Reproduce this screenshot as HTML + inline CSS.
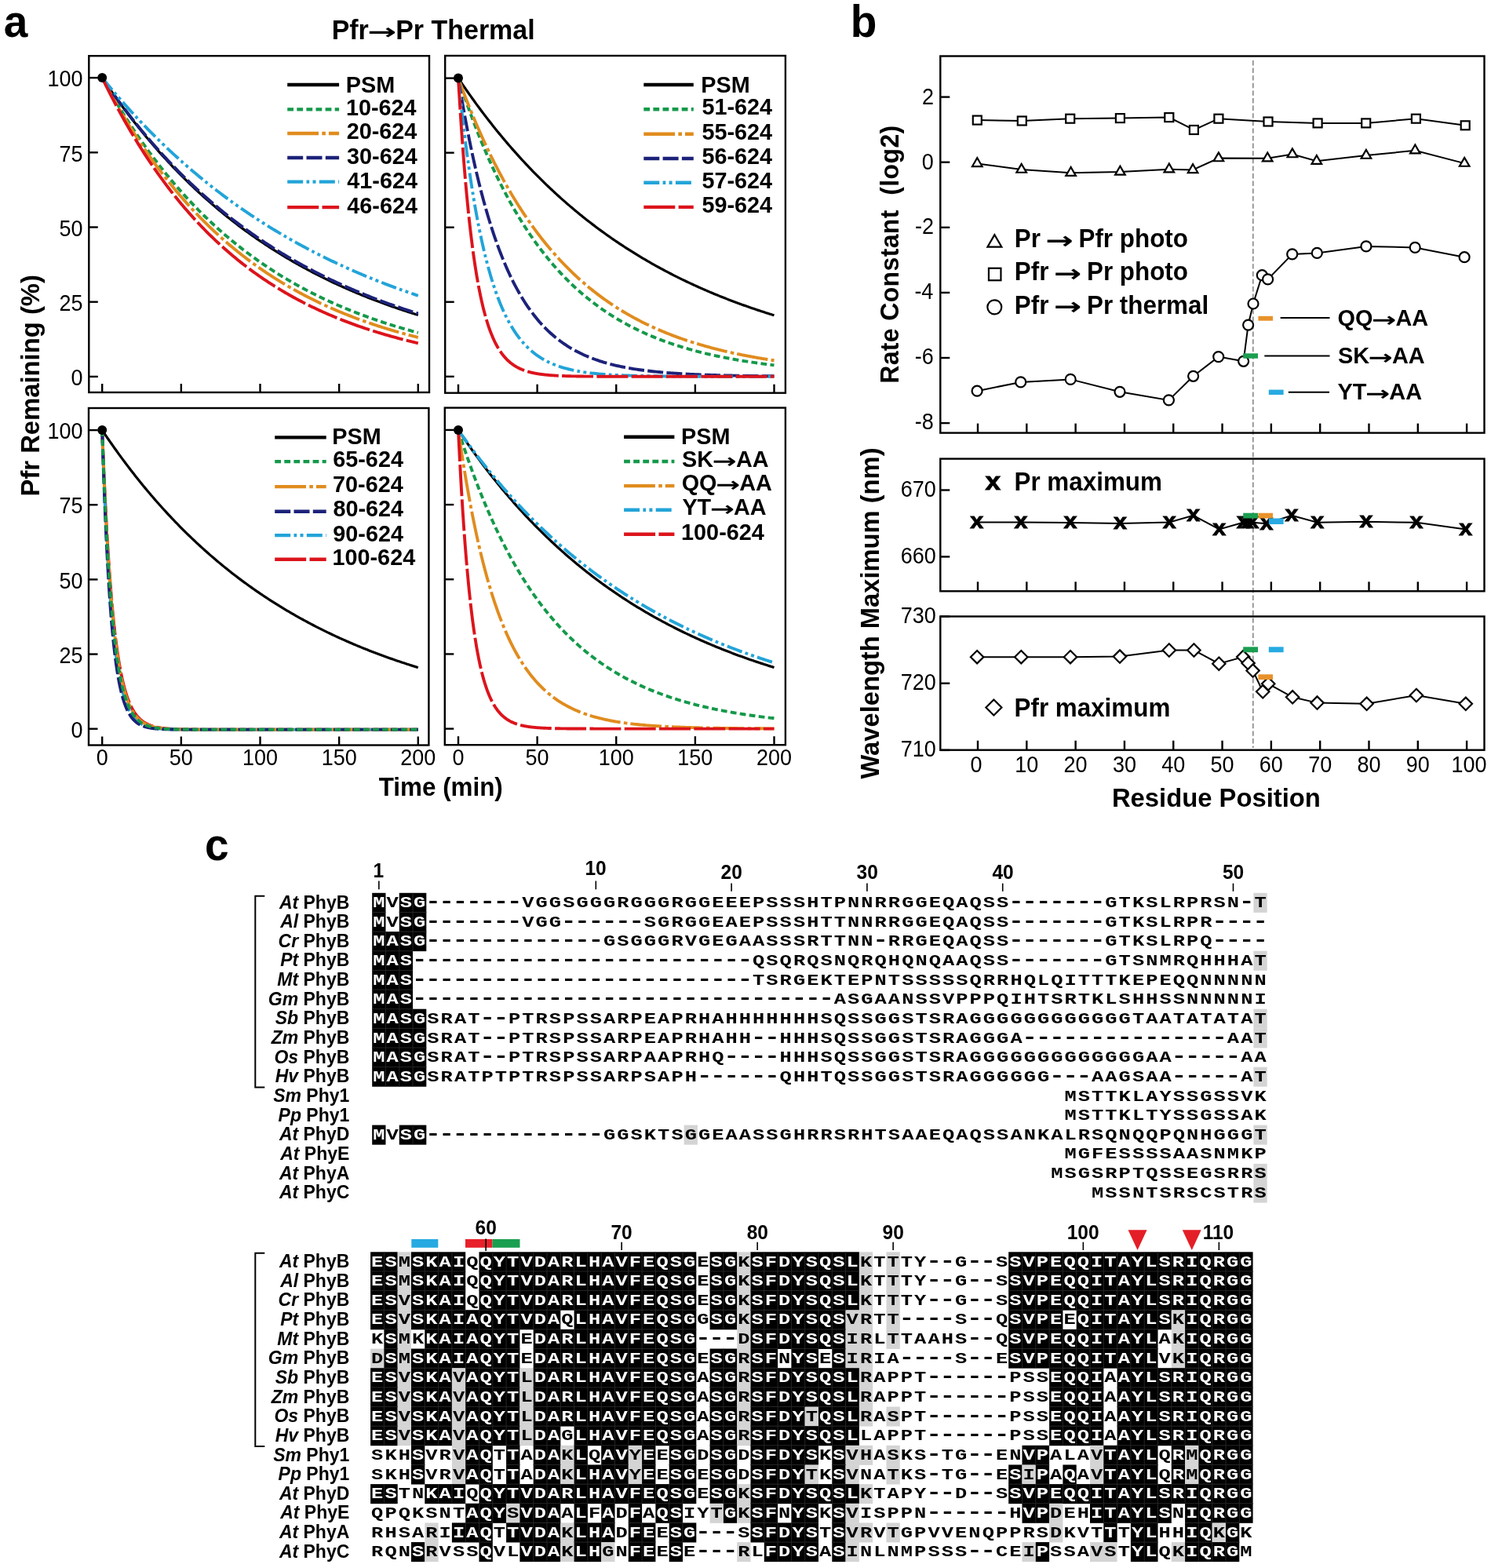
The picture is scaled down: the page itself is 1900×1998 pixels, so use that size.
<!DOCTYPE html>
<html><head><meta charset="utf-8"><title>Figure</title>
<style>html,body{margin:0;padding:0;background:#fff;}svg{display:block;}</style>
</head><body>
<svg xmlns="http://www.w3.org/2000/svg" width="1900" height="1998" viewBox="0 0 1900 1998" font-family="'Liberation Sans', Arial, sans-serif">
<rect width="100%" height="100%" fill="#fff"/>
<text transform="translate(4.79,47.4) scale(1,1.04)" font-size="55" style="font-weight:bold" fill="#000">a</text>
<text transform="translate(422.63,49.6) scale(1,1.04)" font-size="34" style="font-weight:bold" fill="#000">Pfr</text>
<text transform="translate(468.23,50.01) scale(1.2978,0.8168)" font-family="'DejaVu Sans', sans-serif" font-size="34" style="font-weight:bold">→</text>
<text transform="translate(504.13,49.6) scale(1,1.04)" font-size="34" style="font-weight:bold" fill="#000">Pr Thermal</text>
<polyline points="130.2,99.1 132.21,102.1 134.23,105.07 136.24,108.02 138.25,110.95 140.26,113.85 142.28,116.73 144.29,119.59 146.3,122.42 148.32,125.23 150.33,128.03 152.34,130.79 154.36,133.54 156.37,136.27 158.38,138.97 160.39,141.65 162.41,144.32 164.42,146.96 166.43,149.58 168.45,152.18 170.46,154.75 172.47,157.31 174.49,159.85 176.5,162.37 178.51,164.87 180.52,167.35 182.54,169.81 184.55,172.25 186.56,174.67 188.58,177.07 190.59,179.45 192.6,181.82 194.62,184.16 196.63,186.49 198.64,188.8 200.65,191.09 202.67,193.36 204.68,195.62 206.69,197.85 208.71,200.07 210.72,202.27 212.73,204.46 214.75,206.63 216.76,208.78 218.77,210.91 220.78,213.03 222.8,215.13 224.81,217.21 226.82,219.28 228.84,221.33 230.85,223.36 232.86,225.38 234.88,227.38 236.89,229.37 238.9,231.34 240.91,233.3 242.93,235.24 244.94,237.16 246.95,239.07 248.97,240.97 250.98,242.85 252.99,244.71 255.01,246.57 257.02,248.4 259.03,250.22 261.04,252.03 263.06,253.82 265.07,255.6 267.08,257.37 269.1,259.12 271.11,260.86 273.12,262.58 275.14,264.29 277.15,265.99 279.16,267.67 281.17,269.34 283.19,271 285.2,272.64 287.21,274.27 289.23,275.89 291.24,277.49 293.25,279.09 295.27,280.67 297.28,282.23 299.29,283.79 301.3,285.33 303.32,286.86 305.33,288.38 307.34,289.89 309.36,291.39 311.37,292.87 313.38,294.34 315.4,295.8 317.41,297.25 319.42,298.69 321.44,300.11 323.45,301.53 325.46,302.93 327.47,304.32 329.49,305.71 331.5,307.08 333.51,308.44 335.53,309.79 337.54,311.12 339.55,312.45 341.56,313.77 343.58,315.08 345.59,316.37 347.6,317.66 349.62,318.94 351.63,320.2 353.64,321.46 355.66,322.71 357.67,323.94 359.68,325.17 361.69,326.39 363.71,327.6 365.72,328.8 367.73,329.98 369.75,331.16 371.76,332.33 373.77,333.5 375.79,334.65 377.8,335.79 379.81,336.92 381.82,338.05 383.84,339.17 385.85,340.27 387.86,341.37 389.88,342.46 391.89,343.54 393.9,344.62 395.92,345.68 397.93,346.74 399.94,347.78 401.95,348.82 403.97,349.86 405.98,350.88 407.99,351.89 410.01,352.9 412.02,353.9 414.03,354.89 416.05,355.88 418.06,356.85 420.07,357.82 422.08,358.78 424.1,359.73 426.11,360.68 428.12,361.62 430.14,362.55 432.15,363.47 434.16,364.39 436.18,365.3 438.19,366.2 440.2,367.09 442.21,367.98 444.23,368.86 446.24,369.74 448.25,370.6 450.27,371.46 452.28,372.32 454.29,373.16 456.31,374 458.32,374.84 460.33,375.66 462.34,376.48 464.36,377.3 466.37,378.1 468.38,378.9 470.4,379.7 472.41,380.49 474.42,381.27 476.44,382.05 478.45,382.82 480.46,383.58 482.47,384.34 484.49,385.09 486.5,385.84 488.51,386.58 490.53,387.31 492.54,388.04 494.55,388.76 496.57,389.48 498.58,390.19 500.59,390.9 502.6,391.6 504.62,392.29 506.63,392.98 508.64,393.67 510.66,394.34 512.67,395.02 514.68,395.68 516.7,396.35 518.71,397.01 520.72,397.66 522.74,398.3 524.75,398.95 526.76,399.58 528.77,400.22 530.79,400.84 532.8,401.46" fill="none" stroke="#000" stroke-width="3.2" stroke-linejoin="round"/>
<polyline points="130.2,99.1 132.21,102.73 134.23,106.33 136.24,109.9 138.25,113.43 140.26,116.93 142.28,120.39 144.29,123.82 146.3,127.22 148.32,130.59 150.33,133.92 152.34,137.22 154.36,140.49 156.37,143.73 158.38,146.94 160.39,150.12 162.41,153.27 164.42,156.39 166.43,159.47 168.45,162.53 170.46,165.56 172.47,168.56 174.49,171.53 176.5,174.47 178.51,177.39 180.52,180.28 182.54,183.14 184.55,185.97 186.56,188.77 188.58,191.55 190.59,194.31 192.6,197.03 194.62,199.73 196.63,202.4 198.64,205.05 200.65,207.68 202.67,210.27 204.68,212.85 206.69,215.4 208.71,217.92 210.72,220.42 212.73,222.9 214.75,225.35 216.76,227.78 218.77,230.19 220.78,232.57 222.8,234.93 224.81,237.27 226.82,239.58 228.84,241.88 230.85,244.15 232.86,246.4 234.88,248.63 236.89,250.84 238.9,253.02 240.91,255.19 242.93,257.33 244.94,259.46 246.95,261.56 248.97,263.64 250.98,265.71 252.99,267.75 255.01,269.78 257.02,271.78 259.03,273.77 261.04,275.74 263.06,277.68 265.07,279.61 267.08,281.53 269.1,283.42 271.11,285.29 273.12,287.15 275.14,288.99 277.15,290.81 279.16,292.62 281.17,294.41 283.19,296.18 285.2,297.93 287.21,299.67 289.23,301.39 291.24,303.09 293.25,304.78 295.27,306.45 297.28,308.1 299.29,309.74 301.3,311.37 303.32,312.98 305.33,314.57 307.34,316.15 309.36,317.71 311.37,319.26 313.38,320.79 315.4,322.31 317.41,323.81 319.42,325.3 321.44,326.78 323.45,328.24 325.46,329.69 327.47,331.12 329.49,332.54 331.5,333.95 333.51,335.34 335.53,336.72 337.54,338.09 339.55,339.44 341.56,340.78 343.58,342.11 345.59,343.42 347.6,344.73 349.62,346.02 351.63,347.3 353.64,348.56 355.66,349.81 357.67,351.06 359.68,352.29 361.69,353.5 363.71,354.71 365.72,355.9 367.73,357.09 369.75,358.26 371.76,359.42 373.77,360.57 375.79,361.71 377.8,362.84 379.81,363.96 381.82,365.06 383.84,366.16 385.85,367.24 387.86,368.32 389.88,369.38 391.89,370.44 393.9,371.48 395.92,372.52 397.93,373.54 399.94,374.56 401.95,375.56 403.97,376.56 405.98,377.55 407.99,378.52 410.01,379.49 412.02,380.45 414.03,381.4 416.05,382.34 418.06,383.27 420.07,384.19 422.08,385.1 424.1,386.01 426.11,386.91 428.12,387.79 430.14,388.67 432.15,389.54 434.16,390.4 436.18,391.26 438.19,392.11 440.2,392.94 442.21,393.77 444.23,394.59 446.24,395.41 448.25,396.22 450.27,397.01 452.28,397.81 454.29,398.59 456.31,399.36 458.32,400.13 460.33,400.89 462.34,401.65 464.36,402.4 466.37,403.14 468.38,403.87 470.4,404.59 472.41,405.31 474.42,406.02 476.44,406.73 478.45,407.43 480.46,408.12 482.47,408.8 484.49,409.48 486.5,410.16 488.51,410.82 490.53,411.48 492.54,412.13 494.55,412.78 496.57,413.42 498.58,414.05 500.59,414.68 502.6,415.31 504.62,415.92 506.63,416.53 508.64,417.14 510.66,417.74 512.67,418.33 514.68,418.92 516.7,419.5 518.71,420.08 520.72,420.65 522.74,421.21 524.75,421.77 526.76,422.33 528.77,422.88 530.79,423.42 532.8,423.96" fill="none" stroke="#14994a" stroke-width="3.9" stroke-dasharray="7.8 4.3" stroke-linejoin="round"/>
<polyline points="130.2,99.1 132.21,102.95 134.23,106.76 136.24,110.53 138.25,114.27 140.26,117.96 142.28,121.62 144.29,125.24 146.3,128.83 148.32,132.38 150.33,135.89 152.34,139.37 154.36,142.81 156.37,146.22 158.38,149.59 160.39,152.93 162.41,156.23 164.42,159.51 166.43,162.74 168.45,165.95 170.46,169.12 172.47,172.26 174.49,175.37 176.5,178.45 178.51,181.5 180.52,184.52 182.54,187.5 184.55,190.46 186.56,193.38 188.58,196.28 190.59,199.15 192.6,201.99 194.62,204.79 196.63,207.58 198.64,210.33 200.65,213.05 202.67,215.75 204.68,218.42 206.69,221.06 208.71,223.68 210.72,226.27 212.73,228.83 214.75,231.37 216.76,233.88 218.77,236.37 220.78,238.83 222.8,241.27 224.81,243.68 226.82,246.07 228.84,248.43 230.85,250.77 232.86,253.09 234.88,255.38 236.89,257.65 238.9,259.9 240.91,262.12 242.93,264.32 244.94,266.5 246.95,268.66 248.97,270.8 250.98,272.91 252.99,275 255.01,277.07 257.02,279.12 259.03,281.15 261.04,283.16 263.06,285.15 265.07,287.12 267.08,289.07 269.1,291 271.11,292.91 273.12,294.8 275.14,296.67 277.15,298.52 279.16,300.35 281.17,302.17 283.19,303.97 285.2,305.74 287.21,307.5 289.23,309.25 291.24,310.97 293.25,312.68 295.27,314.37 297.28,316.04 299.29,317.7 301.3,319.34 303.32,320.96 305.33,322.57 307.34,324.16 309.36,325.73 311.37,327.29 313.38,328.83 315.4,330.36 317.41,331.87 319.42,333.37 321.44,334.85 323.45,336.32 325.46,337.77 327.47,339.21 329.49,340.63 331.5,342.04 333.51,343.43 335.53,344.81 337.54,346.17 339.55,347.53 341.56,348.86 343.58,350.19 345.59,351.5 347.6,352.8 349.62,354.08 351.63,355.35 353.64,356.61 355.66,357.86 357.67,359.09 359.68,360.31 361.69,361.52 363.71,362.72 365.72,363.9 367.73,365.08 369.75,366.24 371.76,367.39 373.77,368.52 375.79,369.65 377.8,370.76 379.81,371.87 381.82,372.96 383.84,374.04 385.85,375.11 387.86,376.17 389.88,377.22 391.89,378.26 393.9,379.28 395.92,380.3 397.93,381.31 399.94,382.3 401.95,383.29 403.97,384.27 405.98,385.23 407.99,386.19 410.01,387.14 412.02,388.08 414.03,389 416.05,389.92 418.06,390.83 420.07,391.73 422.08,392.62 424.1,393.51 426.11,394.38 428.12,395.24 430.14,396.1 432.15,396.95 434.16,397.79 436.18,398.62 438.19,399.44 440.2,400.25 442.21,401.06 444.23,401.85 446.24,402.64 448.25,403.42 450.27,404.2 452.28,404.96 454.29,405.72 456.31,406.47 458.32,407.21 460.33,407.95 462.34,408.67 464.36,409.39 466.37,410.11 468.38,410.81 470.4,411.51 472.41,412.2 474.42,412.89 476.44,413.56 478.45,414.23 480.46,414.9 482.47,415.55 484.49,416.2 486.5,416.85 488.51,417.49 490.53,418.12 492.54,418.74 494.55,419.36 496.57,419.97 498.58,420.58 500.59,421.18 502.6,421.77 504.62,422.36 506.63,422.94 508.64,423.52 510.66,424.09 512.67,424.65 514.68,425.21 516.7,425.76 518.71,426.31 520.72,426.85 522.74,427.39 524.75,427.92 526.76,428.44 528.77,428.96 530.79,429.48 532.8,429.99" fill="none" stroke="#e08c1e" stroke-width="3.9" stroke-dasharray="39.8 4.3 4.6 4.0" stroke-linejoin="round"/>
<polyline points="130.2,99.1 132.21,102.05 134.23,104.98 136.24,107.88 138.25,110.77 140.26,113.63 142.28,116.47 144.29,119.28 146.3,122.08 148.32,124.85 150.33,127.6 152.34,130.33 154.36,133.04 156.37,135.73 158.38,138.4 160.39,141.04 162.41,143.67 164.42,146.28 166.43,148.86 168.45,151.43 170.46,153.97 172.47,156.5 174.49,159 176.5,161.49 178.51,163.96 180.52,166.41 182.54,168.84 184.55,171.25 186.56,173.64 188.58,176.01 190.59,178.37 192.6,180.71 194.62,183.02 196.63,185.32 198.64,187.61 200.65,189.87 202.67,192.12 204.68,194.35 206.69,196.56 208.71,198.76 210.72,200.94 212.73,203.1 214.75,205.25 216.76,207.37 218.77,209.49 220.78,211.58 222.8,213.66 224.81,215.72 226.82,217.77 228.84,219.8 230.85,221.82 232.86,223.82 234.88,225.8 236.89,227.77 238.9,229.73 240.91,231.67 242.93,233.59 244.94,235.5 246.95,237.39 248.97,239.27 250.98,241.14 252.99,242.99 255.01,244.82 257.02,246.64 259.03,248.45 261.04,250.25 263.06,252.03 265.07,253.79 267.08,255.54 269.1,257.28 271.11,259.01 273.12,260.72 275.14,262.42 277.15,264.1 279.16,265.78 281.17,267.44 283.19,269.08 285.2,270.72 287.21,272.34 289.23,273.95 291.24,275.54 293.25,277.13 295.27,278.7 297.28,280.26 299.29,281.8 301.3,283.34 303.32,284.86 305.33,286.37 307.34,287.87 309.36,289.36 311.37,290.84 313.38,292.3 315.4,293.76 317.41,295.2 319.42,296.63 321.44,298.05 323.45,299.46 325.46,300.86 327.47,302.25 329.49,303.62 331.5,304.99 333.51,306.35 335.53,307.69 337.54,309.02 339.55,310.35 341.56,311.66 343.58,312.97 345.59,314.26 347.6,315.54 349.62,316.82 351.63,318.08 353.64,319.34 355.66,320.58 357.67,321.81 359.68,323.04 361.69,324.26 363.71,325.46 365.72,326.66 367.73,327.85 369.75,329.02 371.76,330.19 373.77,331.35 375.79,332.51 377.8,333.65 379.81,334.78 381.82,335.91 383.84,337.02 385.85,338.13 387.86,339.23 389.88,340.32 391.89,341.4 393.9,342.47 395.92,343.54 397.93,344.59 399.94,345.64 401.95,346.68 403.97,347.72 405.98,348.74 407.99,349.76 410.01,350.77 412.02,351.77 414.03,352.76 416.05,353.74 418.06,354.72 420.07,355.69 422.08,356.65 424.1,357.61 426.11,358.56 428.12,359.5 430.14,360.43 432.15,361.36 434.16,362.28 436.18,363.19 438.19,364.09 440.2,364.99 442.21,365.88 444.23,366.76 446.24,367.64 448.25,368.51 450.27,369.37 452.28,370.23 454.29,371.08 456.31,371.92 458.32,372.76 460.33,373.59 462.34,374.41 464.36,375.23 466.37,376.04 468.38,376.85 470.4,377.65 472.41,378.44 474.42,379.23 476.44,380.01 478.45,380.78 480.46,381.55 482.47,382.31 484.49,383.07 486.5,383.82 488.51,384.56 490.53,385.3 492.54,386.03 494.55,386.76 496.57,387.48 498.58,388.2 500.59,388.91 502.6,389.61 504.62,390.31 506.63,391.01 508.64,391.7 510.66,392.38 512.67,393.06 514.68,393.73 516.7,394.4 518.71,395.06 520.72,395.72 522.74,396.37 524.75,397.02 526.76,397.66 528.77,398.3 530.79,398.93 532.8,399.56" fill="none" stroke="#1c2279" stroke-width="3.9" stroke-dasharray="20 4.3" stroke-linejoin="round"/>
<polyline points="130.2,99.1 132.21,101.58 134.23,104.04 136.24,106.49 138.25,108.92 140.26,111.33 142.28,113.73 144.29,116.11 146.3,118.48 148.32,120.83 150.33,123.17 152.34,125.49 154.36,127.8 156.37,130.09 158.38,132.37 160.39,134.63 162.41,136.88 164.42,139.11 166.43,141.33 168.45,143.53 170.46,145.72 172.47,147.9 174.49,150.06 176.5,152.2 178.51,154.34 180.52,156.46 182.54,158.56 184.55,160.65 186.56,162.73 188.58,164.8 190.59,166.85 192.6,168.88 194.62,170.91 196.63,172.92 198.64,174.92 200.65,176.9 202.67,178.87 204.68,180.83 206.69,182.78 208.71,184.71 210.72,186.64 212.73,188.54 214.75,190.44 216.76,192.32 218.77,194.2 220.78,196.06 222.8,197.9 224.81,199.74 226.82,201.56 228.84,203.37 230.85,205.17 232.86,206.96 234.88,208.74 236.89,210.5 238.9,212.26 240.91,214 242.93,215.73 244.94,217.45 246.95,219.16 248.97,220.85 250.98,222.54 252.99,224.22 255.01,225.88 257.02,227.53 259.03,229.18 261.04,230.81 263.06,232.43 265.07,234.04 267.08,235.64 269.1,237.23 271.11,238.81 273.12,240.38 275.14,241.94 277.15,243.49 279.16,245.02 281.17,246.55 283.19,248.07 285.2,249.58 287.21,251.08 289.23,252.57 291.24,254.05 293.25,255.52 295.27,256.98 297.28,258.43 299.29,259.87 301.3,261.3 303.32,262.73 305.33,264.14 307.34,265.54 309.36,266.94 311.37,268.33 313.38,269.7 315.4,271.07 317.41,272.43 319.42,273.78 321.44,275.12 323.45,276.46 325.46,277.78 327.47,279.09 329.49,280.4 331.5,281.7 333.51,282.99 335.53,284.27 337.54,285.55 339.55,286.81 341.56,288.07 343.58,289.32 345.59,290.56 347.6,291.79 349.62,293.01 351.63,294.23 353.64,295.44 355.66,296.64 357.67,297.83 359.68,299.02 361.69,300.19 363.71,301.36 365.72,302.53 367.73,303.68 369.75,304.83 371.76,305.97 373.77,307.1 375.79,308.22 377.8,309.34 379.81,310.45 381.82,311.55 383.84,312.65 385.85,313.74 387.86,314.82 389.88,315.89 391.89,316.96 393.9,318.02 395.92,319.08 397.93,320.12 399.94,321.16 401.95,322.2 403.97,323.22 405.98,324.24 407.99,325.25 410.01,326.26 412.02,327.26 414.03,328.25 416.05,329.24 418.06,330.22 420.07,331.2 422.08,332.16 424.1,333.13 426.11,334.08 428.12,335.03 430.14,335.97 432.15,336.91 434.16,337.84 436.18,338.77 438.19,339.68 440.2,340.6 442.21,341.5 444.23,342.4 446.24,343.3 448.25,344.19 450.27,345.07 452.28,345.95 454.29,346.82 456.31,347.69 458.32,348.55 460.33,349.4 462.34,350.25 464.36,351.1 466.37,351.93 468.38,352.77 470.4,353.59 472.41,354.42 474.42,355.23 476.44,356.04 478.45,356.85 480.46,357.65 482.47,358.45 484.49,359.24 486.5,360.02 488.51,360.8 490.53,361.58 492.54,362.35 494.55,363.11 496.57,363.87 498.58,364.63 500.59,365.38 502.6,366.12 504.62,366.87 506.63,367.6 508.64,368.33 510.66,369.06 512.67,369.78 514.68,370.5 516.7,371.21 518.71,371.92 520.72,372.62 522.74,373.32 524.75,374.01 526.76,374.7 528.77,375.38 530.79,376.06 532.8,376.74" fill="none" stroke="#22a4d8" stroke-width="3.9" stroke-dasharray="20 4.3 3.7 4.3 4.0 4.3" stroke-linejoin="round"/>
<polyline points="130.2,99.1 132.21,103.25 134.23,107.35 136.24,111.41 138.25,115.42 140.26,119.39 142.28,123.31 144.29,127.2 146.3,131.04 148.32,134.84 150.33,138.6 152.34,142.31 154.36,145.99 156.37,149.63 158.38,153.22 160.39,156.78 162.41,160.3 164.42,163.78 166.43,167.22 168.45,170.63 170.46,174 172.47,177.33 174.49,180.62 176.5,183.88 178.51,187.1 180.52,190.29 182.54,193.45 184.55,196.57 186.56,199.65 188.58,202.7 190.59,205.72 192.6,208.71 194.62,211.66 196.63,214.58 198.64,217.47 200.65,220.33 202.67,223.16 204.68,225.95 206.69,228.72 208.71,231.45 210.72,234.16 212.73,236.84 214.75,239.48 216.76,242.1 218.77,244.69 220.78,247.25 222.8,249.79 224.81,252.29 226.82,254.77 228.84,257.22 230.85,259.65 232.86,262.05 234.88,264.42 236.89,266.77 238.9,269.09 240.91,271.38 242.93,273.65 244.94,275.9 246.95,278.12 248.97,280.32 250.98,282.49 252.99,284.64 255.01,286.77 257.02,288.87 259.03,290.95 261.04,293.01 263.06,295.04 265.07,297.06 267.08,299.05 269.1,301.02 271.11,302.97 273.12,304.89 275.14,306.8 277.15,308.68 279.16,310.55 281.17,312.39 283.19,314.22 285.2,316.02 287.21,317.81 289.23,319.57 291.24,321.32 293.25,323.04 295.27,324.75 297.28,326.44 299.29,328.11 301.3,329.77 303.32,331.4 305.33,333.02 307.34,334.62 309.36,336.2 311.37,337.77 313.38,339.31 315.4,340.84 317.41,342.36 319.42,343.86 321.44,345.34 323.45,346.8 325.46,348.25 327.47,349.69 329.49,351.1 331.5,352.51 333.51,353.89 335.53,355.27 337.54,356.62 339.55,357.97 341.56,359.29 343.58,360.61 345.59,361.91 347.6,363.19 349.62,364.46 351.63,365.72 353.64,366.96 355.66,368.19 357.67,369.41 359.68,370.61 361.69,371.8 363.71,372.98 365.72,374.15 367.73,375.3 369.75,376.44 371.76,377.56 373.77,378.68 375.79,379.78 377.8,380.87 379.81,381.95 381.82,383.02 383.84,384.07 385.85,385.11 387.86,386.15 389.88,387.17 391.89,388.18 393.9,389.18 395.92,390.16 397.93,391.14 399.94,392.11 401.95,393.06 403.97,394.01 405.98,394.94 407.99,395.87 410.01,396.79 412.02,397.69 414.03,398.59 416.05,399.47 418.06,400.35 420.07,401.21 422.08,402.07 424.1,402.92 426.11,403.76 428.12,404.59 430.14,405.41 432.15,406.22 434.16,407.02 436.18,407.81 438.19,408.6 440.2,409.37 442.21,410.14 444.23,410.9 446.24,411.65 448.25,412.4 450.27,413.13 452.28,413.86 454.29,414.58 456.31,415.29 458.32,415.99 460.33,416.69 462.34,417.38 464.36,418.06 466.37,418.73 468.38,419.4 470.4,420.06 472.41,420.71 474.42,421.35 476.44,421.99 478.45,422.62 480.46,423.25 482.47,423.86 484.49,424.47 486.5,425.08 488.51,425.67 490.53,426.26 492.54,426.85 494.55,427.43 496.57,428 498.58,428.56 500.59,429.12 502.6,429.67 504.62,430.22 506.63,430.76 508.64,431.3 510.66,431.83 512.67,432.35 514.68,432.87 516.7,433.38 518.71,433.89 520.72,434.39 522.74,434.88 524.75,435.37 526.76,435.86 528.77,436.34 530.79,436.81 532.8,437.28" fill="none" stroke="#dc141c" stroke-width="3.9" stroke-dasharray="40 4.3" stroke-linejoin="round"/>
<circle cx="130.2" cy="99.1" r="6" fill="#000"/>
<rect x="113.3" y="71.2" width="433.7" height="428.8" fill="none" stroke="#000" stroke-width="2.4"/>
<line x1="113.3" y1="479.9" x2="124.8" y2="479.9" stroke="#000" stroke-width="2.4"/>
<line x1="113.3" y1="384.7" x2="124.8" y2="384.7" stroke="#000" stroke-width="2.4"/>
<line x1="113.3" y1="289.5" x2="124.8" y2="289.5" stroke="#000" stroke-width="2.4"/>
<line x1="113.3" y1="194.3" x2="124.8" y2="194.3" stroke="#000" stroke-width="2.4"/>
<line x1="113.3" y1="99.1" x2="124.8" y2="99.1" stroke="#000" stroke-width="2.4"/>
<line x1="130.2" y1="500" x2="130.2" y2="489" stroke="#000" stroke-width="2.4"/>
<line x1="230.85" y1="500" x2="230.85" y2="489" stroke="#000" stroke-width="2.4"/>
<line x1="331.5" y1="500" x2="331.5" y2="489" stroke="#000" stroke-width="2.4"/>
<line x1="432.15" y1="500" x2="432.15" y2="489" stroke="#000" stroke-width="2.4"/>
<line x1="532.8" y1="500" x2="532.8" y2="489" stroke="#000" stroke-width="2.4"/>
<text transform="translate(90.44,491.1) scale(1,1.075)" font-size="27" style="" fill="#000">0</text>
<text transform="translate(75.5,395.9) scale(1,1.075)" font-size="27" style="" fill="#000">25</text>
<text transform="translate(75.42,300.7) scale(1,1.075)" font-size="27" style="" fill="#000">50</text>
<text transform="translate(75.5,205.5) scale(1,1.075)" font-size="27" style="" fill="#000">75</text>
<text transform="translate(60.41,110.3) scale(1,1.075)" font-size="27" style="" fill="#000">100</text>
<line x1="366.2" y1="108" x2="432.1" y2="108" stroke="#000" stroke-width="4.4"/>
<text transform="translate(440.77,118) scale(1,1.04)" font-size="28.8" style="font-weight:bold" fill="#000">PSM</text>
<line x1="366.2" y1="139.4" x2="432.1" y2="139.4" stroke="#14994a" stroke-width="4.4" stroke-dasharray="7.8 4.3"/>
<text transform="translate(440.89,146.8) scale(1,1.04)" font-size="28.8" style="font-weight:bold" fill="#000">10-624</text>
<line x1="366.2" y1="170" x2="432.1" y2="170" stroke="#e08c1e" stroke-width="4.4" stroke-dasharray="39.8 4.3 4.6 4.0"/>
<text transform="translate(441.7,177.2) scale(1,1.04)" font-size="28.8" style="font-weight:bold" fill="#000">20-624</text>
<line x1="366.2" y1="201" x2="432.1" y2="201" stroke="#1c2279" stroke-width="4.4" stroke-dasharray="20 4.3"/>
<text transform="translate(442.04,209.2) scale(1,1.04)" font-size="28.8" style="font-weight:bold" fill="#000">30-624</text>
<line x1="366.2" y1="231.6" x2="432.1" y2="231.6" stroke="#22a4d8" stroke-width="4.4" stroke-dasharray="20 4.3 3.7 4.3 4.0 4.3"/>
<text transform="translate(442.26,239.6) scale(1,1.04)" font-size="28.8" style="font-weight:bold" fill="#000">41-624</text>
<line x1="366.2" y1="264.1" x2="432.1" y2="264.1" stroke="#dc141c" stroke-width="4.4" stroke-dasharray="40 4.3"/>
<text transform="translate(442.26,272.1) scale(1,1.04)" font-size="28.8" style="font-weight:bold" fill="#000">46-624</text>
<polyline points="584,99.6 586.01,102.6 588.02,105.57 590.04,108.53 592.05,111.46 594.06,114.36 596.08,117.24 598.09,120.1 600.1,122.94 602.11,125.76 604.12,128.55 606.14,131.32 608.15,134.07 610.16,136.8 612.17,139.5 614.19,142.19 616.2,144.85 618.21,147.49 620.23,150.12 622.24,152.72 624.25,155.3 626.26,157.86 628.27,160.4 630.29,162.92 632.3,165.42 634.31,167.9 636.33,170.36 638.34,172.8 640.35,175.22 642.36,177.62 644.38,180.01 646.39,182.37 648.4,184.72 650.41,187.04 652.42,189.35 654.44,191.65 656.45,193.92 658.46,196.17 660.48,198.41 662.49,200.63 664.5,202.83 666.51,205.02 668.52,207.19 670.54,209.34 672.55,211.47 674.56,213.59 676.58,215.69 678.59,217.77 680.6,219.84 682.61,221.89 684.62,223.92 686.64,225.94 688.65,227.94 690.66,229.93 692.67,231.9 694.69,233.86 696.7,235.8 698.71,237.72 700.73,239.63 702.74,241.53 704.75,243.41 706.76,245.27 708.77,247.12 710.79,248.96 712.8,250.78 714.81,252.58 716.83,254.38 718.84,256.16 720.85,257.92 722.86,259.67 724.88,261.41 726.89,263.13 728.9,264.84 730.91,266.53 732.92,268.22 734.94,269.89 736.95,271.54 738.96,273.18 740.98,274.81 742.99,276.43 745,278.04 747.01,279.63 749.02,281.21 751.04,282.77 753.05,284.33 755.06,285.87 757.08,287.4 759.09,288.92 761.1,290.42 763.11,291.92 765.12,293.4 767.14,294.87 769.15,296.33 771.16,297.78 773.17,299.21 775.19,300.64 777.2,302.05 779.21,303.45 781.23,304.84 783.24,306.22 785.25,307.59 787.26,308.95 789.27,310.3 791.29,311.64 793.3,312.96 795.31,314.28 797.33,315.58 799.34,316.88 801.35,318.17 803.36,319.44 805.38,320.71 807.39,321.96 809.4,323.21 811.41,324.44 813.42,325.67 815.44,326.88 817.45,328.09 819.46,329.29 821.48,330.47 823.49,331.65 825.5,332.82 827.51,333.98 829.52,335.13 831.54,336.27 833.55,337.4 835.56,338.53 837.58,339.64 839.59,340.75 841.6,341.84 843.61,342.93 845.62,344.01 847.64,345.08 849.65,346.15 851.66,347.2 853.67,348.25 855.69,349.28 857.7,350.31 859.71,351.33 861.73,352.35 863.74,353.35 865.75,354.35 867.76,355.34 869.77,356.32 871.79,357.3 873.8,358.26 875.81,359.22 877.83,360.17 879.84,361.12 881.85,362.05 883.86,362.98 885.88,363.9 887.89,364.82 889.9,365.72 891.91,366.62 893.92,367.52 895.94,368.4 897.95,369.28 899.96,370.15 901.98,371.02 903.99,371.88 906,372.73 908.01,373.57 910.02,374.41 912.04,375.24 914.05,376.07 916.06,376.89 918.08,377.7 920.09,378.5 922.1,379.3 924.11,380.09 926.12,380.88 928.14,381.66 930.15,382.44 932.16,383.2 934.17,383.97 936.19,384.72 938.2,385.47 940.21,386.22 942.23,386.95 944.24,387.69 946.25,388.41 948.26,389.13 950.27,389.85 952.29,390.56 954.3,391.26 956.31,391.96 958.33,392.65 960.34,393.34 962.35,394.02 964.36,394.7 966.38,395.37 968.39,396.04 970.4,396.7 972.41,397.35 974.42,398 976.44,398.65 978.45,399.29 980.46,399.93 982.48,400.56 984.49,401.18 986.5,401.8" fill="none" stroke="#000" stroke-width="3.2" stroke-linejoin="round"/>
<polyline points="584,99.6 586.01,105.76 588.02,111.82 590.04,117.79 592.05,123.66 594.06,129.43 596.08,135.11 598.09,140.69 600.1,146.19 602.11,151.6 604.12,156.91 606.14,162.15 608.15,167.3 610.16,172.36 612.17,177.34 614.19,182.25 616.2,187.07 618.21,191.81 620.23,196.48 622.24,201.07 624.25,205.59 626.26,210.03 628.27,214.41 630.29,218.71 632.3,222.94 634.31,227.1 636.33,231.2 638.34,235.23 640.35,239.19 642.36,243.09 644.38,246.93 646.39,250.7 648.4,254.41 650.41,258.07 652.42,261.66 654.44,265.2 656.45,268.67 658.46,272.1 660.48,275.46 662.49,278.77 664.5,282.03 666.51,285.24 668.52,288.39 670.54,291.49 672.55,294.54 674.56,297.55 676.58,300.5 678.59,303.41 680.6,306.27 682.61,309.08 684.62,311.84 686.64,314.57 688.65,317.24 690.66,319.88 692.67,322.47 694.69,325.02 696.7,327.53 698.71,330 700.73,332.43 702.74,334.81 704.75,337.16 706.76,339.48 708.77,341.75 710.79,343.99 712.8,346.19 714.81,348.35 716.83,350.48 718.84,352.58 720.85,354.64 722.86,356.67 724.88,358.67 726.89,360.63 728.9,362.56 730.91,364.46 732.92,366.33 734.94,368.17 736.95,369.98 738.96,371.76 740.98,373.51 742.99,375.23 745,376.93 747.01,378.59 749.02,380.23 751.04,381.85 753.05,383.44 755.06,385 757.08,386.53 759.09,388.05 761.1,389.53 763.11,391 765.12,392.43 767.14,393.85 769.15,395.24 771.16,396.61 773.17,397.96 775.19,399.29 777.2,400.59 779.21,401.88 781.23,403.14 783.24,404.38 785.25,405.6 787.26,406.81 789.27,407.99 791.29,409.15 793.3,410.3 795.31,411.43 797.33,412.53 799.34,413.62 801.35,414.7 803.36,415.75 805.38,416.79 807.39,417.81 809.4,418.82 811.41,419.8 813.42,420.78 815.44,421.73 817.45,422.67 819.46,423.6 821.48,424.51 823.49,425.41 825.5,426.29 827.51,427.16 829.52,428.01 831.54,428.85 833.55,429.67 835.56,430.49 837.58,431.29 839.59,432.07 841.6,432.85 843.61,433.61 845.62,434.36 847.64,435.09 849.65,435.82 851.66,436.53 853.67,437.23 855.69,437.92 857.7,438.6 859.71,439.27 861.73,439.92 863.74,440.57 865.75,441.21 867.76,441.83 869.77,442.45 871.79,443.05 873.8,443.65 875.81,444.23 877.83,444.81 879.84,445.38 881.85,445.94 883.86,446.48 885.88,447.02 887.89,447.56 889.9,448.08 891.91,448.59 893.92,449.1 895.94,449.6 897.95,450.08 899.96,450.57 901.98,451.04 903.99,451.51 906,451.96 908.01,452.42 910.02,452.86 912.04,453.3 914.05,453.73 916.06,454.15 918.08,454.56 920.09,454.97 922.1,455.38 924.11,455.77 926.12,456.16 928.14,456.54 930.15,456.92 932.16,457.29 934.17,457.66 936.19,458.02 938.2,458.37 940.21,458.72 942.23,459.06 944.24,459.39 946.25,459.72 948.26,460.05 950.27,460.37 952.29,460.68 954.3,460.99 956.31,461.3 958.33,461.6 960.34,461.89 962.35,462.18 964.36,462.47 966.38,462.75 968.39,463.03 970.4,463.3 972.41,463.57 974.42,463.83 976.44,464.09 978.45,464.34 980.46,464.59 982.48,464.84 984.49,465.08 986.5,465.32" fill="none" stroke="#14994a" stroke-width="3.9" stroke-dasharray="7.8 4.3" stroke-linejoin="round"/>
<polyline points="584,99.6 586.01,105.11 588.02,110.54 590.04,115.89 592.05,121.17 594.06,126.37 596.08,131.49 598.09,136.54 600.1,141.51 602.11,146.42 604.12,151.25 606.14,156.01 608.15,160.7 610.16,165.33 612.17,169.89 614.19,174.38 616.2,178.8 618.21,183.17 620.23,187.47 622.24,191.7 624.25,195.88 626.26,199.99 628.27,204.05 630.29,208.05 632.3,211.98 634.31,215.87 636.33,219.69 638.34,223.46 640.35,227.18 642.36,230.84 644.38,234.45 646.39,238 648.4,241.51 650.41,244.96 652.42,248.37 654.44,251.72 656.45,255.03 658.46,258.28 660.48,261.49 662.49,264.66 664.5,267.78 666.51,270.85 668.52,273.88 670.54,276.86 672.55,279.8 674.56,282.7 676.58,285.56 678.59,288.37 680.6,291.15 682.61,293.88 684.62,296.58 686.64,299.23 688.65,301.85 690.66,304.43 692.67,306.97 694.69,309.48 696.7,311.95 698.71,314.38 700.73,316.78 702.74,319.14 704.75,321.47 706.76,323.76 708.77,326.02 710.79,328.25 712.8,330.45 714.81,332.61 716.83,334.75 718.84,336.85 720.85,338.92 722.86,340.96 724.88,342.98 726.89,344.96 728.9,346.91 730.91,348.84 732.92,350.74 734.94,352.61 736.95,354.45 738.96,356.27 740.98,358.06 742.99,359.82 745,361.56 747.01,363.28 749.02,364.96 751.04,366.63 753.05,368.27 755.06,369.89 757.08,371.48 759.09,373.05 761.1,374.6 763.11,376.12 765.12,377.62 767.14,379.1 769.15,380.56 771.16,382 773.17,383.42 775.19,384.82 777.2,386.19 779.21,387.55 781.23,388.89 783.24,390.21 785.25,391.5 787.26,392.78 789.27,394.04 791.29,395.29 793.3,396.51 795.31,397.72 797.33,398.91 799.34,400.08 801.35,401.24 803.36,402.38 805.38,403.5 807.39,404.6 809.4,405.69 811.41,406.77 813.42,407.83 815.44,408.87 817.45,409.9 819.46,410.91 821.48,411.91 823.49,412.89 825.5,413.86 827.51,414.82 829.52,415.76 831.54,416.69 833.55,417.6 835.56,418.51 837.58,419.39 839.59,420.27 841.6,421.13 843.61,421.98 845.62,422.82 847.64,423.65 849.65,424.46 851.66,425.26 853.67,426.05 855.69,426.83 857.7,427.6 859.71,428.36 861.73,429.1 863.74,429.84 865.75,430.56 867.76,431.27 869.77,431.98 871.79,432.67 873.8,433.35 875.81,434.03 877.83,434.69 879.84,435.34 881.85,435.99 883.86,436.62 885.88,437.25 887.89,437.87 889.9,438.47 891.91,439.07 893.92,439.66 895.94,440.24 897.95,440.82 899.96,441.38 901.98,441.94 903.99,442.49 906,443.03 908.01,443.56 910.02,444.09 912.04,444.61 914.05,445.12 916.06,445.62 918.08,446.11 920.09,446.6 922.1,447.08 924.11,447.56 926.12,448.02 928.14,448.48 930.15,448.94 932.16,449.39 934.17,449.83 936.19,450.26 938.2,450.69 940.21,451.11 942.23,451.53 944.24,451.94 946.25,452.34 948.26,452.74 950.27,453.13 952.29,453.52 954.3,453.9 956.31,454.27 958.33,454.64 960.34,455.01 962.35,455.37 964.36,455.72 966.38,456.07 968.39,456.41 970.4,456.75 972.41,457.09 974.42,457.42 976.44,457.74 978.45,458.06 980.46,458.38 982.48,458.69 984.49,458.99 986.5,459.29" fill="none" stroke="#e08c1e" stroke-width="3.9" stroke-dasharray="39.8 4.3 4.6 4.0" stroke-linejoin="round"/>
<polyline points="584,99.6 586.01,111.94 588.02,123.88 590.04,135.44 592.05,146.62 594.06,157.43 596.08,167.9 598.09,178.02 600.1,187.82 602.11,197.29 604.12,206.47 606.14,215.34 608.15,223.92 610.16,232.23 612.17,240.27 614.19,248.04 616.2,255.56 618.21,262.84 620.23,269.89 622.24,276.7 624.25,283.29 626.26,289.67 628.27,295.84 630.29,301.82 632.3,307.59 634.31,313.18 636.33,318.59 638.34,323.82 640.35,328.89 642.36,333.79 644.38,338.53 646.39,343.11 648.4,347.55 650.41,351.84 652.42,356 654.44,360.02 656.45,363.9 658.46,367.67 660.48,371.31 662.49,374.83 664.5,378.24 666.51,381.53 668.52,384.72 670.54,387.81 672.55,390.79 674.56,393.68 676.58,396.48 678.59,399.18 680.6,401.8 682.61,404.33 684.62,406.78 686.64,409.15 688.65,411.45 690.66,413.67 692.67,415.81 694.69,417.89 696.7,419.9 698.71,421.84 700.73,423.72 702.74,425.54 704.75,427.31 706.76,429.01 708.77,430.66 710.79,432.25 712.8,433.8 714.81,435.29 716.83,436.74 718.84,438.13 720.85,439.49 722.86,440.79 724.88,442.06 726.89,443.29 728.9,444.47 730.91,445.62 732.92,446.73 734.94,447.8 736.95,448.84 738.96,449.84 740.98,450.82 742.99,451.76 745,452.67 747.01,453.55 749.02,454.4 751.04,455.23 753.05,456.02 755.06,456.8 757.08,457.54 759.09,458.26 761.1,458.96 763.11,459.64 765.12,460.29 767.14,460.93 769.15,461.54 771.16,462.13 773.17,462.71 775.19,463.26 777.2,463.8 779.21,464.32 781.23,464.82 783.24,465.31 785.25,465.78 787.26,466.23 789.27,466.67 791.29,467.1 793.3,467.51 795.31,467.91 797.33,468.3 799.34,468.67 801.35,469.03 803.36,469.38 805.38,469.72 807.39,470.05 809.4,470.36 811.41,470.67 813.42,470.97 815.44,471.25 817.45,471.53 819.46,471.8 821.48,472.06 823.49,472.31 825.5,472.55 827.51,472.79 829.52,473.02 831.54,473.24 833.55,473.45 835.56,473.65 837.58,473.85 839.59,474.05 841.6,474.23 843.61,474.41 845.62,474.59 847.64,474.76 849.65,474.92 851.66,475.08 853.67,475.23 855.69,475.38 857.7,475.53 859.71,475.66 861.73,475.8 863.74,475.93 865.75,476.05 867.76,476.18 869.77,476.29 871.79,476.41 873.8,476.52 875.81,476.62 877.83,476.73 879.84,476.83 881.85,476.92 883.86,477.02 885.88,477.11 887.89,477.19 889.9,477.28 891.91,477.36 893.92,477.44 895.94,477.52 897.95,477.59 899.96,477.66 901.98,477.73 903.99,477.8 906,477.86 908.01,477.93 910.02,477.99 912.04,478.05 914.05,478.1 916.06,478.16 918.08,478.21 920.09,478.26 922.1,478.31 924.11,478.36 926.12,478.41 928.14,478.45 930.15,478.5 932.16,478.54 934.17,478.58 936.19,478.62 938.2,478.66 940.21,478.7 942.23,478.73 944.24,478.77 946.25,478.8 948.26,478.83 950.27,478.86 952.29,478.89 954.3,478.92 956.31,478.95 958.33,478.98 960.34,479.01 962.35,479.03 964.36,479.06 966.38,479.08 968.39,479.1 970.4,479.13 972.41,479.15 974.42,479.17 976.44,479.19 978.45,479.21 980.46,479.23 982.48,479.25 984.49,479.27 986.5,479.28" fill="none" stroke="#1c2279" stroke-width="3.9" stroke-dasharray="20 4.3" stroke-linejoin="round"/>
<polyline points="584,99.6 584.5,104.6 585.01,109.54 585.51,114.42 586.01,119.23 586.52,123.97 587.02,128.66 587.52,133.28 588.02,137.84 588.53,142.34 589.03,146.78 589.53,151.17 590.04,155.49 590.54,159.76 591.04,163.97 591.55,168.13 592.05,172.23 592.55,176.28 593.06,180.28 593.56,184.22 594.06,188.11 594.57,191.95 595.07,195.74 595.57,199.48 596.08,203.17 596.58,206.81 597.08,210.4 597.58,213.95 598.09,217.45 598.59,220.9 599.09,224.31 599.6,227.67 600.1,230.99 600.6,234.26 601.11,237.49 601.61,240.68 602.11,243.83 602.62,246.94 603.12,250 603.62,253.03 604.12,256.01 604.63,258.96 605.13,261.86 605.63,264.73 606.14,267.56 606.64,270.36 607.14,273.11 607.65,275.84 608.15,278.52 608.65,281.17 609.16,283.78 609.66,286.36 610.16,288.91 610.67,291.42 611.17,293.9 611.67,296.35 612.17,298.76 612.68,301.15 613.18,303.5 613.68,305.82 614.19,308.11 614.69,310.37 615.19,312.6 615.7,314.8 616.2,316.97 616.7,319.11 617.21,321.23 617.71,323.32 618.21,325.38 618.72,327.41 619.22,329.42 619.72,331.39 620.23,333.35 620.73,335.28 621.23,337.18 621.73,339.06 622.24,340.91 622.74,342.74 623.24,344.54 623.75,346.32 624.25,348.08 624.75,349.81 625.26,351.52 625.76,353.21 626.26,354.88 626.77,356.52 627.27,358.14 627.77,359.75 628.27,361.33 628.78,362.88 629.28,364.42 629.78,365.94 630.29,367.44 630.79,368.92 631.29,370.38 631.8,371.82 632.3,373.24 632.8,374.64 633.31,376.03 633.81,377.39 634.31,378.74 634.82,380.07 635.32,381.38 635.82,382.68 636.33,383.96 636.83,385.22 637.33,386.46 637.83,387.69 638.34,388.91 638.84,390.1 639.34,391.28 639.85,392.45 640.35,393.6 640.85,394.73 641.36,395.85 641.86,396.96 642.36,398.05 642.87,399.12 643.37,400.19 643.87,401.23 644.38,402.27 644.88,403.29 645.38,404.3 645.88,405.29 646.39,406.27 646.89,407.24 647.39,408.19 647.9,409.14 648.4,410.07 648.9,410.98 649.41,411.89 649.91,412.78 650.41,413.67 650.92,414.54 651.42,415.39 651.92,416.24 652.42,417.08 652.93,417.9 653.43,418.72 653.93,419.52 654.44,420.32 654.94,421.1 655.44,421.87 655.95,422.63 656.45,423.39 656.95,424.13 657.46,424.86 657.96,425.59 658.46,426.3 658.97,427 659.47,427.7 659.97,428.38 660.48,429.06 660.98,429.73 661.48,430.39 661.98,431.04 662.49,431.68 662.99,432.31 663.49,432.94 664,433.56 664.5,434.16 665,434.76 665.51,435.36 666.01,435.94 666.51,436.52 667.02,437.09 667.52,437.65 668.02,438.21 668.52,438.75 669.03,439.29 669.53,439.83 670.03,440.35 670.54,440.87 671.04,441.39 671.54,441.89 672.05,442.39 672.55,442.88 673.05,443.37 673.56,443.85 674.06,444.32 674.56,444.79 675.07,445.25 675.57,445.7 676.07,446.15 676.58,446.6 677.08,447.03 677.58,447.46 678.08,447.89 678.59,448.31 679.09,448.72 679.59,449.13 680.1,449.54 680.6,449.93 681.1,450.33 681.61,450.72 682.11,451.1 682.61,451.48 683.12,451.85 683.62,452.22 684.12,452.58 684.62,452.94 685.13,453.29 685.63,453.64 686.13,453.99 686.64,454.33 687.14,454.66 687.64,454.99 688.15,455.32 688.65,455.64 689.15,455.96 689.66,456.27 690.16,456.58 690.66,456.89 691.17,457.19 691.67,457.49 692.17,457.78 692.67,458.07 693.18,458.36 693.68,458.64 694.18,458.92 694.69,459.19 695.19,459.46 695.69,459.73 696.2,459.99 696.7,460.26 697.2,460.51 697.71,460.77 698.21,461.02 698.71,461.26 699.22,461.51 699.72,461.75 700.22,461.99 700.73,462.22 701.23,462.45 701.73,462.68 702.23,462.91 702.74,463.13 703.24,463.35 703.74,463.56 704.25,463.78 704.75,463.99 706.76,464.81 708.77,465.58 710.79,466.31 712.8,467.01 714.81,467.67 716.83,468.3 718.84,468.89 720.85,469.45 722.86,469.99 724.88,470.49 726.89,470.97 728.9,471.43 730.91,471.86 732.92,472.27 734.94,472.66 736.95,473.03 738.96,473.38 740.98,473.71 742.99,474.02 745,474.32 747.01,474.6 749.02,474.87 751.04,475.13 753.05,475.37 755.06,475.6 757.08,475.81 759.09,476.02 761.1,476.22 763.11,476.4 765.12,476.58 767.14,476.74 769.15,476.9 771.16,477.05 773.17,477.19 775.19,477.33 777.2,477.45 779.21,477.58 781.23,477.69 783.24,477.8 785.25,477.9 787.26,478 789.27,478.09 791.29,478.18 793.3,478.26 795.31,478.34 797.33,478.42 799.34,478.49 801.35,478.56 803.36,478.62 805.38,478.68 807.39,478.74 809.4,478.8 811.41,478.85 813.42,478.9 815.44,478.94 817.45,478.99 819.46,479.03 821.48,479.07 823.49,479.11 825.5,479.14 827.51,479.18 829.52,479.21 831.54,479.24 833.55,479.27 835.56,479.3 837.58,479.32 839.59,479.35 841.6,479.37 843.61,479.39 845.62,479.41 847.64,479.43 849.65,479.45 851.66,479.47 853.67,479.49 855.69,479.5 857.7,479.52 859.71,479.53 861.73,479.55 863.74,479.56 865.75,479.57 867.76,479.58 869.77,479.6 871.79,479.61 873.8,479.62 875.81,479.63 877.83,479.63 879.84,479.64 881.85,479.65 883.86,479.66 885.88,479.67 887.89,479.67 889.9,479.68 891.91,479.69 893.92,479.69 895.94,479.7 897.95,479.7 899.96,479.71 901.98,479.71 903.99,479.72 906,479.72 908.01,479.73 910.02,479.73 912.04,479.73 914.05,479.74 916.06,479.74 918.08,479.74 920.09,479.75 922.1,479.75 924.11,479.75 926.12,479.75 928.14,479.76 930.15,479.76 932.16,479.76 934.17,479.76 936.19,479.76 938.2,479.77 940.21,479.77 942.23,479.77 944.24,479.77 946.25,479.77 948.26,479.77 950.27,479.78 952.29,479.78 954.3,479.78 956.31,479.78 958.33,479.78 960.34,479.78 962.35,479.78 964.36,479.78 966.38,479.78 968.39,479.78 970.4,479.79 972.41,479.79 974.42,479.79 976.44,479.79 978.45,479.79 980.46,479.79 982.48,479.79 984.49,479.79 986.5,479.79" fill="none" stroke="#22a4d8" stroke-width="3.9" stroke-dasharray="20 4.3 3.7 4.3 4.0 4.3" stroke-linejoin="round"/>
<polyline points="584,99.6 584.5,108.34 585.01,116.87 585.51,125.22 586.01,133.36 586.52,141.33 587.02,149.1 587.52,156.7 588.02,164.13 588.53,171.38 589.03,178.47 589.53,185.4 590.04,192.16 590.54,198.77 591.04,205.23 591.55,211.54 592.05,217.71 592.55,223.73 593.06,229.62 593.56,235.37 594.06,240.98 594.57,246.47 595.07,251.83 595.57,257.07 596.08,262.19 596.58,267.19 597.08,272.08 597.58,276.85 598.09,281.52 598.59,286.07 599.09,290.53 599.6,294.88 600.1,299.13 600.6,303.28 601.11,307.33 601.61,311.3 602.11,315.17 602.62,318.95 603.12,322.65 603.62,326.26 604.12,329.79 604.63,333.24 605.13,336.61 605.63,339.9 606.14,343.11 606.64,346.25 607.14,349.32 607.65,352.32 608.15,355.25 608.65,358.11 609.16,360.91 609.66,363.64 610.16,366.31 610.67,368.92 611.17,371.47 611.67,373.96 612.17,376.39 612.68,378.77 613.18,381.09 613.68,383.36 614.19,385.57 614.69,387.74 615.19,389.86 615.7,391.92 616.2,393.94 616.7,395.91 617.21,397.84 617.71,399.73 618.21,401.57 618.72,403.36 619.22,405.12 619.72,406.84 620.23,408.51 620.73,410.15 621.23,411.75 621.73,413.32 622.24,414.84 622.74,416.34 623.24,417.8 623.75,419.22 624.25,420.61 624.75,421.97 625.26,423.3 625.76,424.6 626.26,425.87 626.77,427.11 627.27,428.32 627.77,429.5 628.27,430.66 628.78,431.79 629.28,432.89 629.78,433.97 630.29,435.02 630.79,436.05 631.29,437.06 631.8,438.04 632.3,439 632.8,439.94 633.31,440.85 633.81,441.75 634.31,442.62 634.82,443.48 635.32,444.31 635.82,445.13 636.33,445.92 636.83,446.7 637.33,447.46 637.83,448.21 638.34,448.93 638.84,449.64 639.34,450.34 639.85,451.01 640.35,451.67 640.85,452.32 641.36,452.95 641.86,453.57 642.36,454.17 642.87,454.76 643.37,455.34 643.87,455.9 644.38,456.45 644.88,456.98 645.38,457.51 645.88,458.02 646.39,458.52 646.89,459.01 647.39,459.49 647.9,459.96 648.4,460.41 648.9,460.86 649.41,461.29 649.91,461.72 650.41,462.13 650.92,462.54 651.42,462.94 651.92,463.32 652.42,463.7 652.93,464.07 653.43,464.43 653.93,464.79 654.44,465.13 654.94,465.47 655.44,465.8 655.95,466.12 656.45,466.43 656.95,466.74 657.46,467.04 657.96,467.33 658.46,467.62 658.97,467.9 659.47,468.17 659.97,468.44 660.48,468.7 660.98,468.96 661.48,469.21 661.98,469.45 662.49,469.69 662.99,469.92 663.49,470.15 664,470.37 664.5,470.59 665,470.8 665.51,471 666.01,471.21 666.51,471.4 667.02,471.6 667.52,471.79 668.02,471.97 668.52,472.15 669.03,472.33 669.53,472.5 670.03,472.67 670.54,472.83 671.04,472.99 671.54,473.15 672.05,473.3 672.55,473.45 673.05,473.59 673.56,473.74 674.06,473.88 674.56,474.01 675.07,474.15 675.57,474.28 676.07,474.4 676.58,474.53 677.08,474.65 677.58,474.77 678.08,474.88 678.59,474.99 679.09,475.11 679.59,475.21 680.1,475.32 680.6,475.42 681.1,475.52 681.61,475.62 682.11,475.72 682.61,475.81 683.12,475.9 683.62,475.99 684.12,476.08 684.62,476.16 685.13,476.25 685.63,476.33 686.13,476.41 686.64,476.49 687.14,476.56 687.64,476.64 688.15,476.71 688.65,476.78 689.15,476.85 689.66,476.92 690.16,476.99 690.66,477.05 691.17,477.11 691.67,477.17 692.17,477.24 692.67,477.29 693.18,477.35 693.68,477.41 694.18,477.46 694.69,477.52 695.19,477.57 695.69,477.62 696.2,477.67 696.7,477.72 697.2,477.77 697.71,477.81 698.21,477.86 698.71,477.9 699.22,477.95 699.72,477.99 700.22,478.03 700.73,478.07 701.23,478.11 701.73,478.15 702.23,478.19 702.74,478.23 703.24,478.26 703.74,478.3 704.25,478.33 704.75,478.37 706.76,478.49 708.77,478.61 710.79,478.71 712.8,478.81 714.81,478.9 716.83,478.98 718.84,479.05 720.85,479.12 722.86,479.18 724.88,479.23 726.89,479.28 728.9,479.33 730.91,479.37 732.92,479.41 734.94,479.44 736.95,479.48 738.96,479.5 740.98,479.53 742.99,479.55 745,479.58 747.01,479.6 749.02,479.61 751.04,479.63 753.05,479.65 755.06,479.66 757.08,479.67 759.09,479.68 761.1,479.69 763.11,479.7 765.12,479.71 767.14,479.72 769.15,479.73 771.16,479.73 773.17,479.74 775.19,479.74 777.2,479.75 779.21,479.75 781.23,479.76 783.24,479.76 785.25,479.77 787.26,479.77 789.27,479.77 791.29,479.77 793.3,479.78 795.31,479.78 797.33,479.78 799.34,479.78 801.35,479.78 803.36,479.78 805.38,479.79 807.39,479.79 809.4,479.79 811.41,479.79 813.42,479.79 815.44,479.79 817.45,479.79 819.46,479.79 821.48,479.79 823.49,479.79 825.5,479.79 827.51,479.8 829.52,479.8 831.54,479.8 833.55,479.8 835.56,479.8 837.58,479.8 839.59,479.8 841.6,479.8 843.61,479.8 845.62,479.8 847.64,479.8 849.65,479.8 851.66,479.8 853.67,479.8 855.69,479.8 857.7,479.8 859.71,479.8 861.73,479.8 863.74,479.8 865.75,479.8 867.76,479.8 869.77,479.8 871.79,479.8 873.8,479.8 875.81,479.8 877.83,479.8 879.84,479.8 881.85,479.8 883.86,479.8 885.88,479.8 887.89,479.8 889.9,479.8 891.91,479.8 893.92,479.8 895.94,479.8 897.95,479.8 899.96,479.8 901.98,479.8 903.99,479.8 906,479.8 908.01,479.8 910.02,479.8 912.04,479.8 914.05,479.8 916.06,479.8 918.08,479.8 920.09,479.8 922.1,479.8 924.11,479.8 926.12,479.8 928.14,479.8 930.15,479.8 932.16,479.8 934.17,479.8 936.19,479.8 938.2,479.8 940.21,479.8 942.23,479.8 944.24,479.8 946.25,479.8 948.26,479.8 950.27,479.8 952.29,479.8 954.3,479.8 956.31,479.8 958.33,479.8 960.34,479.8 962.35,479.8 964.36,479.8 966.38,479.8 968.39,479.8 970.4,479.8 972.41,479.8 974.42,479.8 976.44,479.8 978.45,479.8 980.46,479.8 982.48,479.8 984.49,479.8 986.5,479.8" fill="none" stroke="#dc141c" stroke-width="3.9" stroke-dasharray="40 4.3" stroke-linejoin="round"/>
<circle cx="584" cy="99.6" r="6" fill="#000"/>
<rect x="567.2" y="71" width="433.7" height="429.7" fill="none" stroke="#000" stroke-width="2.4"/>
<line x1="567.2" y1="479.8" x2="578.7" y2="479.8" stroke="#000" stroke-width="2.4"/>
<line x1="567.2" y1="384.75" x2="578.7" y2="384.75" stroke="#000" stroke-width="2.4"/>
<line x1="567.2" y1="289.7" x2="578.7" y2="289.7" stroke="#000" stroke-width="2.4"/>
<line x1="567.2" y1="194.65" x2="578.7" y2="194.65" stroke="#000" stroke-width="2.4"/>
<line x1="567.2" y1="99.6" x2="578.7" y2="99.6" stroke="#000" stroke-width="2.4"/>
<line x1="584" y1="500.7" x2="584" y2="489.7" stroke="#000" stroke-width="2.4"/>
<line x1="684.62" y1="500.7" x2="684.62" y2="489.7" stroke="#000" stroke-width="2.4"/>
<line x1="785.25" y1="500.7" x2="785.25" y2="489.7" stroke="#000" stroke-width="2.4"/>
<line x1="885.88" y1="500.7" x2="885.88" y2="489.7" stroke="#000" stroke-width="2.4"/>
<line x1="986.5" y1="500.7" x2="986.5" y2="489.7" stroke="#000" stroke-width="2.4"/>
<line x1="820.3" y1="108" x2="883.8" y2="108" stroke="#000" stroke-width="4.4"/>
<text transform="translate(893.37,117.6) scale(1,1.04)" font-size="28.8" style="font-weight:bold" fill="#000">PSM</text>
<line x1="820.3" y1="139.2" x2="883.8" y2="139.2" stroke="#14994a" stroke-width="4.4" stroke-dasharray="7.8 4.3"/>
<text transform="translate(894.41,146.4) scale(1,1.04)" font-size="28.8" style="font-weight:bold" fill="#000">51-624</text>
<line x1="820.3" y1="170.8" x2="883.8" y2="170.8" stroke="#e08c1e" stroke-width="4.4" stroke-dasharray="39.8 4.3 4.6 4.0"/>
<text transform="translate(894.41,177.5) scale(1,1.04)" font-size="28.8" style="font-weight:bold" fill="#000">55-624</text>
<line x1="820.3" y1="202" x2="883.8" y2="202" stroke="#1c2279" stroke-width="4.4" stroke-dasharray="20 4.3"/>
<text transform="translate(894.41,208.7) scale(1,1.04)" font-size="28.8" style="font-weight:bold" fill="#000">56-624</text>
<line x1="820.3" y1="232.7" x2="883.8" y2="232.7" stroke="#22a4d8" stroke-width="4.4" stroke-dasharray="20 4.3 3.7 4.3 4.0 4.3"/>
<text transform="translate(894.41,240.4) scale(1,1.04)" font-size="28.8" style="font-weight:bold" fill="#000">57-624</text>
<line x1="820.3" y1="263.9" x2="883.8" y2="263.9" stroke="#dc141c" stroke-width="4.4" stroke-dasharray="40 4.3"/>
<text transform="translate(894.41,271.1) scale(1,1.04)" font-size="28.8" style="font-weight:bold" fill="#000">59-624</text>
<polyline points="130.2,548.1 132.21,551.1 134.23,554.08 136.24,557.04 138.25,559.97 140.26,562.88 142.28,565.76 144.29,568.63 146.3,571.47 148.32,574.28 150.33,577.08 152.34,579.85 154.36,582.61 156.37,585.34 158.38,588.05 160.39,590.73 162.41,593.4 164.42,596.04 166.43,598.67 168.45,601.27 170.46,603.85 172.47,606.42 174.49,608.96 176.5,611.48 178.51,613.98 180.52,616.47 182.54,618.93 184.55,621.37 186.56,623.8 188.58,626.2 190.59,628.59 192.6,630.96 194.62,633.31 196.63,635.64 198.64,637.95 200.65,640.24 202.67,642.52 204.68,644.78 206.69,647.02 208.71,649.24 210.72,651.44 212.73,653.63 214.75,655.8 216.76,657.95 218.77,660.09 220.78,662.21 222.8,664.31 224.81,666.39 226.82,668.46 228.84,670.52 230.85,672.55 232.86,674.57 234.88,676.58 236.89,678.57 238.9,680.54 240.91,682.5 242.93,684.44 244.94,686.37 246.95,688.28 248.97,690.18 250.98,692.06 252.99,693.92 255.01,695.78 257.02,697.61 259.03,699.44 261.04,701.25 263.06,703.04 265.07,704.82 267.08,706.59 269.1,708.34 271.11,710.08 273.12,711.8 275.14,713.51 277.15,715.21 279.16,716.89 281.17,718.57 283.19,720.22 285.2,721.87 287.21,723.5 289.23,725.12 291.24,726.72 293.25,728.32 295.27,729.9 297.28,731.47 299.29,733.02 301.3,734.57 303.32,736.1 305.33,737.62 307.34,739.12 309.36,740.62 311.37,742.1 313.38,743.58 315.4,745.04 317.41,746.48 319.42,747.92 321.44,749.35 323.45,750.76 325.46,752.17 327.47,753.56 329.49,754.94 331.5,756.31 333.51,757.67 335.53,759.02 337.54,760.36 339.55,761.69 341.56,763 343.58,764.31 345.59,765.61 347.6,766.9 349.62,768.17 351.63,769.44 353.64,770.69 355.66,771.94 357.67,773.18 359.68,774.4 361.69,775.62 363.71,776.83 365.72,778.03 367.73,779.22 369.75,780.4 371.76,781.57 373.77,782.73 375.79,783.88 377.8,785.02 379.81,786.15 381.82,787.28 383.84,788.39 385.85,789.5 387.86,790.6 389.88,791.69 391.89,792.77 393.9,793.84 395.92,794.9 397.93,795.96 399.94,797.01 401.95,798.05 403.97,799.08 405.98,800.1 407.99,801.11 410.01,802.12 412.02,803.12 414.03,804.11 416.05,805.09 418.06,806.07 420.07,807.04 422.08,808 424.1,808.95 426.11,809.89 428.12,810.83 430.14,811.76 432.15,812.68 434.16,813.6 436.18,814.5 438.19,815.41 440.2,816.3 442.21,817.19 444.23,818.07 446.24,818.94 448.25,819.8 450.27,820.66 452.28,821.52 454.29,822.36 456.31,823.2 458.32,824.03 460.33,824.86 462.34,825.68 464.36,826.49 466.37,827.3 468.38,828.1 470.4,828.89 472.41,829.68 474.42,830.46 476.44,831.23 478.45,832 480.46,832.77 482.47,833.52 484.49,834.27 486.5,835.02 488.51,835.76 490.53,836.49 492.54,837.22 494.55,837.94 496.57,838.66 498.58,839.37 500.59,840.07 502.6,840.77 504.62,841.46 506.63,842.15 508.64,842.83 510.66,843.51 512.67,844.18 514.68,844.85 516.7,845.51 518.71,846.17 520.72,846.82 522.74,847.46 524.75,848.11 526.76,848.74 528.77,849.37 530.79,850 532.8,850.62" fill="none" stroke="#000" stroke-width="3.2" stroke-linejoin="round"/>
<polyline points="130.2,548.1 130.7,561.22 131.21,573.9 131.71,586.13 132.21,597.95 132.72,609.36 133.22,620.37 133.72,631.01 134.23,641.28 134.73,651.2 135.23,660.78 135.74,670.02 136.24,678.95 136.74,687.58 137.25,695.9 137.75,703.94 138.25,711.71 138.76,719.2 139.26,726.44 139.76,733.43 140.26,740.18 140.77,746.7 141.27,752.99 141.77,759.06 142.28,764.93 142.78,770.6 143.28,776.07 143.79,781.35 144.29,786.45 144.79,791.38 145.3,796.13 145.8,800.72 146.3,805.16 146.81,809.44 147.31,813.58 147.81,817.57 148.32,821.42 148.82,825.15 149.32,828.74 149.83,832.21 150.33,835.56 150.83,838.8 151.34,841.92 151.84,844.94 152.34,847.85 152.85,850.67 153.35,853.38 153.85,856.01 154.36,858.54 154.86,860.99 155.36,863.35 155.87,865.63 156.37,867.83 156.87,869.96 157.38,872.01 157.88,873.99 158.38,875.91 158.89,877.76 159.39,879.54 159.89,881.26 160.39,882.93 160.9,884.54 161.4,886.09 161.9,887.59 162.41,889.03 162.91,890.43 163.41,891.78 163.92,893.08 164.42,894.34 164.92,895.55 165.43,896.73 165.93,897.86 166.43,898.95 166.94,900.01 167.44,901.03 167.94,902.01 168.45,902.96 168.95,903.88 169.45,904.77 169.96,905.62 170.46,906.45 170.96,907.25 171.47,908.02 171.97,908.76 172.47,909.48 172.98,910.17 173.48,910.84 173.98,911.49 174.49,912.12 174.99,912.72 175.49,913.3 176,913.86 176.5,914.41 177,914.93 177.51,915.44 178.01,915.93 178.51,916.4 179.02,916.85 179.52,917.29 180.02,917.72 180.52,918.13 181.03,918.53 181.53,918.91 182.03,919.28 182.54,919.63 183.04,919.98 183.54,920.31 184.05,920.63 184.55,920.94 185.05,921.24 185.56,921.53 186.06,921.81 186.56,922.08 187.07,922.34 187.57,922.59 188.07,922.84 188.58,923.07 189.08,923.3 189.58,923.52 190.09,923.73 190.59,923.93 191.09,924.13 191.6,924.32 192.1,924.5 192.6,924.68 193.11,924.85 193.61,925.01 194.11,925.17 194.62,925.33 195.12,925.48 195.62,925.62 196.13,925.76 196.63,925.89 197.13,926.02 197.64,926.15 198.14,926.27 198.64,926.38 199.15,926.5 199.65,926.6 200.15,926.71 200.65,926.81 201.16,926.91 201.66,927 202.16,927.09 202.67,927.18 203.17,927.27 203.67,927.35 204.18,927.43 204.68,927.5 205.18,927.58 205.69,927.65 206.19,927.72 206.69,927.78 207.2,927.85 207.7,927.91 208.2,927.97 208.71,928.03 209.21,928.08 209.71,928.14 210.22,928.19 210.72,928.24 211.22,928.29 211.73,928.34 212.23,928.38 212.73,928.42 213.24,928.47 213.74,928.51 214.24,928.55 214.75,928.59 215.25,928.62 215.75,928.66 216.26,928.69 216.76,928.72 217.26,928.76 217.77,928.79 218.27,928.82 218.77,928.85 219.28,928.87 219.78,928.9 220.28,928.93 220.78,928.95 221.29,928.97 221.79,929 222.29,929.02 222.8,929.04 223.3,929.06 223.8,929.08 224.31,929.1 224.81,929.12 225.31,929.14 225.82,929.16 226.32,929.17 226.82,929.19 227.33,929.21 227.83,929.22 228.33,929.24 228.84,929.25 229.34,929.27 229.84,929.28 230.35,929.29 230.85,929.3 231.35,929.32 231.86,929.33 232.36,929.34 232.86,929.35 233.37,929.36 233.87,929.37 234.37,929.38 234.88,929.39 235.38,929.4 235.88,929.41 236.39,929.41 236.89,929.42 237.39,929.43 237.9,929.44 238.4,929.45 238.9,929.45 239.41,929.46 239.91,929.47 240.41,929.47 240.91,929.48 241.42,929.48 241.92,929.49 242.42,929.5 242.93,929.5 243.43,929.51 243.93,929.51 244.44,929.52 244.94,929.52 245.44,929.53 245.95,929.53 246.45,929.53 246.95,929.54 247.46,929.54 247.96,929.55 248.46,929.55 248.97,929.55 249.47,929.56 249.97,929.56 250.48,929.56 250.98,929.57 252.99,929.58 255.01,929.59 257.02,929.6 259.03,929.6 261.04,929.61 263.06,929.61 265.07,929.62 267.08,929.62 269.1,929.63 271.11,929.63 273.12,929.63 275.14,929.64 277.15,929.64 279.16,929.64 281.17,929.64 283.19,929.64 285.2,929.64 287.21,929.64 289.23,929.65 291.24,929.65 293.25,929.65 295.27,929.65 297.28,929.65 299.29,929.65 301.3,929.65 303.32,929.65 305.33,929.65 307.34,929.65 309.36,929.65 311.37,929.65 313.38,929.65 315.4,929.65 317.41,929.65 319.42,929.65 321.44,929.65 323.45,929.65 325.46,929.65 327.47,929.65 329.49,929.65 331.5,929.65 333.51,929.65 335.53,929.65 337.54,929.65 339.55,929.65 341.56,929.65 343.58,929.65 345.59,929.65 347.6,929.65 349.62,929.65 351.63,929.65 353.64,929.65 355.66,929.65 357.67,929.65 359.68,929.65 361.69,929.65 363.71,929.65 365.72,929.65 367.73,929.65 369.75,929.65 371.76,929.65 373.77,929.65 375.79,929.65 377.8,929.65 379.81,929.65 381.82,929.65 383.84,929.65 385.85,929.65 387.86,929.65 389.88,929.65 391.89,929.65 393.9,929.65 395.92,929.65 397.93,929.65 399.94,929.65 401.95,929.65 403.97,929.65 405.98,929.65 407.99,929.65 410.01,929.65 412.02,929.65 414.03,929.65 416.05,929.65 418.06,929.65 420.07,929.65 422.08,929.65 424.1,929.65 426.11,929.65 428.12,929.65 430.14,929.65 432.15,929.65 434.16,929.65 436.18,929.65 438.19,929.65 440.2,929.65 442.21,929.65 444.23,929.65 446.24,929.65 448.25,929.65 450.27,929.65 452.28,929.65 454.29,929.65 456.31,929.65 458.32,929.65 460.33,929.65 462.34,929.65 464.36,929.65 466.37,929.65 468.38,929.65 470.4,929.65 472.41,929.65 474.42,929.65 476.44,929.65 478.45,929.65 480.46,929.65 482.47,929.65 484.49,929.65 486.5,929.65 488.51,929.65 490.53,929.65 492.54,929.65 494.55,929.65 496.57,929.65 498.58,929.65 500.59,929.65 502.6,929.65 504.62,929.65 506.63,929.65 508.64,929.65 510.66,929.65 512.67,929.65 514.68,929.65 516.7,929.65 518.71,929.65 520.72,929.65 522.74,929.65 524.75,929.65 526.76,929.65 528.77,929.65 530.79,929.65 532.8,929.65" fill="none" stroke="#dc141c" stroke-width="3.9" stroke-dasharray="40 4.3" stroke-linejoin="round"/>
<polyline points="130.2,548.1 130.7,563.06 131.21,577.44 131.71,591.25 132.21,604.51 132.72,617.26 133.22,629.51 133.72,641.28 134.23,652.59 134.73,663.45 135.23,673.89 135.74,683.92 136.24,693.55 136.74,702.81 137.25,711.71 137.75,720.25 138.25,728.46 138.76,736.35 139.26,743.93 139.76,751.21 140.26,758.21 140.77,764.93 141.27,771.39 141.77,777.6 142.28,783.56 142.78,789.29 143.28,794.79 143.79,800.08 144.29,805.16 144.79,810.04 145.3,814.73 145.8,819.24 146.3,823.57 146.81,827.73 147.31,831.72 147.81,835.56 148.32,839.25 148.82,842.8 149.32,846.2 149.83,849.47 150.33,852.62 150.83,855.64 151.34,858.54 151.84,861.33 152.34,864.01 152.85,866.58 153.35,869.05 153.85,871.43 154.36,873.71 154.86,875.91 155.36,878.01 155.87,880.04 156.37,881.98 156.87,883.85 157.38,885.65 157.88,887.37 158.38,889.03 158.89,890.62 159.39,892.16 159.89,893.63 160.39,895.04 160.9,896.4 161.4,897.7 161.9,898.95 162.41,900.16 162.91,901.31 163.41,902.42 163.92,903.49 164.42,904.52 164.92,905.5 165.43,906.45 165.93,907.36 166.43,908.23 166.94,909.07 167.44,909.88 167.94,910.66 168.45,911.4 168.95,912.12 169.45,912.8 169.96,913.46 170.46,914.1 170.96,914.71 171.47,915.29 171.97,915.86 172.47,916.4 172.98,916.92 173.48,917.42 173.98,917.9 174.49,918.36 174.99,918.8 175.49,919.23 176,919.63 176.5,920.03 177,920.4 177.51,920.77 178.01,921.12 178.51,921.45 179.02,921.77 179.52,922.08 180.02,922.38 180.52,922.66 181.03,922.94 181.53,923.2 182.03,923.45 182.54,923.7 183.04,923.93 183.54,924.15 184.05,924.37 184.55,924.58 185.05,924.78 185.56,924.97 186.06,925.15 186.56,925.33 187.07,925.5 187.57,925.66 188.07,925.82 188.58,925.97 189.08,926.11 189.58,926.25 190.09,926.38 190.59,926.51 191.09,926.63 191.6,926.75 192.1,926.87 192.6,926.98 193.11,927.08 193.61,927.18 194.11,927.28 194.62,927.37 195.12,927.46 195.62,927.55 196.13,927.63 196.63,927.71 197.13,927.78 197.64,927.86 198.14,927.93 198.64,928 199.15,928.06 199.65,928.12 200.15,928.18 200.65,928.24 201.16,928.3 201.66,928.35 202.16,928.4 202.67,928.45 203.17,928.5 203.67,928.54 204.18,928.59 204.68,928.63 205.18,928.67 205.69,928.71 206.19,928.74 206.69,928.78 207.2,928.81 207.7,928.85 208.2,928.88 208.71,928.91 209.21,928.94 209.71,928.96 210.22,928.99 210.72,929.02 211.22,929.04 211.73,929.07 212.23,929.09 212.73,929.11 213.24,929.13 213.74,929.15 214.24,929.17 214.75,929.19 215.25,929.21 215.75,929.23 216.26,929.24 216.76,929.26 217.26,929.27 217.77,929.29 218.27,929.3 218.77,929.32 219.28,929.33 219.78,929.34 220.28,929.36 220.78,929.37 221.29,929.38 221.79,929.39 222.29,929.4 222.8,929.41 223.3,929.42 223.8,929.43 224.31,929.44 224.81,929.44 225.31,929.45 225.82,929.46 226.32,929.47 226.82,929.48 227.33,929.48 227.83,929.49 228.33,929.5 228.84,929.5 229.34,929.51 229.84,929.51 230.35,929.52 230.85,929.52 231.35,929.53 231.86,929.53 232.36,929.54 232.86,929.54 233.37,929.55 233.87,929.55 234.37,929.55 234.88,929.56 235.38,929.56 235.88,929.57 236.39,929.57 236.89,929.57 237.39,929.58 237.9,929.58 238.4,929.58 238.9,929.58 239.41,929.59 239.91,929.59 240.41,929.59 240.91,929.59 241.42,929.6 241.92,929.6 242.42,929.6 242.93,929.6 243.43,929.6 243.93,929.61 244.44,929.61 244.94,929.61 245.44,929.61 245.95,929.61 246.45,929.61 246.95,929.62 247.46,929.62 247.96,929.62 248.46,929.62 248.97,929.62 249.47,929.62 249.97,929.62 250.48,929.62 250.98,929.63 252.99,929.63 255.01,929.63 257.02,929.64 259.03,929.64 261.04,929.64 263.06,929.64 265.07,929.64 267.08,929.64 269.1,929.65 271.11,929.65 273.12,929.65 275.14,929.65 277.15,929.65 279.16,929.65 281.17,929.65 283.19,929.65 285.2,929.65 287.21,929.65 289.23,929.65 291.24,929.65 293.25,929.65 295.27,929.65 297.28,929.65 299.29,929.65 301.3,929.65 303.32,929.65 305.33,929.65 307.34,929.65 309.36,929.65 311.37,929.65 313.38,929.65 315.4,929.65 317.41,929.65 319.42,929.65 321.44,929.65 323.45,929.65 325.46,929.65 327.47,929.65 329.49,929.65 331.5,929.65 333.51,929.65 335.53,929.65 337.54,929.65 339.55,929.65 341.56,929.65 343.58,929.65 345.59,929.65 347.6,929.65 349.62,929.65 351.63,929.65 353.64,929.65 355.66,929.65 357.67,929.65 359.68,929.65 361.69,929.65 363.71,929.65 365.72,929.65 367.73,929.65 369.75,929.65 371.76,929.65 373.77,929.65 375.79,929.65 377.8,929.65 379.81,929.65 381.82,929.65 383.84,929.65 385.85,929.65 387.86,929.65 389.88,929.65 391.89,929.65 393.9,929.65 395.92,929.65 397.93,929.65 399.94,929.65 401.95,929.65 403.97,929.65 405.98,929.65 407.99,929.65 410.01,929.65 412.02,929.65 414.03,929.65 416.05,929.65 418.06,929.65 420.07,929.65 422.08,929.65 424.1,929.65 426.11,929.65 428.12,929.65 430.14,929.65 432.15,929.65 434.16,929.65 436.18,929.65 438.19,929.65 440.2,929.65 442.21,929.65 444.23,929.65 446.24,929.65 448.25,929.65 450.27,929.65 452.28,929.65 454.29,929.65 456.31,929.65 458.32,929.65 460.33,929.65 462.34,929.65 464.36,929.65 466.37,929.65 468.38,929.65 470.4,929.65 472.41,929.65 474.42,929.65 476.44,929.65 478.45,929.65 480.46,929.65 482.47,929.65 484.49,929.65 486.5,929.65 488.51,929.65 490.53,929.65 492.54,929.65 494.55,929.65 496.57,929.65 498.58,929.65 500.59,929.65 502.6,929.65 504.62,929.65 506.63,929.65 508.64,929.65 510.66,929.65 512.67,929.65 514.68,929.65 516.7,929.65 518.71,929.65 520.72,929.65 522.74,929.65 524.75,929.65 526.76,929.65 528.77,929.65 530.79,929.65 532.8,929.65" fill="none" stroke="#22a4d8" stroke-width="3.9" stroke-dasharray="20 4.3 3.7 4.3 4.0 4.3" stroke-linejoin="round"/>
<polyline points="130.2,548.1 130.7,561.68 131.21,574.78 131.71,587.42 132.21,599.6 132.72,611.35 133.22,622.68 133.72,633.61 134.23,644.15 134.73,654.31 135.23,664.12 135.74,673.57 136.24,682.69 136.74,691.48 137.25,699.96 137.75,708.14 138.25,716.02 138.76,723.63 139.26,730.96 139.76,738.04 140.26,744.86 140.77,751.44 141.27,757.78 141.77,763.9 142.28,769.8 142.78,775.49 143.28,780.98 143.79,786.27 144.29,791.38 144.79,796.3 145.3,801.05 145.8,805.62 146.3,810.04 146.81,814.3 147.31,818.41 147.81,822.37 148.32,826.19 148.82,829.87 149.32,833.42 149.83,836.85 150.33,840.15 150.83,843.34 151.34,846.41 151.84,849.37 152.34,852.23 152.85,854.99 153.35,857.65 153.85,860.21 154.36,862.68 154.86,865.07 155.36,867.36 155.87,869.58 156.37,871.72 156.87,873.78 157.38,875.77 157.88,877.69 158.38,879.54 158.89,881.32 159.39,883.04 159.89,884.7 160.39,886.3 160.9,887.85 161.4,889.34 161.9,890.77 162.41,892.16 162.91,893.49 163.41,894.78 163.92,896.02 164.42,897.22 164.92,898.37 165.43,899.48 165.93,900.56 166.43,901.59 166.94,902.59 167.44,903.56 167.94,904.49 168.45,905.38 168.95,906.25 169.45,907.08 169.96,907.88 170.46,908.66 170.96,909.4 171.47,910.13 171.97,910.82 172.47,911.49 172.98,912.14 173.48,912.76 173.98,913.36 174.49,913.94 174.99,914.5 175.49,915.04 176,915.56 176.5,916.06 177,916.55 177.51,917.01 178.01,917.46 178.51,917.9 179.02,918.32 179.52,918.72 180.02,919.11 180.52,919.48 181.03,919.85 181.53,920.19 182.03,920.53 182.54,920.86 183.04,921.17 183.54,921.47 184.05,921.76 184.55,922.04 185.05,922.31 185.56,922.58 186.06,922.83 186.56,923.07 187.07,923.3 187.57,923.53 188.07,923.75 188.58,923.96 189.08,924.16 189.58,924.36 190.09,924.55 190.59,924.73 191.09,924.9 191.6,925.07 192.1,925.23 192.6,925.39 193.11,925.54 193.61,925.69 194.11,925.83 194.62,925.97 195.12,926.1 195.62,926.22 196.13,926.35 196.63,926.46 197.13,926.58 197.64,926.69 198.14,926.79 198.64,926.89 199.15,926.99 199.65,927.09 200.15,927.18 200.65,927.27 201.16,927.35 201.66,927.43 202.16,927.51 202.67,927.59 203.17,927.66 203.67,927.73 204.18,927.8 204.68,927.87 205.18,927.93 205.69,927.99 206.19,928.05 206.69,928.11 207.2,928.16 207.7,928.22 208.2,928.27 208.71,928.32 209.21,928.36 209.71,928.41 210.22,928.45 210.72,928.5 211.22,928.54 211.73,928.58 212.23,928.62 212.73,928.65 213.24,928.69 213.74,928.72 214.24,928.76 214.75,928.79 215.25,928.82 215.75,928.85 216.26,928.88 216.76,928.9 217.26,928.93 217.77,928.96 218.27,928.98 218.77,929 219.28,929.03 219.78,929.05 220.28,929.07 220.78,929.09 221.29,929.11 221.79,929.13 222.29,929.15 222.8,929.17 223.3,929.18 223.8,929.2 224.31,929.22 224.81,929.23 225.31,929.25 225.82,929.26 226.32,929.28 226.82,929.29 227.33,929.3 227.83,929.31 228.33,929.33 228.84,929.34 229.34,929.35 229.84,929.36 230.35,929.37 230.85,929.38 231.35,929.39 231.86,929.4 232.36,929.41 232.86,929.42 233.37,929.43 233.87,929.43 234.37,929.44 234.88,929.45 235.38,929.46 235.88,929.46 236.39,929.47 236.89,929.48 237.39,929.48 237.9,929.49 238.4,929.49 238.9,929.5 239.41,929.51 239.91,929.51 240.41,929.52 240.91,929.52 241.42,929.52 241.92,929.53 242.42,929.53 242.93,929.54 243.43,929.54 243.93,929.55 244.44,929.55 244.94,929.55 245.44,929.56 245.95,929.56 246.45,929.56 246.95,929.57 247.46,929.57 247.96,929.57 248.46,929.58 248.97,929.58 249.47,929.58 249.97,929.58 250.48,929.59 250.98,929.59 252.99,929.6 255.01,929.6 257.02,929.61 259.03,929.62 261.04,929.62 263.06,929.62 265.07,929.63 267.08,929.63 269.1,929.63 271.11,929.64 273.12,929.64 275.14,929.64 277.15,929.64 279.16,929.64 281.17,929.64 283.19,929.65 285.2,929.65 287.21,929.65 289.23,929.65 291.24,929.65 293.25,929.65 295.27,929.65 297.28,929.65 299.29,929.65 301.3,929.65 303.32,929.65 305.33,929.65 307.34,929.65 309.36,929.65 311.37,929.65 313.38,929.65 315.4,929.65 317.41,929.65 319.42,929.65 321.44,929.65 323.45,929.65 325.46,929.65 327.47,929.65 329.49,929.65 331.5,929.65 333.51,929.65 335.53,929.65 337.54,929.65 339.55,929.65 341.56,929.65 343.58,929.65 345.59,929.65 347.6,929.65 349.62,929.65 351.63,929.65 353.64,929.65 355.66,929.65 357.67,929.65 359.68,929.65 361.69,929.65 363.71,929.65 365.72,929.65 367.73,929.65 369.75,929.65 371.76,929.65 373.77,929.65 375.79,929.65 377.8,929.65 379.81,929.65 381.82,929.65 383.84,929.65 385.85,929.65 387.86,929.65 389.88,929.65 391.89,929.65 393.9,929.65 395.92,929.65 397.93,929.65 399.94,929.65 401.95,929.65 403.97,929.65 405.98,929.65 407.99,929.65 410.01,929.65 412.02,929.65 414.03,929.65 416.05,929.65 418.06,929.65 420.07,929.65 422.08,929.65 424.1,929.65 426.11,929.65 428.12,929.65 430.14,929.65 432.15,929.65 434.16,929.65 436.18,929.65 438.19,929.65 440.2,929.65 442.21,929.65 444.23,929.65 446.24,929.65 448.25,929.65 450.27,929.65 452.28,929.65 454.29,929.65 456.31,929.65 458.32,929.65 460.33,929.65 462.34,929.65 464.36,929.65 466.37,929.65 468.38,929.65 470.4,929.65 472.41,929.65 474.42,929.65 476.44,929.65 478.45,929.65 480.46,929.65 482.47,929.65 484.49,929.65 486.5,929.65 488.51,929.65 490.53,929.65 492.54,929.65 494.55,929.65 496.57,929.65 498.58,929.65 500.59,929.65 502.6,929.65 504.62,929.65 506.63,929.65 508.64,929.65 510.66,929.65 512.67,929.65 514.68,929.65 516.7,929.65 518.71,929.65 520.72,929.65 522.74,929.65 524.75,929.65 526.76,929.65 528.77,929.65 530.79,929.65 532.8,929.65" fill="none" stroke="#e08c1e" stroke-width="3.9" stroke-dasharray="39.8 4.3 4.6 4.0" stroke-linejoin="round"/>
<polyline points="130.2,548.1 130.7,564.16 131.21,579.54 131.71,594.28 132.21,608.39 132.72,621.91 133.22,634.87 133.72,647.27 134.23,659.16 134.73,670.54 135.23,681.45 135.74,691.9 136.24,701.9 136.74,711.49 137.25,720.67 137.75,729.47 138.25,737.89 138.76,745.96 139.26,753.69 139.76,761.1 140.26,768.19 140.77,774.99 141.27,781.5 141.77,787.73 142.28,793.71 142.78,799.43 143.28,804.91 143.79,810.16 144.29,815.19 144.79,820.01 145.3,824.62 145.8,829.04 146.3,833.28 146.81,837.33 147.31,841.22 147.81,844.94 148.32,848.51 148.82,851.92 149.32,855.19 149.83,858.33 150.33,861.33 150.83,864.2 151.34,866.96 151.84,869.6 152.34,872.12 152.85,874.55 153.35,876.87 153.85,879.09 154.36,881.22 154.86,883.25 155.36,885.21 155.87,887.08 156.37,888.87 156.87,890.59 157.38,892.23 157.88,893.81 158.38,895.31 158.89,896.76 159.39,898.14 159.89,899.47 160.39,900.74 160.9,901.96 161.4,903.12 161.9,904.24 162.41,905.31 162.91,906.33 163.41,907.31 163.92,908.25 164.42,909.16 164.92,910.02 165.43,910.84 165.93,911.64 166.43,912.39 166.94,913.12 167.44,913.82 167.94,914.48 168.45,915.12 168.95,915.73 169.45,916.32 169.96,916.88 170.46,917.42 170.96,917.93 171.47,918.43 171.97,918.9 172.47,919.35 172.98,919.78 173.48,920.2 173.98,920.6 174.49,920.98 174.99,921.34 175.49,921.69 176,922.03 176.5,922.35 177,922.66 177.51,922.95 178.01,923.23 178.51,923.5 179.02,923.76 179.52,924.01 180.02,924.25 180.52,924.47 181.03,924.69 181.53,924.9 182.03,925.1 182.54,925.29 183.04,925.48 183.54,925.65 184.05,925.82 184.55,925.98 185.05,926.14 185.56,926.28 186.06,926.43 186.56,926.56 187.07,926.69 187.57,926.82 188.07,926.94 188.58,927.05 189.08,927.16 189.58,927.26 190.09,927.36 190.59,927.46 191.09,927.55 191.6,927.64 192.1,927.73 192.6,927.81 193.11,927.88 193.61,927.96 194.11,928.03 194.62,928.1 195.12,928.16 195.62,928.23 196.13,928.29 196.63,928.34 197.13,928.4 197.64,928.45 198.14,928.5 198.64,928.55 199.15,928.6 199.65,928.64 200.15,928.68 200.65,928.72 201.16,928.76 201.66,928.8 202.16,928.84 202.67,928.87 203.17,928.9 203.67,928.94 204.18,928.97 204.68,928.99 205.18,929.02 205.69,929.05 206.19,929.07 206.69,929.1 207.2,929.12 207.7,929.14 208.2,929.17 208.71,929.19 209.21,929.21 209.71,929.22 210.22,929.24 210.72,929.26 211.22,929.28 211.73,929.29 212.23,929.31 212.73,929.32 213.24,929.34 213.74,929.35 214.24,929.36 214.75,929.37 215.25,929.39 215.75,929.4 216.26,929.41 216.76,929.42 217.26,929.43 217.77,929.44 218.27,929.45 218.77,929.45 219.28,929.46 219.78,929.47 220.28,929.48 220.78,929.49 221.29,929.49 221.79,929.5 222.29,929.51 222.8,929.51 223.3,929.52 223.8,929.52 224.31,929.53 224.81,929.53 225.31,929.54 225.82,929.54 226.32,929.55 226.82,929.55 227.33,929.56 227.83,929.56 228.33,929.56 228.84,929.57 229.34,929.57 229.84,929.57 230.35,929.58 230.85,929.58 231.35,929.58 231.86,929.59 232.36,929.59 232.86,929.59 233.37,929.59 233.87,929.6 234.37,929.6 234.88,929.6 235.38,929.6 235.88,929.61 236.39,929.61 236.89,929.61 237.39,929.61 237.9,929.61 238.4,929.61 238.9,929.62 239.41,929.62 239.91,929.62 240.41,929.62 240.91,929.62 241.42,929.62 241.92,929.62 242.42,929.63 242.93,929.63 243.43,929.63 243.93,929.63 244.44,929.63 244.94,929.63 245.44,929.63 245.95,929.63 246.45,929.63 246.95,929.63 247.46,929.63 247.96,929.64 248.46,929.64 248.97,929.64 249.47,929.64 249.97,929.64 250.48,929.64 250.98,929.64 252.99,929.64 255.01,929.64 257.02,929.64 259.03,929.65 261.04,929.65 263.06,929.65 265.07,929.65 267.08,929.65 269.1,929.65 271.11,929.65 273.12,929.65 275.14,929.65 277.15,929.65 279.16,929.65 281.17,929.65 283.19,929.65 285.2,929.65 287.21,929.65 289.23,929.65 291.24,929.65 293.25,929.65 295.27,929.65 297.28,929.65 299.29,929.65 301.3,929.65 303.32,929.65 305.33,929.65 307.34,929.65 309.36,929.65 311.37,929.65 313.38,929.65 315.4,929.65 317.41,929.65 319.42,929.65 321.44,929.65 323.45,929.65 325.46,929.65 327.47,929.65 329.49,929.65 331.5,929.65 333.51,929.65 335.53,929.65 337.54,929.65 339.55,929.65 341.56,929.65 343.58,929.65 345.59,929.65 347.6,929.65 349.62,929.65 351.63,929.65 353.64,929.65 355.66,929.65 357.67,929.65 359.68,929.65 361.69,929.65 363.71,929.65 365.72,929.65 367.73,929.65 369.75,929.65 371.76,929.65 373.77,929.65 375.79,929.65 377.8,929.65 379.81,929.65 381.82,929.65 383.84,929.65 385.85,929.65 387.86,929.65 389.88,929.65 391.89,929.65 393.9,929.65 395.92,929.65 397.93,929.65 399.94,929.65 401.95,929.65 403.97,929.65 405.98,929.65 407.99,929.65 410.01,929.65 412.02,929.65 414.03,929.65 416.05,929.65 418.06,929.65 420.07,929.65 422.08,929.65 424.1,929.65 426.11,929.65 428.12,929.65 430.14,929.65 432.15,929.65 434.16,929.65 436.18,929.65 438.19,929.65 440.2,929.65 442.21,929.65 444.23,929.65 446.24,929.65 448.25,929.65 450.27,929.65 452.28,929.65 454.29,929.65 456.31,929.65 458.32,929.65 460.33,929.65 462.34,929.65 464.36,929.65 466.37,929.65 468.38,929.65 470.4,929.65 472.41,929.65 474.42,929.65 476.44,929.65 478.45,929.65 480.46,929.65 482.47,929.65 484.49,929.65 486.5,929.65 488.51,929.65 490.53,929.65 492.54,929.65 494.55,929.65 496.57,929.65 498.58,929.65 500.59,929.65 502.6,929.65 504.62,929.65 506.63,929.65 508.64,929.65 510.66,929.65 512.67,929.65 514.68,929.65 516.7,929.65 518.71,929.65 520.72,929.65 522.74,929.65 524.75,929.65 526.76,929.65 528.77,929.65 530.79,929.65 532.8,929.65" fill="none" stroke="#1c2279" stroke-width="3.9" stroke-dasharray="20 4.3" stroke-linejoin="round"/>
<polyline points="130.2,548.1 130.7,562.33 131.21,576.02 131.71,589.21 132.21,601.9 132.72,614.12 133.22,625.89 133.72,637.22 134.23,648.12 134.73,658.62 135.23,668.72 135.74,678.45 136.24,687.82 136.74,696.84 137.25,705.52 137.75,713.87 138.25,721.92 138.76,729.67 139.26,737.12 139.76,744.3 140.26,751.21 140.77,757.87 141.27,764.27 141.77,770.44 142.28,776.37 142.78,782.09 143.28,787.59 143.79,792.89 144.29,797.99 144.79,802.9 145.3,807.62 145.8,812.17 146.3,816.55 146.81,820.77 147.31,824.83 147.81,828.74 148.32,832.5 148.82,836.12 149.32,839.61 149.83,842.97 150.33,846.2 150.83,849.31 151.34,852.31 151.84,855.19 152.34,857.97 152.85,860.64 153.35,863.22 153.85,865.69 154.36,868.08 154.86,870.37 155.36,872.58 155.87,874.71 156.37,876.76 156.87,878.73 157.38,880.63 157.88,882.46 158.38,884.22 158.89,885.91 159.39,887.54 159.89,889.11 160.39,890.62 160.9,892.08 161.4,893.48 161.9,894.83 162.41,896.13 162.91,897.38 163.41,898.58 163.92,899.74 164.42,900.86 164.92,901.93 165.43,902.96 165.93,903.96 166.43,904.92 166.94,905.84 167.44,906.73 167.94,907.58 168.45,908.4 168.95,909.2 169.45,909.96 169.96,910.69 170.46,911.4 170.96,912.08 171.47,912.74 171.97,913.37 172.47,913.97 172.98,914.56 173.48,915.12 173.98,915.66 174.49,916.18 174.99,916.69 175.49,917.17 176,917.64 176.5,918.08 177,918.51 177.51,918.93 178.01,919.33 178.51,919.71 179.02,920.09 179.52,920.44 180.02,920.79 180.52,921.12 181.03,921.43 181.53,921.74 182.03,922.04 182.54,922.32 183.04,922.59 183.54,922.86 184.05,923.11 184.55,923.35 185.05,923.59 185.56,923.81 186.06,924.03 186.56,924.24 187.07,924.44 187.57,924.64 188.07,924.82 188.58,925 189.08,925.18 189.58,925.34 190.09,925.51 190.59,925.66 191.09,925.81 191.6,925.95 192.1,926.09 192.6,926.22 193.11,926.35 193.61,926.47 194.11,926.59 194.62,926.71 195.12,926.82 195.62,926.92 196.13,927.02 196.63,927.12 197.13,927.22 197.64,927.31 198.14,927.39 198.64,927.48 199.15,927.56 199.65,927.64 200.15,927.71 200.65,927.78 201.16,927.85 201.66,927.92 202.16,927.99 202.67,928.05 203.17,928.11 203.67,928.17 204.18,928.22 204.68,928.27 205.18,928.33 205.69,928.37 206.19,928.42 206.69,928.47 207.2,928.51 207.7,928.55 208.2,928.6 208.71,928.64 209.21,928.67 209.71,928.71 210.22,928.74 210.72,928.78 211.22,928.81 211.73,928.84 212.23,928.87 212.73,928.9 213.24,928.93 213.74,928.96 214.24,928.98 214.75,929.01 215.25,929.03 215.75,929.05 216.26,929.08 216.76,929.1 217.26,929.12 217.77,929.14 218.27,929.16 218.77,929.18 219.28,929.19 219.78,929.21 220.28,929.23 220.78,929.24 221.29,929.26 221.79,929.27 222.29,929.29 222.8,929.3 223.3,929.31 223.8,929.33 224.31,929.34 224.81,929.35 225.31,929.36 225.82,929.37 226.32,929.38 226.82,929.39 227.33,929.4 227.83,929.41 228.33,929.42 228.84,929.43 229.34,929.44 229.84,929.45 230.35,929.45 230.85,929.46 231.35,929.47 231.86,929.47 232.36,929.48 232.86,929.49 233.37,929.49 233.87,929.5 234.37,929.51 234.88,929.51 235.38,929.52 235.88,929.52 236.39,929.53 236.89,929.53 237.39,929.53 237.9,929.54 238.4,929.54 238.9,929.55 239.41,929.55 239.91,929.56 240.41,929.56 240.91,929.56 241.42,929.57 241.92,929.57 242.42,929.57 242.93,929.57 243.43,929.58 243.93,929.58 244.44,929.58 244.94,929.59 245.44,929.59 245.95,929.59 246.45,929.59 246.95,929.59 247.46,929.6 247.96,929.6 248.46,929.6 248.97,929.6 249.47,929.6 249.97,929.61 250.48,929.61 250.98,929.61 252.99,929.62 255.01,929.62 257.02,929.63 259.03,929.63 261.04,929.63 263.06,929.63 265.07,929.64 267.08,929.64 269.1,929.64 271.11,929.64 273.12,929.64 275.14,929.64 277.15,929.65 279.16,929.65 281.17,929.65 283.19,929.65 285.2,929.65 287.21,929.65 289.23,929.65 291.24,929.65 293.25,929.65 295.27,929.65 297.28,929.65 299.29,929.65 301.3,929.65 303.32,929.65 305.33,929.65 307.34,929.65 309.36,929.65 311.37,929.65 313.38,929.65 315.4,929.65 317.41,929.65 319.42,929.65 321.44,929.65 323.45,929.65 325.46,929.65 327.47,929.65 329.49,929.65 331.5,929.65 333.51,929.65 335.53,929.65 337.54,929.65 339.55,929.65 341.56,929.65 343.58,929.65 345.59,929.65 347.6,929.65 349.62,929.65 351.63,929.65 353.64,929.65 355.66,929.65 357.67,929.65 359.68,929.65 361.69,929.65 363.71,929.65 365.72,929.65 367.73,929.65 369.75,929.65 371.76,929.65 373.77,929.65 375.79,929.65 377.8,929.65 379.81,929.65 381.82,929.65 383.84,929.65 385.85,929.65 387.86,929.65 389.88,929.65 391.89,929.65 393.9,929.65 395.92,929.65 397.93,929.65 399.94,929.65 401.95,929.65 403.97,929.65 405.98,929.65 407.99,929.65 410.01,929.65 412.02,929.65 414.03,929.65 416.05,929.65 418.06,929.65 420.07,929.65 422.08,929.65 424.1,929.65 426.11,929.65 428.12,929.65 430.14,929.65 432.15,929.65 434.16,929.65 436.18,929.65 438.19,929.65 440.2,929.65 442.21,929.65 444.23,929.65 446.24,929.65 448.25,929.65 450.27,929.65 452.28,929.65 454.29,929.65 456.31,929.65 458.32,929.65 460.33,929.65 462.34,929.65 464.36,929.65 466.37,929.65 468.38,929.65 470.4,929.65 472.41,929.65 474.42,929.65 476.44,929.65 478.45,929.65 480.46,929.65 482.47,929.65 484.49,929.65 486.5,929.65 488.51,929.65 490.53,929.65 492.54,929.65 494.55,929.65 496.57,929.65 498.58,929.65 500.59,929.65 502.6,929.65 504.62,929.65 506.63,929.65 508.64,929.65 510.66,929.65 512.67,929.65 514.68,929.65 516.7,929.65 518.71,929.65 520.72,929.65 522.74,929.65 524.75,929.65 526.76,929.65 528.77,929.65 530.79,929.65 532.8,929.65" fill="none" stroke="#14994a" stroke-width="3.9" stroke-dasharray="7.8 4.3" stroke-linejoin="round"/>
<circle cx="130.2" cy="548.1" r="6" fill="#000"/>
<rect x="113" y="520" width="433.4" height="429.5" fill="none" stroke="#000" stroke-width="2.4"/>
<line x1="113" y1="928.7" x2="124.5" y2="928.7" stroke="#000" stroke-width="2.4"/>
<line x1="113" y1="833.55" x2="124.5" y2="833.55" stroke="#000" stroke-width="2.4"/>
<line x1="113" y1="738.4" x2="124.5" y2="738.4" stroke="#000" stroke-width="2.4"/>
<line x1="113" y1="643.25" x2="124.5" y2="643.25" stroke="#000" stroke-width="2.4"/>
<line x1="113" y1="548.1" x2="124.5" y2="548.1" stroke="#000" stroke-width="2.4"/>
<line x1="130.2" y1="949.5" x2="130.2" y2="938.5" stroke="#000" stroke-width="2.4"/>
<line x1="230.85" y1="949.5" x2="230.85" y2="938.5" stroke="#000" stroke-width="2.4"/>
<line x1="331.5" y1="949.5" x2="331.5" y2="938.5" stroke="#000" stroke-width="2.4"/>
<line x1="432.15" y1="949.5" x2="432.15" y2="938.5" stroke="#000" stroke-width="2.4"/>
<line x1="532.8" y1="949.5" x2="532.8" y2="938.5" stroke="#000" stroke-width="2.4"/>
<text transform="translate(90.44,939.9) scale(1,1.075)" font-size="27" style="" fill="#000">0</text>
<text transform="translate(75.5,844.75) scale(1,1.075)" font-size="27" style="" fill="#000">25</text>
<text transform="translate(75.42,749.6) scale(1,1.075)" font-size="27" style="" fill="#000">50</text>
<text transform="translate(75.5,654.45) scale(1,1.075)" font-size="27" style="" fill="#000">75</text>
<text transform="translate(60.41,559.3) scale(1,1.075)" font-size="27" style="" fill="#000">100</text>
<text transform="translate(122.69,975.4) scale(1,1.075)" font-size="27" style="" fill="#000">0</text>
<text transform="translate(215.83,975.4) scale(1,1.075)" font-size="27" style="" fill="#000">50</text>
<text transform="translate(308.98,975.4) scale(1,1.075)" font-size="27" style="" fill="#000">100</text>
<text transform="translate(409.63,975.4) scale(1,1.075)" font-size="27" style="" fill="#000">150</text>
<text transform="translate(510.28,975.4) scale(1,1.075)" font-size="27" style="" fill="#000">200</text>
<line x1="350.2" y1="557.4" x2="415.7" y2="557.4" stroke="#000" stroke-width="4.4"/>
<text transform="translate(423.37,566.3) scale(1,1.04)" font-size="28.8" style="font-weight:bold" fill="#000">PSM</text>
<line x1="350.2" y1="588.1" x2="415.7" y2="588.1" stroke="#14994a" stroke-width="4.4" stroke-dasharray="7.8 4.3"/>
<text transform="translate(424.25,595.1) scale(1,1.04)" font-size="28.8" style="font-weight:bold" fill="#000">65-624</text>
<line x1="350.2" y1="620.1" x2="415.7" y2="620.1" stroke="#e08c1e" stroke-width="4.4" stroke-dasharray="39.8 4.3 4.6 4.0"/>
<text transform="translate(424.06,626.5) scale(1,1.04)" font-size="28.8" style="font-weight:bold" fill="#000">70-624</text>
<line x1="350.2" y1="651.7" x2="415.7" y2="651.7" stroke="#1c2279" stroke-width="4.4" stroke-dasharray="20 4.3"/>
<text transform="translate(424.39,657.5) scale(1,1.04)" font-size="28.8" style="font-weight:bold" fill="#000">80-624</text>
<line x1="350.2" y1="682.1" x2="415.7" y2="682.1" stroke="#22a4d8" stroke-width="4.4" stroke-dasharray="20 4.3 3.7 4.3 4.0 4.3"/>
<text transform="translate(424.3,689.5) scale(1,1.04)" font-size="28.8" style="font-weight:bold" fill="#000">90-624</text>
<line x1="350.2" y1="712.8" x2="415.7" y2="712.8" stroke="#dc141c" stroke-width="4.4" stroke-dasharray="40 4.3"/>
<text transform="translate(423.49,719.9) scale(1,1.04)" font-size="28.8" style="font-weight:bold" fill="#000">100-624</text>
<polyline points="584,547.9 586.01,550.9 588.02,553.88 590.04,556.84 592.05,559.77 594.06,562.68 596.08,565.57 598.09,568.43 600.1,571.27 602.11,574.09 604.12,576.89 606.14,579.66 608.15,582.42 610.16,585.15 612.17,587.86 614.19,590.54 616.2,593.21 618.21,595.86 620.23,598.48 622.24,601.09 624.25,603.67 626.26,606.23 628.27,608.78 630.29,611.3 632.3,613.8 634.31,616.29 636.33,618.75 638.34,621.19 640.35,623.62 642.36,626.02 644.38,628.41 646.39,630.78 648.4,633.13 650.41,635.46 652.42,637.77 654.44,640.07 656.45,642.34 658.46,644.6 660.48,646.84 662.49,649.06 664.5,651.27 666.51,653.46 668.52,655.63 670.54,657.78 672.55,659.92 674.56,662.04 676.58,664.14 678.59,666.23 680.6,668.3 682.61,670.35 684.62,672.39 686.64,674.41 688.65,676.41 690.66,678.4 692.67,680.38 694.69,682.33 696.7,684.28 698.71,686.2 700.73,688.12 702.74,690.01 704.75,691.9 706.76,693.76 708.77,695.62 710.79,697.45 712.8,699.28 714.81,701.09 716.83,702.88 718.84,704.66 720.85,706.43 722.86,708.18 724.88,709.92 726.89,711.64 728.9,713.36 730.91,715.05 732.92,716.74 734.94,718.41 736.95,720.07 738.96,721.71 740.98,723.35 742.99,724.96 745,726.57 747.01,728.16 749.02,729.75 751.04,731.31 753.05,732.87 755.06,734.41 757.08,735.95 759.09,737.47 761.1,738.97 763.11,740.47 765.12,741.95 767.14,743.43 769.15,744.89 771.16,746.34 773.17,747.77 775.19,749.2 777.2,750.62 779.21,752.02 781.23,753.41 783.24,754.8 785.25,756.17 787.26,757.53 789.27,758.88 791.29,760.22 793.3,761.54 795.31,762.86 797.33,764.17 799.34,765.47 801.35,766.75 803.36,768.03 805.38,769.3 807.39,770.55 809.4,771.8 811.41,773.04 813.42,774.26 815.44,775.48 817.45,776.69 819.46,777.89 821.48,779.08 823.49,780.26 825.5,781.43 827.51,782.59 829.52,783.74 831.54,784.88 833.55,786.02 835.56,787.14 837.58,788.26 839.59,789.36 841.6,790.46 843.61,791.55 845.62,792.63 847.64,793.71 849.65,794.77 851.66,795.83 853.67,796.87 855.69,797.91 857.7,798.94 859.71,799.97 861.73,800.98 863.74,801.99 865.75,802.99 867.76,803.98 869.77,804.96 871.79,805.94 873.8,806.9 875.81,807.86 877.83,808.82 879.84,809.76 881.85,810.7 883.86,811.63 885.88,812.55 887.89,813.47 889.9,814.37 891.91,815.28 893.92,816.17 895.94,817.06 897.95,817.94 899.96,818.81 901.98,819.68 903.99,820.54 906,821.39 908.01,822.23 910.02,823.07 912.04,823.9 914.05,824.73 916.06,825.55 918.08,826.36 920.09,827.17 922.1,827.97 924.11,828.76 926.12,829.55 928.14,830.33 930.15,831.11 932.16,831.88 934.17,832.64 936.19,833.4 938.2,834.15 940.21,834.89 942.23,835.63 944.24,836.37 946.25,837.09 948.26,837.82 950.27,838.53 952.29,839.24 954.3,839.95 956.31,840.65 958.33,841.34 960.34,842.03 962.35,842.71 964.36,843.39 966.38,844.06 968.39,844.73 970.4,845.39 972.41,846.05 974.42,846.7 976.44,847.34 978.45,847.98 980.46,848.62 982.48,849.25 984.49,849.88 986.5,850.5" fill="none" stroke="#000" stroke-width="3.2" stroke-linejoin="round"/>
<polyline points="584,547.9 586.01,554.23 588.02,560.45 590.04,566.57 592.05,572.59 594.06,578.5 596.08,584.32 598.09,590.04 600.1,595.67 602.11,601.2 604.12,606.65 606.14,612 608.15,617.26 610.16,622.43 612.17,627.52 614.19,632.53 616.2,637.45 618.21,642.29 620.23,647.04 622.24,651.72 624.25,656.33 626.26,660.85 628.27,665.3 630.29,669.68 632.3,673.98 634.31,678.21 636.33,682.37 638.34,686.47 640.35,690.49 642.36,694.45 644.38,698.34 646.39,702.17 648.4,705.93 650.41,709.63 652.42,713.27 654.44,716.85 656.45,720.37 658.46,723.83 660.48,727.23 662.49,730.58 664.5,733.87 666.51,737.11 668.52,740.29 670.54,743.42 672.55,746.5 674.56,749.52 676.58,752.5 678.59,755.43 680.6,758.31 682.61,761.14 684.62,763.92 686.64,766.66 688.65,769.35 690.66,771.99 692.67,774.6 694.69,777.16 696.7,779.67 698.71,782.15 700.73,784.58 702.74,786.98 704.75,789.33 706.76,791.65 708.77,793.92 710.79,796.16 712.8,798.36 714.81,800.53 716.83,802.65 718.84,804.75 720.85,806.81 722.86,808.83 724.88,810.82 726.89,812.78 728.9,814.7 730.91,816.6 732.92,818.46 734.94,820.29 736.95,822.09 738.96,823.86 740.98,825.6 742.99,827.31 745,829 747.01,830.65 749.02,832.28 751.04,833.88 753.05,835.45 755.06,837 757.08,838.52 759.09,840.02 761.1,841.49 763.11,842.94 765.12,844.36 767.14,845.76 769.15,847.14 771.16,848.5 773.17,849.83 775.19,851.14 777.2,852.42 779.21,853.69 781.23,854.93 783.24,856.16 785.25,857.36 787.26,858.55 789.27,859.71 791.29,860.86 793.3,861.98 795.31,863.09 797.33,864.18 799.34,865.25 801.35,866.3 803.36,867.34 805.38,868.36 807.39,869.36 809.4,870.34 811.41,871.31 813.42,872.26 815.44,873.2 817.45,874.12 819.46,875.02 821.48,875.91 823.49,876.79 825.5,877.65 827.51,878.5 829.52,879.33 831.54,880.15 833.55,880.96 835.56,881.75 837.58,882.53 839.59,883.29 841.6,884.04 843.61,884.79 845.62,885.51 847.64,886.23 849.65,886.93 851.66,887.63 853.67,888.31 855.69,888.98 857.7,889.64 859.71,890.28 861.73,890.92 863.74,891.55 865.75,892.16 867.76,892.77 869.77,893.36 871.79,893.95 873.8,894.52 875.81,895.09 877.83,895.65 879.84,896.2 881.85,896.73 883.86,897.26 885.88,897.78 887.89,898.3 889.9,898.8 891.91,899.3 893.92,899.78 895.94,900.26 897.95,900.73 899.96,901.2 901.98,901.65 903.99,902.1 906,902.54 908.01,902.97 910.02,903.4 912.04,903.82 914.05,904.23 916.06,904.63 918.08,905.03 920.09,905.42 922.1,905.81 924.11,906.19 926.12,906.56 928.14,906.93 930.15,907.29 932.16,907.64 934.17,907.99 936.19,908.33 938.2,908.67 940.21,909 942.23,909.33 944.24,909.65 946.25,909.96 948.26,910.27 950.27,910.58 952.29,910.88 954.3,911.17 956.31,911.46 958.33,911.74 960.34,912.03 962.35,912.3 964.36,912.57 966.38,912.84 968.39,913.1 970.4,913.36 972.41,913.61 974.42,913.86 976.44,914.1 978.45,914.35 980.46,914.58 982.48,914.82 984.49,915.04 986.5,915.27" fill="none" stroke="#14994a" stroke-width="3.9" stroke-dasharray="7.8 4.3" stroke-linejoin="round"/>
<polyline points="584,547.9 586.01,561.88 588.02,575.34 590.04,588.31 592.05,600.8 594.06,612.83 596.08,624.42 598.09,635.59 600.1,646.34 602.11,656.71 604.12,666.69 606.14,676.3 608.15,685.56 610.16,694.49 612.17,703.08 614.19,711.36 616.2,719.33 618.21,727.01 620.23,734.41 622.24,741.54 624.25,748.41 626.26,755.02 628.27,761.4 630.29,767.53 632.3,773.45 634.31,779.14 636.33,784.63 638.34,789.91 640.35,795.01 642.36,799.91 644.38,804.63 646.39,809.18 648.4,813.57 650.41,817.79 652.42,821.86 654.44,825.78 656.45,829.55 658.46,833.19 660.48,836.69 662.49,840.06 664.5,843.31 666.51,846.44 668.52,849.46 670.54,852.37 672.55,855.16 674.56,857.86 676.58,860.46 678.59,862.96 680.6,865.37 682.61,867.69 684.62,869.93 686.64,872.08 688.65,874.15 690.66,876.15 692.67,878.08 694.69,879.93 696.7,881.72 698.71,883.44 700.73,885.1 702.74,886.69 704.75,888.23 706.76,889.71 708.77,891.14 710.79,892.52 712.8,893.84 714.81,895.12 716.83,896.35 718.84,897.53 720.85,898.67 722.86,899.77 724.88,900.83 726.89,901.85 728.9,902.83 730.91,903.78 732.92,904.69 734.94,905.57 736.95,906.41 738.96,907.23 740.98,908.01 742.99,908.77 745,909.49 747.01,910.2 749.02,910.87 751.04,911.52 753.05,912.15 755.06,912.75 757.08,913.33 759.09,913.89 761.1,914.43 763.11,914.95 765.12,915.46 767.14,915.94 769.15,916.4 771.16,916.85 773.17,917.28 775.19,917.7 777.2,918.1 779.21,918.48 781.23,918.85 783.24,919.21 785.25,919.56 787.26,919.89 789.27,920.21 791.29,920.52 793.3,920.81 795.31,921.1 797.33,921.37 799.34,921.64 801.35,921.9 803.36,922.14 805.38,922.38 807.39,922.61 809.4,922.83 811.41,923.04 813.42,923.24 815.44,923.44 817.45,923.63 819.46,923.81 821.48,923.99 823.49,924.16 825.5,924.32 827.51,924.48 829.52,924.63 831.54,924.77 833.55,924.91 835.56,925.05 837.58,925.18 839.59,925.31 841.6,925.43 843.61,925.54 845.62,925.66 847.64,925.76 849.65,925.87 851.66,925.97 853.67,926.06 855.69,926.16 857.7,926.25 859.71,926.33 861.73,926.42 863.74,926.5 865.75,926.57 867.76,926.65 869.77,926.72 871.79,926.79 873.8,926.86 875.81,926.92 877.83,926.98 879.84,927.04 881.85,927.1 883.86,927.15 885.88,927.21 887.89,927.26 889.9,927.31 891.91,927.35 893.92,927.4 895.94,927.44 897.95,927.49 899.96,927.53 901.98,927.57 903.99,927.6 906,927.64 908.01,927.68 910.02,927.71 912.04,927.74 914.05,927.77 916.06,927.8 918.08,927.83 920.09,927.86 922.1,927.89 924.11,927.92 926.12,927.94 928.14,927.96 930.15,927.99 932.16,928.01 934.17,928.03 936.19,928.05 938.2,928.07 940.21,928.09 942.23,928.11 944.24,928.13 946.25,928.15 948.26,928.16 950.27,928.18 952.29,928.19 954.3,928.21 956.31,928.22 958.33,928.24 960.34,928.25 962.35,928.26 964.36,928.28 966.38,928.29 968.39,928.3 970.4,928.31 972.41,928.32 974.42,928.33 976.44,928.34 978.45,928.35 980.46,928.36 982.48,928.37 984.49,928.38 986.5,928.39" fill="none" stroke="#e08c1e" stroke-width="3.9" stroke-dasharray="39.8 4.3 4.6 4.0" stroke-linejoin="round"/>
<polyline points="584,547.9 586.01,550.76 588.02,553.61 590.04,556.43 592.05,559.23 594.06,562 596.08,564.76 598.09,567.5 600.1,570.21 602.11,572.91 604.12,575.58 606.14,578.24 608.15,580.88 610.16,583.49 612.17,586.09 614.19,588.66 616.2,591.22 618.21,593.76 620.23,596.28 622.24,598.78 624.25,601.26 626.26,603.72 628.27,606.16 630.29,608.59 632.3,610.99 634.31,613.38 636.33,615.75 638.34,618.11 640.35,620.44 642.36,622.76 644.38,625.06 646.39,627.34 648.4,629.61 650.41,631.86 652.42,634.09 654.44,636.31 656.45,638.5 658.46,640.69 660.48,642.85 662.49,645 664.5,647.13 666.51,649.25 668.52,651.35 670.54,653.44 672.55,655.51 674.56,657.56 676.58,659.6 678.59,661.62 680.6,663.63 682.61,665.62 684.62,667.6 686.64,669.57 688.65,671.51 690.66,673.45 692.67,675.37 694.69,677.27 696.7,679.16 698.71,681.04 700.73,682.9 702.74,684.75 704.75,686.58 706.76,688.4 708.77,690.21 710.79,692 712.8,693.78 714.81,695.55 716.83,697.3 718.84,699.04 720.85,700.77 722.86,702.48 724.88,704.18 726.89,705.87 728.9,707.54 730.91,709.21 732.92,710.86 734.94,712.5 736.95,714.12 738.96,715.73 740.98,717.34 742.99,718.92 745,720.5 747.01,722.07 749.02,723.62 751.04,725.16 753.05,726.69 755.06,728.21 757.08,729.72 759.09,731.21 761.1,732.7 763.11,734.17 765.12,735.63 767.14,737.09 769.15,738.53 771.16,739.96 773.17,741.37 775.19,742.78 777.2,744.18 779.21,745.57 781.23,746.94 783.24,748.31 785.25,749.67 787.26,751.01 789.27,752.35 791.29,753.67 793.3,754.99 795.31,756.3 797.33,757.59 799.34,758.88 801.35,760.15 803.36,761.42 805.38,762.68 807.39,763.93 809.4,765.17 811.41,766.39 813.42,767.61 815.44,768.83 817.45,770.03 819.46,771.22 821.48,772.4 823.49,773.58 825.5,774.74 827.51,775.9 829.52,777.05 831.54,778.19 833.55,779.32 835.56,780.44 837.58,781.56 839.59,782.66 841.6,783.76 843.61,784.85 845.62,785.93 847.64,787.01 849.65,788.07 851.66,789.13 853.67,790.18 855.69,791.22 857.7,792.25 859.71,793.28 861.73,794.3 863.74,795.31 865.75,796.31 867.76,797.3 869.77,798.29 871.79,799.27 873.8,800.24 875.81,801.21 877.83,802.17 879.84,803.12 881.85,804.06 883.86,805 885.88,805.93 887.89,806.85 889.9,807.77 891.91,808.68 893.92,809.58 895.94,810.47 897.95,811.36 899.96,812.24 901.98,813.12 903.99,813.99 906,814.85 908.01,815.7 910.02,816.55 912.04,817.4 914.05,818.23 916.06,819.06 918.08,819.89 920.09,820.7 922.1,821.52 924.11,822.32 926.12,823.12 928.14,823.91 930.15,824.7 932.16,825.48 934.17,826.26 936.19,827.03 938.2,827.79 940.21,828.55 942.23,829.3 944.24,830.05 946.25,830.79 948.26,831.53 950.27,832.26 952.29,832.98 954.3,833.7 956.31,834.41 958.33,835.12 960.34,835.83 962.35,836.52 964.36,837.22 966.38,837.9 968.39,838.59 970.4,839.26 972.41,839.94 974.42,840.6 976.44,841.26 978.45,841.92 980.46,842.57 982.48,843.22 984.49,843.86 986.5,844.5" fill="none" stroke="#22a4d8" stroke-width="3.9" stroke-dasharray="20 4.3 3.7 4.3 4.0 4.3" stroke-linejoin="round"/>
<polyline points="584,547.9 584.5,558.41 585.01,568.63 585.51,578.57 586.01,588.24 586.52,597.64 587.02,606.77 587.52,615.66 588.02,624.3 588.53,632.7 589.03,640.87 589.53,648.82 590.04,656.54 590.54,664.05 591.04,671.36 591.55,678.46 592.05,685.37 592.55,692.08 593.06,698.62 593.56,704.97 594.06,711.14 594.57,717.15 595.07,722.98 595.57,728.66 596.08,734.18 596.58,739.55 597.08,744.77 597.58,749.85 598.09,754.78 598.59,759.58 599.09,764.25 599.6,768.79 600.1,773.2 600.6,777.49 601.11,781.66 601.61,785.72 602.11,789.66 602.62,793.5 603.12,797.23 603.62,800.86 604.12,804.39 604.63,807.82 605.13,811.15 605.63,814.39 606.14,817.55 606.64,820.61 607.14,823.59 607.65,826.49 608.15,829.31 608.65,832.05 609.16,834.72 609.66,837.31 610.16,839.83 610.67,842.28 611.17,844.67 611.67,846.99 612.17,849.24 612.68,851.43 613.18,853.56 613.68,855.63 614.19,857.65 614.69,859.61 615.19,861.51 615.7,863.36 616.2,865.17 616.7,866.92 617.21,868.62 617.71,870.28 618.21,871.89 618.72,873.45 619.22,874.98 619.72,876.46 620.23,877.9 620.73,879.3 621.23,880.66 621.73,881.98 622.24,883.27 622.74,884.52 623.24,885.74 623.75,886.92 624.25,888.07 624.75,889.19 625.26,890.28 625.76,891.34 626.26,892.37 626.77,893.37 627.27,894.34 627.77,895.28 628.27,896.2 628.78,897.1 629.28,897.97 629.78,898.81 630.29,899.64 630.79,900.44 631.29,901.21 631.8,901.97 632.3,902.71 632.8,903.42 633.31,904.12 633.81,904.79 634.31,905.45 634.82,906.09 635.32,906.71 635.82,907.31 636.33,907.9 636.83,908.47 637.33,909.03 637.83,909.57 638.34,910.1 638.84,910.61 639.34,911.1 639.85,911.59 640.35,912.06 640.85,912.51 641.36,912.96 641.86,913.39 642.36,913.81 642.87,914.22 643.37,914.61 643.87,915 644.38,915.38 644.88,915.74 645.38,916.1 645.88,916.44 646.39,916.78 646.89,917.1 647.39,917.42 647.9,917.73 648.4,918.03 648.9,918.32 649.41,918.61 649.91,918.88 650.41,919.15 650.92,919.41 651.42,919.66 651.92,919.91 652.42,920.15 652.93,920.38 653.43,920.61 653.93,920.83 654.44,921.05 654.94,921.26 655.44,921.46 655.95,921.66 656.45,921.85 656.95,922.03 657.46,922.21 657.96,922.39 658.46,922.56 658.97,922.73 659.47,922.89 659.97,923.05 660.48,923.2 660.98,923.35 661.48,923.5 661.98,923.64 662.49,923.77 662.99,923.91 663.49,924.04 664,924.16 664.5,924.29 665,924.4 665.51,924.52 666.01,924.63 666.51,924.74 667.02,924.85 667.52,924.95 668.02,925.05 668.52,925.15 669.03,925.25 669.53,925.34 670.03,925.43 670.54,925.52 671.04,925.6 671.54,925.68 672.05,925.77 672.55,925.84 673.05,925.92 673.56,925.99 674.06,926.07 674.56,926.14 675.07,926.2 675.57,926.27 676.07,926.33 676.58,926.4 677.08,926.46 677.58,926.52 678.08,926.57 678.59,926.63 679.09,926.68 679.59,926.74 680.1,926.79 680.6,926.84 681.1,926.89 681.61,926.93 682.11,926.98 682.61,927.03 683.12,927.07 683.62,927.11 684.12,927.15 684.62,927.19 685.13,927.23 685.63,927.27 686.13,927.31 686.64,927.34 687.14,927.38 687.64,927.41 688.15,927.44 688.65,927.47 689.15,927.51 689.66,927.54 690.16,927.57 690.66,927.59 691.17,927.62 691.67,927.65 692.17,927.68 692.67,927.7 693.18,927.73 693.68,927.75 694.18,927.77 694.69,927.8 695.19,927.82 695.69,927.84 696.2,927.86 696.7,927.88 697.2,927.9 697.71,927.92 698.21,927.94 698.71,927.96 699.22,927.97 699.72,927.99 700.22,928.01 700.73,928.03 701.23,928.04 701.73,928.06 702.23,928.07 702.74,928.09 703.24,928.1 703.74,928.11 704.25,928.13 704.75,928.14 706.76,928.19 708.77,928.23 710.79,928.27 712.8,928.31 714.81,928.34 716.83,928.37 718.84,928.39 720.85,928.41 722.86,928.43 724.88,928.45 726.89,928.47 728.9,928.48 730.91,928.49 732.92,928.5 734.94,928.51 736.95,928.52 738.96,928.53 740.98,928.54 742.99,928.55 745,928.55 747.01,928.56 749.02,928.56 751.04,928.57 753.05,928.57 755.06,928.57 757.08,928.58 759.09,928.58 761.1,928.58 763.11,928.58 765.12,928.58 767.14,928.59 769.15,928.59 771.16,928.59 773.17,928.59 775.19,928.59 777.2,928.59 779.21,928.59 781.23,928.59 783.24,928.59 785.25,928.59 787.26,928.6 789.27,928.6 791.29,928.6 793.3,928.6 795.31,928.6 797.33,928.6 799.34,928.6 801.35,928.6 803.36,928.6 805.38,928.6 807.39,928.6 809.4,928.6 811.41,928.6 813.42,928.6 815.44,928.6 817.45,928.6 819.46,928.6 821.48,928.6 823.49,928.6 825.5,928.6 827.51,928.6 829.52,928.6 831.54,928.6 833.55,928.6 835.56,928.6 837.58,928.6 839.59,928.6 841.6,928.6 843.61,928.6 845.62,928.6 847.64,928.6 849.65,928.6 851.66,928.6 853.67,928.6 855.69,928.6 857.7,928.6 859.71,928.6 861.73,928.6 863.74,928.6 865.75,928.6 867.76,928.6 869.77,928.6 871.79,928.6 873.8,928.6 875.81,928.6 877.83,928.6 879.84,928.6 881.85,928.6 883.86,928.6 885.88,928.6 887.89,928.6 889.9,928.6 891.91,928.6 893.92,928.6 895.94,928.6 897.95,928.6 899.96,928.6 901.98,928.6 903.99,928.6 906,928.6 908.01,928.6 910.02,928.6 912.04,928.6 914.05,928.6 916.06,928.6 918.08,928.6 920.09,928.6 922.1,928.6 924.11,928.6 926.12,928.6 928.14,928.6 930.15,928.6 932.16,928.6 934.17,928.6 936.19,928.6 938.2,928.6 940.21,928.6 942.23,928.6 944.24,928.6 946.25,928.6 948.26,928.6 950.27,928.6 952.29,928.6 954.3,928.6 956.31,928.6 958.33,928.6 960.34,928.6 962.35,928.6 964.36,928.6 966.38,928.6 968.39,928.6 970.4,928.6 972.41,928.6 974.42,928.6 976.44,928.6 978.45,928.6 980.46,928.6 982.48,928.6 984.49,928.6 986.5,928.6" fill="none" stroke="#dc141c" stroke-width="3.9" stroke-dasharray="40 4.3" stroke-linejoin="round"/>
<circle cx="584" cy="547.9" r="6" fill="#000"/>
<rect x="566.8" y="519.6" width="434.1" height="429.6" fill="none" stroke="#000" stroke-width="2.4"/>
<line x1="566.8" y1="928.6" x2="578.3" y2="928.6" stroke="#000" stroke-width="2.4"/>
<line x1="566.8" y1="833.42" x2="578.3" y2="833.42" stroke="#000" stroke-width="2.4"/>
<line x1="566.8" y1="738.25" x2="578.3" y2="738.25" stroke="#000" stroke-width="2.4"/>
<line x1="566.8" y1="643.08" x2="578.3" y2="643.08" stroke="#000" stroke-width="2.4"/>
<line x1="566.8" y1="547.9" x2="578.3" y2="547.9" stroke="#000" stroke-width="2.4"/>
<line x1="584" y1="949.2" x2="584" y2="938.2" stroke="#000" stroke-width="2.4"/>
<line x1="684.62" y1="949.2" x2="684.62" y2="938.2" stroke="#000" stroke-width="2.4"/>
<line x1="785.25" y1="949.2" x2="785.25" y2="938.2" stroke="#000" stroke-width="2.4"/>
<line x1="885.88" y1="949.2" x2="885.88" y2="938.2" stroke="#000" stroke-width="2.4"/>
<line x1="986.5" y1="949.2" x2="986.5" y2="938.2" stroke="#000" stroke-width="2.4"/>
<text transform="translate(576.49,975.4) scale(1,1.075)" font-size="27" style="" fill="#000">0</text>
<text transform="translate(669.61,975.4) scale(1,1.075)" font-size="27" style="" fill="#000">50</text>
<text transform="translate(762.73,975.4) scale(1,1.075)" font-size="27" style="" fill="#000">100</text>
<text transform="translate(863.35,975.4) scale(1,1.075)" font-size="27" style="" fill="#000">150</text>
<text transform="translate(963.98,975.4) scale(1,1.075)" font-size="27" style="" fill="#000">200</text>
<line x1="795.1" y1="556.8" x2="859.4" y2="556.8" stroke="#000" stroke-width="4.4"/>
<text transform="translate(867.97,566.4) scale(1,1.04)" font-size="28.8" style="font-weight:bold" fill="#000">PSM</text>
<line x1="795.1" y1="588" x2="859.4" y2="588" stroke="#14994a" stroke-width="4.4" stroke-dasharray="7.8 4.3"/>
<text transform="translate(869.07,595.2) scale(1,1.04)" font-size="28.8" style="font-weight:bold" fill="#000">SK</text>
<text transform="translate(907.52,596.2) scale(1.2978,0.8830)" font-family="'DejaVu Sans', sans-serif" font-size="28.8" style="font-weight:bold">→</text>
<text transform="translate(937.88,595.2) scale(1,1.04)" font-size="28.8" style="font-weight:bold" fill="#000">AA</text>
<line x1="795.1" y1="619.1" x2="859.4" y2="619.1" stroke="#e08c1e" stroke-width="4.4" stroke-dasharray="39.8 4.3 4.6 4.0"/>
<text transform="translate(868.72,625.1) scale(1,1.04)" font-size="28.8" style="font-weight:bold" fill="#000">QQ</text>
<text transform="translate(911.97,626.1) scale(1.2978,0.8830)" font-family="'DejaVu Sans', sans-serif" font-size="28.8" style="font-weight:bold">→</text>
<text transform="translate(942.32,625.1) scale(1,1.04)" font-size="28.8" style="font-weight:bold" fill="#000">AA</text>
<line x1="795.1" y1="649.8" x2="859.4" y2="649.8" stroke="#22a4d8" stroke-width="4.4" stroke-dasharray="20 4.3 3.7 4.3 4.0 4.3"/>
<text transform="translate(869.41,656.3) scale(1,1.04)" font-size="28.8" style="font-weight:bold" fill="#000">YT</text>
<text transform="translate(904.65,657.3) scale(1.2978,0.8830)" font-family="'DejaVu Sans', sans-serif" font-size="28.8" style="font-weight:bold">→</text>
<text transform="translate(935.01,656.3) scale(1,1.04)" font-size="28.8" style="font-weight:bold" fill="#000">AA</text>
<line x1="795.1" y1="680.8" x2="859.4" y2="680.8" stroke="#dc141c" stroke-width="4.4" stroke-dasharray="40 4.3"/>
<text transform="translate(868.09,687.5) scale(1,1.04)" font-size="28.8" style="font-weight:bold" fill="#000">100-624</text>
<text transform="translate(50,491.3) rotate(-90) scale(1,1.04)" text-anchor="middle" font-size="32.8" style="font-weight:bold">Pfr Remaining (%)</text>
<text transform="translate(482.73,1014.4) scale(1,1.04)" font-size="31.4" style="font-weight:bold" fill="#000">Time (min)</text>
<text transform="translate(1083.87,47.4) scale(1,1.04)" font-size="55" style="font-weight:bold" fill="#000">b</text>
<line x1="1596.8" y1="77" x2="1596.8" y2="953" stroke="#9a9a9a" stroke-width="2" stroke-dasharray="6.4 3.2"/>
<rect x="1198.3" y="71.5" width="693.2" height="480.1" fill="none" stroke="#000" stroke-width="2.4"/>
<line x1="1246" y1="551.6" x2="1246" y2="539.6" stroke="#000" stroke-width="2.4"/>
<line x1="1308.31" y1="551.6" x2="1308.31" y2="539.6" stroke="#000" stroke-width="2.4"/>
<line x1="1370.62" y1="551.6" x2="1370.62" y2="539.6" stroke="#000" stroke-width="2.4"/>
<line x1="1432.93" y1="551.6" x2="1432.93" y2="539.6" stroke="#000" stroke-width="2.4"/>
<line x1="1495.24" y1="551.6" x2="1495.24" y2="539.6" stroke="#000" stroke-width="2.4"/>
<line x1="1557.55" y1="551.6" x2="1557.55" y2="539.6" stroke="#000" stroke-width="2.4"/>
<line x1="1619.86" y1="551.6" x2="1619.86" y2="539.6" stroke="#000" stroke-width="2.4"/>
<line x1="1682.17" y1="551.6" x2="1682.17" y2="539.6" stroke="#000" stroke-width="2.4"/>
<line x1="1744.48" y1="551.6" x2="1744.48" y2="539.6" stroke="#000" stroke-width="2.4"/>
<line x1="1806.79" y1="551.6" x2="1806.79" y2="539.6" stroke="#000" stroke-width="2.4"/>
<line x1="1869.1" y1="551.6" x2="1869.1" y2="539.6" stroke="#000" stroke-width="2.4"/>
<rect x="1198.3" y="584.6" width="693.2" height="168.7" fill="none" stroke="#000" stroke-width="2.4"/>
<line x1="1246" y1="753.3" x2="1246" y2="741.3" stroke="#000" stroke-width="2.4"/>
<line x1="1308.31" y1="753.3" x2="1308.31" y2="741.3" stroke="#000" stroke-width="2.4"/>
<line x1="1370.62" y1="753.3" x2="1370.62" y2="741.3" stroke="#000" stroke-width="2.4"/>
<line x1="1432.93" y1="753.3" x2="1432.93" y2="741.3" stroke="#000" stroke-width="2.4"/>
<line x1="1495.24" y1="753.3" x2="1495.24" y2="741.3" stroke="#000" stroke-width="2.4"/>
<line x1="1557.55" y1="753.3" x2="1557.55" y2="741.3" stroke="#000" stroke-width="2.4"/>
<line x1="1619.86" y1="753.3" x2="1619.86" y2="741.3" stroke="#000" stroke-width="2.4"/>
<line x1="1682.17" y1="753.3" x2="1682.17" y2="741.3" stroke="#000" stroke-width="2.4"/>
<line x1="1744.48" y1="753.3" x2="1744.48" y2="741.3" stroke="#000" stroke-width="2.4"/>
<line x1="1806.79" y1="753.3" x2="1806.79" y2="741.3" stroke="#000" stroke-width="2.4"/>
<line x1="1869.1" y1="753.3" x2="1869.1" y2="741.3" stroke="#000" stroke-width="2.4"/>
<rect x="1198.3" y="785.5" width="693.2" height="170.2" fill="none" stroke="#000" stroke-width="2.4"/>
<line x1="1246" y1="955.7" x2="1246" y2="943.7" stroke="#000" stroke-width="2.4"/>
<line x1="1308.31" y1="955.7" x2="1308.31" y2="943.7" stroke="#000" stroke-width="2.4"/>
<line x1="1370.62" y1="955.7" x2="1370.62" y2="943.7" stroke="#000" stroke-width="2.4"/>
<line x1="1432.93" y1="955.7" x2="1432.93" y2="943.7" stroke="#000" stroke-width="2.4"/>
<line x1="1495.24" y1="955.7" x2="1495.24" y2="943.7" stroke="#000" stroke-width="2.4"/>
<line x1="1557.55" y1="955.7" x2="1557.55" y2="943.7" stroke="#000" stroke-width="2.4"/>
<line x1="1619.86" y1="955.7" x2="1619.86" y2="943.7" stroke="#000" stroke-width="2.4"/>
<line x1="1682.17" y1="955.7" x2="1682.17" y2="943.7" stroke="#000" stroke-width="2.4"/>
<line x1="1744.48" y1="955.7" x2="1744.48" y2="943.7" stroke="#000" stroke-width="2.4"/>
<line x1="1806.79" y1="955.7" x2="1806.79" y2="943.7" stroke="#000" stroke-width="2.4"/>
<line x1="1869.1" y1="955.7" x2="1869.1" y2="943.7" stroke="#000" stroke-width="2.4"/>
<line x1="1198.3" y1="123.6" x2="1210.3" y2="123.6" stroke="#000" stroke-width="2.4"/>
<text transform="translate(1174.94,132.9) scale(1,1.075)" font-size="27" style="" fill="#000">2</text>
<line x1="1198.3" y1="206.7" x2="1210.3" y2="206.7" stroke="#000" stroke-width="2.4"/>
<text transform="translate(1174.64,215.68) scale(1,1.075)" font-size="27" style="" fill="#000">0</text>
<line x1="1198.3" y1="289.8" x2="1210.3" y2="289.8" stroke="#000" stroke-width="2.4"/>
<text transform="translate(1165.95,298.46) scale(1,1.075)" font-size="27" style="" fill="#000">-2</text>
<line x1="1198.3" y1="372.9" x2="1210.3" y2="372.9" stroke="#000" stroke-width="2.4"/>
<text transform="translate(1165.38,381.24) scale(1,1.075)" font-size="27" style="" fill="#000">-4</text>
<line x1="1198.3" y1="456" x2="1210.3" y2="456" stroke="#000" stroke-width="2.4"/>
<text transform="translate(1165.78,464.02) scale(1,1.075)" font-size="27" style="" fill="#000">-6</text>
<line x1="1198.3" y1="539.1" x2="1210.3" y2="539.1" stroke="#000" stroke-width="2.4"/>
<text transform="translate(1165.77,546.8) scale(1,1.075)" font-size="27" style="" fill="#000">-8</text>
<line x1="1198.3" y1="624.5" x2="1210.3" y2="624.5" stroke="#000" stroke-width="2.4"/>
<text transform="translate(1147.81,632.8) scale(1,1.075)" font-size="27" style="" fill="#000">670</text>
<line x1="1198.3" y1="709.4" x2="1210.3" y2="709.4" stroke="#000" stroke-width="2.4"/>
<text transform="translate(1147.81,717.7) scale(1,1.075)" font-size="27" style="" fill="#000">660</text>
<line x1="1198.3" y1="785.5" x2="1210.3" y2="785.5" stroke="#000" stroke-width="2.4"/>
<text transform="translate(1147.81,793.5) scale(1,1.075)" font-size="27" style="" fill="#000">730</text>
<line x1="1198.3" y1="870.7" x2="1210.3" y2="870.7" stroke="#000" stroke-width="2.4"/>
<text transform="translate(1147.81,878.7) scale(1,1.075)" font-size="27" style="" fill="#000">720</text>
<line x1="1198.3" y1="955.9" x2="1210.3" y2="955.9" stroke="#000" stroke-width="2.4"/>
<text transform="translate(1147.81,963.9) scale(1,1.075)" font-size="27" style="" fill="#000">710</text>
<text transform="translate(1236.49,984) scale(1,1.075)" font-size="27" style="" fill="#000">0</text>
<text transform="translate(1293.29,984) scale(1,1.075)" font-size="27" style="" fill="#000">10</text>
<text transform="translate(1355.6,984) scale(1,1.075)" font-size="27" style="" fill="#000">20</text>
<text transform="translate(1417.91,984) scale(1,1.075)" font-size="27" style="" fill="#000">30</text>
<text transform="translate(1480.22,984) scale(1,1.075)" font-size="27" style="" fill="#000">40</text>
<text transform="translate(1542.53,984) scale(1,1.075)" font-size="27" style="" fill="#000">50</text>
<text transform="translate(1604.84,984) scale(1,1.075)" font-size="27" style="" fill="#000">60</text>
<text transform="translate(1667.15,984) scale(1,1.075)" font-size="27" style="" fill="#000">70</text>
<text transform="translate(1729.46,984) scale(1,1.075)" font-size="27" style="" fill="#000">80</text>
<text transform="translate(1791.77,984) scale(1,1.075)" font-size="27" style="" fill="#000">90</text>
<text transform="translate(1849.58,984) scale(1,1.075)" font-size="27" style="" fill="#000">100</text>
<text transform="translate(1416.88,1028.4) scale(1,1.04)" font-size="32.8" style="font-weight:bold" fill="#000">Residue Position</text>
<text transform="translate(1144.7,324.3) rotate(-90) scale(1,1.04)" text-anchor="middle" font-size="32" textLength="329" lengthAdjust="spacing" style="font-weight:bold;white-space:pre" xml:space="preserve">Rate Constant  (log2)</text>
<text transform="translate(1120.4,781.5) rotate(-90) scale(1,1.04)" text-anchor="middle" font-size="32.7" style="font-weight:bold">Wavelength Maximum (nm)</text>
<polyline points="1245.3,153.1 1302.3,154 1363.7,151.2 1427.4,150.6 1489.8,149.6 1521.4,165.5 1552.9,151.2 1616,155 1679.1,156.9 1740.7,156.9 1804.4,151.2 1867.2,159.8" fill="none" stroke="#000" stroke-width="2"/>
<polyline points="1245.3,208.4 1301.7,216.1 1364.6,220.2 1427.4,219 1489.8,215.7 1520.1,216.4 1552.9,201.6 1615.2,201.8 1646.9,196.6 1677.8,205.3 1740.9,198.1 1803.3,191.8 1866.2,208.1" fill="none" stroke="#000" stroke-width="2"/>
<polyline points="1245.1,498.2 1300.7,486.9 1364.2,483.4 1427,499.3 1489.4,509.9 1520.6,479.3 1552.7,454.6 1584.6,460.3 1590.6,414.1 1597,387 1608.3,350.7 1615.6,355.9 1646.7,323.9 1678.3,322.4 1740.9,313.9 1803.2,315.4 1866.1,327.7" fill="none" stroke="#000" stroke-width="2"/>
<polyline points="1244.7,665.4 1300.9,665.4 1364,666 1427.4,666.9 1490.3,665.4 1520.6,656.7 1553.7,674.4 1584.2,665.8 1589.6,665.8 1596,665.8 1614,667.3 1646,656.7 1678.7,665.8 1741,664.8 1805,665.8 1867.8,674.4" fill="none" stroke="#000" stroke-width="2"/>
<polyline points="1245.1,837.2 1301.3,837.2 1364,837.2 1427,836.6 1489.8,828.5 1521.4,828.5 1553.3,845.7 1584.2,837.1 1590.6,845 1596.6,854.6 1609.2,881.3 1616.2,871.3 1647.1,888.3 1678.5,895.6 1741.6,896.8 1804.9,886 1867.8,896.8" fill="none" stroke="#000" stroke-width="2"/>
<rect x="1239.8" y="147.6" width="11" height="11" fill="#fff" stroke="#000" stroke-width="2.2"/>
<rect x="1296.8" y="148.5" width="11" height="11" fill="#fff" stroke="#000" stroke-width="2.2"/>
<rect x="1358.2" y="145.7" width="11" height="11" fill="#fff" stroke="#000" stroke-width="2.2"/>
<rect x="1421.9" y="145.1" width="11" height="11" fill="#fff" stroke="#000" stroke-width="2.2"/>
<rect x="1484.3" y="144.1" width="11" height="11" fill="#fff" stroke="#000" stroke-width="2.2"/>
<rect x="1515.9" y="160" width="11" height="11" fill="#fff" stroke="#000" stroke-width="2.2"/>
<rect x="1547.4" y="145.7" width="11" height="11" fill="#fff" stroke="#000" stroke-width="2.2"/>
<rect x="1610.5" y="149.5" width="11" height="11" fill="#fff" stroke="#000" stroke-width="2.2"/>
<rect x="1673.6" y="151.4" width="11" height="11" fill="#fff" stroke="#000" stroke-width="2.2"/>
<rect x="1735.2" y="151.4" width="11" height="11" fill="#fff" stroke="#000" stroke-width="2.2"/>
<rect x="1798.9" y="145.7" width="11" height="11" fill="#fff" stroke="#000" stroke-width="2.2"/>
<rect x="1861.7" y="154.3" width="11" height="11" fill="#fff" stroke="#000" stroke-width="2.2"/>
<polygon points="1245.3,201.13 1239,212.04 1251.6,212.04" fill="#fff" stroke="#000" stroke-width="2.2" stroke-linejoin="miter"/>
<polygon points="1301.7,208.83 1295.4,219.74 1308,219.74" fill="#fff" stroke="#000" stroke-width="2.2" stroke-linejoin="miter"/>
<polygon points="1364.6,212.93 1358.3,223.84 1370.9,223.84" fill="#fff" stroke="#000" stroke-width="2.2" stroke-linejoin="miter"/>
<polygon points="1427.4,211.73 1421.1,222.64 1433.7,222.64" fill="#fff" stroke="#000" stroke-width="2.2" stroke-linejoin="miter"/>
<polygon points="1489.8,208.43 1483.5,219.34 1496.1,219.34" fill="#fff" stroke="#000" stroke-width="2.2" stroke-linejoin="miter"/>
<polygon points="1520.1,209.13 1513.8,220.04 1526.4,220.04" fill="#fff" stroke="#000" stroke-width="2.2" stroke-linejoin="miter"/>
<polygon points="1552.9,194.33 1546.6,205.24 1559.2,205.24" fill="#fff" stroke="#000" stroke-width="2.2" stroke-linejoin="miter"/>
<polygon points="1615.2,194.53 1608.9,205.44 1621.5,205.44" fill="#fff" stroke="#000" stroke-width="2.2" stroke-linejoin="miter"/>
<polygon points="1646.9,189.33 1640.6,200.24 1653.2,200.24" fill="#fff" stroke="#000" stroke-width="2.2" stroke-linejoin="miter"/>
<polygon points="1677.8,198.03 1671.5,208.94 1684.1,208.94" fill="#fff" stroke="#000" stroke-width="2.2" stroke-linejoin="miter"/>
<polygon points="1740.9,190.83 1734.6,201.74 1747.2,201.74" fill="#fff" stroke="#000" stroke-width="2.2" stroke-linejoin="miter"/>
<polygon points="1803.3,184.53 1797,195.44 1809.6,195.44" fill="#fff" stroke="#000" stroke-width="2.2" stroke-linejoin="miter"/>
<polygon points="1866.2,200.83 1859.9,211.74 1872.5,211.74" fill="#fff" stroke="#000" stroke-width="2.2" stroke-linejoin="miter"/>
<circle cx="1245.1" cy="498.2" r="6.5" fill="#fff" stroke="#000" stroke-width="2.2"/>
<circle cx="1300.7" cy="486.9" r="6.5" fill="#fff" stroke="#000" stroke-width="2.2"/>
<circle cx="1364.2" cy="483.4" r="6.5" fill="#fff" stroke="#000" stroke-width="2.2"/>
<circle cx="1427" cy="499.3" r="6.5" fill="#fff" stroke="#000" stroke-width="2.2"/>
<circle cx="1489.4" cy="509.9" r="6.5" fill="#fff" stroke="#000" stroke-width="2.2"/>
<circle cx="1520.6" cy="479.3" r="6.5" fill="#fff" stroke="#000" stroke-width="2.2"/>
<circle cx="1552.7" cy="454.6" r="6.5" fill="#fff" stroke="#000" stroke-width="2.2"/>
<circle cx="1584.6" cy="460.3" r="6.5" fill="#fff" stroke="#000" stroke-width="2.2"/>
<circle cx="1590.6" cy="414.1" r="6.5" fill="#fff" stroke="#000" stroke-width="2.2"/>
<circle cx="1597" cy="387" r="6.5" fill="#fff" stroke="#000" stroke-width="2.2"/>
<circle cx="1608.3" cy="350.7" r="6.5" fill="#fff" stroke="#000" stroke-width="2.2"/>
<circle cx="1615.6" cy="355.9" r="6.5" fill="#fff" stroke="#000" stroke-width="2.2"/>
<circle cx="1646.7" cy="323.9" r="6.5" fill="#fff" stroke="#000" stroke-width="2.2"/>
<circle cx="1678.3" cy="322.4" r="6.5" fill="#fff" stroke="#000" stroke-width="2.2"/>
<circle cx="1740.9" cy="313.9" r="6.5" fill="#fff" stroke="#000" stroke-width="2.2"/>
<circle cx="1803.2" cy="315.4" r="6.5" fill="#fff" stroke="#000" stroke-width="2.2"/>
<circle cx="1866.1" cy="327.7" r="6.5" fill="#fff" stroke="#000" stroke-width="2.2"/>
<text transform="translate(1244.7,672.6) scale(1.13,1)" x="0" y="0" font-size="27" text-anchor="middle" stroke="#000" stroke-width="0.9" style="font-weight:bold">x</text>
<text transform="translate(1300.9,672.6) scale(1.13,1)" x="0" y="0" font-size="27" text-anchor="middle" stroke="#000" stroke-width="0.9" style="font-weight:bold">x</text>
<text transform="translate(1364,673.2) scale(1.13,1)" x="0" y="0" font-size="27" text-anchor="middle" stroke="#000" stroke-width="0.9" style="font-weight:bold">x</text>
<text transform="translate(1427.4,674.1) scale(1.13,1)" x="0" y="0" font-size="27" text-anchor="middle" stroke="#000" stroke-width="0.9" style="font-weight:bold">x</text>
<text transform="translate(1490.3,672.6) scale(1.13,1)" x="0" y="0" font-size="27" text-anchor="middle" stroke="#000" stroke-width="0.9" style="font-weight:bold">x</text>
<text transform="translate(1520.6,663.9) scale(1.13,1)" x="0" y="0" font-size="27" text-anchor="middle" stroke="#000" stroke-width="0.9" style="font-weight:bold">x</text>
<text transform="translate(1553.7,681.6) scale(1.13,1)" x="0" y="0" font-size="27" text-anchor="middle" stroke="#000" stroke-width="0.9" style="font-weight:bold">x</text>
<text transform="translate(1584.2,673) scale(1.13,1)" x="0" y="0" font-size="27" text-anchor="middle" stroke="#000" stroke-width="0.9" style="font-weight:bold">x</text>
<text transform="translate(1589.6,673) scale(1.13,1)" x="0" y="0" font-size="27" text-anchor="middle" stroke="#000" stroke-width="0.9" style="font-weight:bold">x</text>
<text transform="translate(1596,673) scale(1.13,1)" x="0" y="0" font-size="27" text-anchor="middle" stroke="#000" stroke-width="0.9" style="font-weight:bold">x</text>
<text transform="translate(1614,674.5) scale(1.13,1)" x="0" y="0" font-size="27" text-anchor="middle" stroke="#000" stroke-width="0.9" style="font-weight:bold">x</text>
<text transform="translate(1646,663.9) scale(1.13,1)" x="0" y="0" font-size="27" text-anchor="middle" stroke="#000" stroke-width="0.9" style="font-weight:bold">x</text>
<text transform="translate(1678.7,673) scale(1.13,1)" x="0" y="0" font-size="27" text-anchor="middle" stroke="#000" stroke-width="0.9" style="font-weight:bold">x</text>
<text transform="translate(1741,672) scale(1.13,1)" x="0" y="0" font-size="27" text-anchor="middle" stroke="#000" stroke-width="0.9" style="font-weight:bold">x</text>
<text transform="translate(1805,673) scale(1.13,1)" x="0" y="0" font-size="27" text-anchor="middle" stroke="#000" stroke-width="0.9" style="font-weight:bold">x</text>
<text transform="translate(1867.8,681.6) scale(1.13,1)" x="0" y="0" font-size="27" text-anchor="middle" stroke="#000" stroke-width="0.9" style="font-weight:bold">x</text>
<polygon points="1245.1,829 1253.3,837.2 1245.1,845.4 1236.9,837.2" fill="#fff" stroke="#000" stroke-width="2.2"/>
<polygon points="1301.3,829 1309.5,837.2 1301.3,845.4 1293.1,837.2" fill="#fff" stroke="#000" stroke-width="2.2"/>
<polygon points="1364,829 1372.2,837.2 1364,845.4 1355.8,837.2" fill="#fff" stroke="#000" stroke-width="2.2"/>
<polygon points="1427,828.4 1435.2,836.6 1427,844.8 1418.8,836.6" fill="#fff" stroke="#000" stroke-width="2.2"/>
<polygon points="1489.8,820.3 1498,828.5 1489.8,836.7 1481.6,828.5" fill="#fff" stroke="#000" stroke-width="2.2"/>
<polygon points="1521.4,820.3 1529.6,828.5 1521.4,836.7 1513.2,828.5" fill="#fff" stroke="#000" stroke-width="2.2"/>
<polygon points="1553.3,837.5 1561.5,845.7 1553.3,853.9 1545.1,845.7" fill="#fff" stroke="#000" stroke-width="2.2"/>
<polygon points="1584.2,828.9 1592.4,837.1 1584.2,845.3 1576,837.1" fill="#fff" stroke="#000" stroke-width="2.2"/>
<polygon points="1590.6,836.8 1598.8,845 1590.6,853.2 1582.4,845" fill="#fff" stroke="#000" stroke-width="2.2"/>
<polygon points="1596.6,846.4 1604.8,854.6 1596.6,862.8 1588.4,854.6" fill="#fff" stroke="#000" stroke-width="2.2"/>
<polygon points="1609.2,873.1 1617.4,881.3 1609.2,889.5 1601,881.3" fill="#fff" stroke="#000" stroke-width="2.2"/>
<polygon points="1616.2,863.1 1624.4,871.3 1616.2,879.5 1608,871.3" fill="#fff" stroke="#000" stroke-width="2.2"/>
<polygon points="1647.1,880.1 1655.3,888.3 1647.1,896.5 1638.9,888.3" fill="#fff" stroke="#000" stroke-width="2.2"/>
<polygon points="1678.5,887.4 1686.7,895.6 1678.5,903.8 1670.3,895.6" fill="#fff" stroke="#000" stroke-width="2.2"/>
<polygon points="1741.6,888.6 1749.8,896.8 1741.6,905 1733.4,896.8" fill="#fff" stroke="#000" stroke-width="2.2"/>
<polygon points="1804.9,877.8 1813.1,886 1804.9,894.2 1796.7,886" fill="#fff" stroke="#000" stroke-width="2.2"/>
<polygon points="1867.8,888.6 1876,896.8 1867.8,905 1859.6,896.8" fill="#fff" stroke="#000" stroke-width="2.2"/>
<rect x="1603.4" y="402.8" width="18.6" height="5.9" fill="#e8922a"/>
<rect x="1584.2" y="450.3" width="18.8" height="6.4" fill="#1a9e50"/>
<rect x="1616.8" y="496.6" width="18.8" height="6.4" fill="#27aae1"/>
<line x1="1631.6" y1="404.9" x2="1694.5" y2="404.9" stroke="#000" stroke-width="2"/>
<line x1="1611.3" y1="453.5" x2="1694.5" y2="453.5" stroke="#000" stroke-width="2"/>
<line x1="1641.8" y1="499.8" x2="1694" y2="499.8" stroke="#000" stroke-width="2"/>
<text transform="translate(1704.61,414.6) scale(1,1.04)" font-size="28.9" style="font-weight:bold" fill="#000">QQ</text>
<text transform="translate(1748.01,415.61) scale(1.2978,0.8830)" font-family="'DejaVu Sans', sans-serif" font-size="28.9" style="font-weight:bold">→</text>
<text transform="translate(1778.47,414.6) scale(1,1.04)" font-size="28.9" style="font-weight:bold" fill="#000">AA</text>
<text transform="translate(1704.97,463) scale(1,1.04)" font-size="28.9" style="font-weight:bold" fill="#000">SK</text>
<text transform="translate(1743.55,464.01) scale(1.2978,0.8830)" font-family="'DejaVu Sans', sans-serif" font-size="28.9" style="font-weight:bold">→</text>
<text transform="translate(1774.01,463) scale(1,1.04)" font-size="28.9" style="font-weight:bold" fill="#000">AA</text>
<text transform="translate(1704.51,509.4) scale(1,1.04)" font-size="28.9" style="font-weight:bold" fill="#000">YT</text>
<text transform="translate(1739.88,510.41) scale(1.2978,0.8830)" font-family="'DejaVu Sans', sans-serif" font-size="28.9" style="font-weight:bold">→</text>
<text transform="translate(1770.34,509.4) scale(1,1.04)" font-size="28.9" style="font-weight:bold" fill="#000">AA</text>
<rect x="1584.2" y="653.7" width="18.8" height="6.8" fill="#1a9e50"/>
<rect x="1603.4" y="653.7" width="18.6" height="6.8" fill="#e8922a"/>
<rect x="1616.8" y="660.5" width="18.8" height="7.5" fill="#27aae1"/>
<rect x="1584.2" y="824.3" width="18.8" height="6.9" fill="#1a9e50"/>
<rect x="1616.8" y="824.3" width="18.8" height="6.9" fill="#27aae1"/>
<rect x="1603.4" y="859.3" width="18.6" height="6.7" fill="#e8922a"/>
<polygon points="1267.4,299.11 1258.4,314.7 1276.4,314.7" fill="#fff" stroke="#000" stroke-width="2.2" stroke-linejoin="miter"/>
<text transform="translate(1292.8,315.2) scale(1,1.04)" font-size="31.4" style="font-weight:bold;white-space:pre" fill="#000">Pr </text>
<text transform="translate(1332.27,317.07) scale(1.3525,0.9713)" font-family="'DejaVu Sans', sans-serif" font-size="31.4" style="font-weight:bold">→</text>
<text transform="translate(1365.77,315.2) scale(1,1.04)" font-size="31.4" style="font-weight:bold;white-space:pre" fill="#000"> Pfr photo</text>
<rect x="1259.95" y="341.75" width="15.5" height="15.5" fill="#fff" stroke="#000" stroke-width="2.2"/>
<text transform="translate(1292.8,357) scale(1,1.04)" font-size="31.4" style="font-weight:bold;white-space:pre" fill="#000">Pfr </text>
<text transform="translate(1342.72,358.87) scale(1.3525,0.9713)" font-family="'DejaVu Sans', sans-serif" font-size="31.4" style="font-weight:bold">→</text>
<text transform="translate(1376.23,357) scale(1,1.04)" font-size="31.4" style="font-weight:bold;white-space:pre" fill="#000"> Pr photo</text>
<circle cx="1267.3" cy="391.3" r="9" fill="#fff" stroke="#000" stroke-width="2.2"/>
<text transform="translate(1292.8,399.5) scale(1,1.04)" font-size="31.4" style="font-weight:bold;white-space:pre" fill="#000">Pfr </text>
<text transform="translate(1342.72,401.37) scale(1.3525,0.9713)" font-family="'DejaVu Sans', sans-serif" font-size="31.4" style="font-weight:bold">→</text>
<text transform="translate(1376.23,399.5) scale(1,1.04)" font-size="31.4" style="font-weight:bold;white-space:pre" fill="#000"> Pr thermal</text>
<text transform="translate(1265.3,624.1) scale(1.1,1)" font-size="32" text-anchor="middle" stroke="#000" stroke-width="0.9" style="font-weight:bold">x</text>
<text transform="translate(1292.5,624.7) scale(1,1.04)" font-size="31.4" style="font-weight:bold" fill="#000">Pr maximum</text>
<polygon points="1266.4,891.5 1276.4,901.5 1266.4,911.5 1256.4,901.5" fill="#fff" stroke="#000" stroke-width="2.2"/>
<text transform="translate(1292.5,913) scale(1,1.04)" font-size="31.4" style="font-weight:bold" fill="#000">Pfr maximum</text>
<text transform="translate(260.95,1095.5) scale(1,1.04)" font-size="55" style="font-weight:bold" fill="#000">c</text>
<rect x="474.2" y="1137.8" width="17.28" height="25.05" fill="#000"/>
<rect x="508.76" y="1137.8" width="34.56" height="25.05" fill="#000"/>
<rect x="1597.4" y="1137.8" width="17.28" height="25.05" fill="#d4d4d4"/>
<rect x="474.2" y="1162.45" width="17.28" height="25.05" fill="#000"/>
<rect x="508.76" y="1162.45" width="34.56" height="25.05" fill="#000"/>
<rect x="474.2" y="1187.1" width="69.12" height="25.05" fill="#000"/>
<rect x="474.2" y="1211.75" width="51.84" height="25.05" fill="#000"/>
<rect x="1597.4" y="1211.75" width="17.28" height="25.05" fill="#d4d4d4"/>
<rect x="474.2" y="1236.4" width="51.84" height="25.05" fill="#000"/>
<rect x="474.2" y="1261.05" width="51.84" height="25.05" fill="#000"/>
<rect x="474.2" y="1285.7" width="69.12" height="25.05" fill="#000"/>
<rect x="1597.4" y="1285.7" width="17.28" height="25.05" fill="#d4d4d4"/>
<rect x="474.2" y="1310.35" width="69.12" height="25.05" fill="#000"/>
<rect x="1597.4" y="1310.35" width="17.28" height="25.05" fill="#d4d4d4"/>
<rect x="474.2" y="1335" width="69.12" height="25.05" fill="#000"/>
<rect x="474.2" y="1359.65" width="69.12" height="25.05" fill="#000"/>
<rect x="1597.4" y="1359.65" width="17.28" height="25.05" fill="#d4d4d4"/>
<rect x="474.2" y="1433.6" width="17.28" height="25.05" fill="#000"/>
<rect x="508.76" y="1433.6" width="34.56" height="25.05" fill="#000"/>
<rect x="871.64" y="1433.6" width="17.28" height="25.05" fill="#d4d4d4"/>
<rect x="1597.4" y="1433.6" width="17.28" height="25.05" fill="#d4d4d4"/>
<rect x="1597.4" y="1482.9" width="17.28" height="25.05" fill="#d4d4d4"/>
<rect x="1597.4" y="1507.55" width="17.28" height="25.05" fill="#d4d4d4"/>
<path d="M491.48 1187.1V1384.3M508.76 1187.1V1384.3M526.04 1137.8V1211.75M526.04 1285.7V1384.3M526.04 1433.6V1458.25M474.2 1162.45H491.48M508.76 1162.45H543.32M474.2 1187.1H491.48M508.76 1187.1H543.32M474.2 1211.75H526.04M474.2 1236.4H526.04M474.2 1261.05H526.04M474.2 1285.7H526.04M474.2 1310.35H543.32M474.2 1335H543.32M474.2 1359.65H543.32" fill="none" stroke="#262626" stroke-width="1"/>
<text transform="translate(0,1156) scale(1.2700,1)" font-family="'Liberation Mono', 'Courier New', monospace" font-size="20" style="font-weight:bold"><tspan x="374.19" fill="#fff">M</tspan><tspan x="387.80">V</tspan><tspan x="401.40 415.01" fill="#fff">SG</tspan><tspan x="426.81 440.42 454.03 467.63 481.24 494.85 508.45" font-size="26">-------</tspan><tspan x="523.86 537.46 551.07 564.68 578.28 591.89 605.50 619.10 632.71 646.31 659.92 673.53 687.13 700.74 714.35 727.95 741.56 755.17 768.77 782.38 795.98 809.59 823.20 836.80 850.41 864.02 877.62 891.23 904.83 918.44 932.05 945.65 959.26 972.87 986.47 1000.08">VGGSGGGRGGGRGGEEEPSSSHTPNNRRGGEQAQSS</tspan><tspan x="1011.89 1025.49 1039.10 1052.70 1066.31 1079.92 1093.52" font-size="26">-------</tspan><tspan x="1108.93 1122.54 1136.14 1149.75 1163.35 1176.96 1190.57 1204.17 1217.78 1231.39">GTKSLRPRSN</tspan><tspan x="1243.19" font-size="26">-</tspan><tspan x="1258.60">T</tspan></text>
<text transform="translate(0,1180.65) scale(1.2700,1)" font-family="'Liberation Mono', 'Courier New', monospace" font-size="20" style="font-weight:bold"><tspan x="374.19" fill="#fff">M</tspan><tspan x="387.80">V</tspan><tspan x="401.40 415.01" fill="#fff">SG</tspan><tspan x="426.81 440.42 454.03 467.63 481.24 494.85 508.45" font-size="26">-------</tspan><tspan x="523.86 537.46 551.07">VGG</tspan><tspan x="562.88 576.48 590.09 603.70 617.30 630.91" font-size="26">------</tspan><tspan x="646.31 659.92 673.53 687.13 700.74 714.35 727.95 741.56 755.17 768.77 782.38 795.98 809.59 823.20 836.80 850.41 864.02 877.62 891.23 904.83 918.44 932.05 945.65 959.26 972.87 986.47 1000.08">SGRGGEAEPSSSHTTNNRRGGEQAQSS</tspan><tspan x="1011.89 1025.49 1039.10 1052.70 1066.31 1079.92 1093.52" font-size="26">-------</tspan><tspan x="1108.93 1122.54 1136.14 1149.75 1163.35 1176.96 1190.57 1204.17">GTKSLRPR</tspan><tspan x="1215.98 1229.59 1243.19 1256.80" font-size="26">----</tspan></text>
<text transform="translate(0,1205.3) scale(1.2700,1)" font-family="'Liberation Mono', 'Courier New', monospace" font-size="20" style="font-weight:bold"><tspan x="374.19 387.80 401.40 415.01" fill="#fff">MASG</tspan><tspan x="426.81 440.42 454.03 467.63 481.24 494.85 508.45 522.06 535.66 549.27 562.88 576.48 590.09" font-size="26">-------------</tspan><tspan x="605.50 619.10 632.71 646.31 659.92 673.53 687.13 700.74 714.35 727.95 741.56 755.17 768.77 782.38 795.98 809.59 823.20 836.80 850.41 864.02">GSGGGRVGEGAASSSRTTNN</tspan><tspan x="875.82" font-size="26">-</tspan><tspan x="891.23 904.83 918.44 932.05 945.65 959.26 972.87 986.47 1000.08">RRGEQAQSS</tspan><tspan x="1011.89 1025.49 1039.10 1052.70 1066.31 1079.92 1093.52" font-size="26">-------</tspan><tspan x="1108.93 1122.54 1136.14 1149.75 1163.35 1176.96 1190.57 1204.17">GTKSLRPQ</tspan><tspan x="1215.98 1229.59 1243.19 1256.80" font-size="26">----</tspan></text>
<text transform="translate(0,1229.95) scale(1.2700,1)" font-family="'Liberation Mono', 'Courier New', monospace" font-size="20" style="font-weight:bold"><tspan x="374.19 387.80 401.40" fill="#fff">MAS</tspan><tspan x="413.21 426.81 440.42 454.03 467.63 481.24 494.85 508.45 522.06 535.66 549.27 562.88 576.48 590.09 603.70 617.30 630.91 644.51 658.12 671.73 685.33 698.94 712.55 726.15 739.76" font-size="26">-------------------------</tspan><tspan x="755.17 768.77 782.38 795.98 809.59 823.20 836.80 850.41 864.02 877.62 891.23 904.83 918.44 932.05 945.65 959.26 972.87 986.47 1000.08">QSQRQSNQRQHQNQAAQSS</tspan><tspan x="1011.89 1025.49 1039.10 1052.70 1066.31 1079.92 1093.52" font-size="26">-------</tspan><tspan x="1108.93 1122.54 1136.14 1149.75 1163.35 1176.96 1190.57 1204.17 1217.78 1231.39 1244.99 1258.60">GTSNMRQHHHAT</tspan></text>
<text transform="translate(0,1254.6) scale(1.2700,1)" font-family="'Liberation Mono', 'Courier New', monospace" font-size="20" style="font-weight:bold"><tspan x="374.19 387.80 401.40" fill="#fff">MAS</tspan><tspan x="413.21 426.81 440.42 454.03 467.63 481.24 494.85 508.45 522.06 535.66 549.27 562.88 576.48 590.09 603.70 617.30 630.91 644.51 658.12 671.73 685.33 698.94 712.55 726.15 739.76" font-size="26">-------------------------</tspan><tspan x="755.17 768.77 782.38 795.98 809.59 823.20 836.80 850.41 864.02 877.62 891.23 904.83 918.44 932.05 945.65 959.26 972.87 986.47 1000.08 1013.69 1027.29 1040.90 1054.50 1068.11 1081.72 1095.32 1108.93 1122.54 1136.14 1149.75 1163.35 1176.96 1190.57 1204.17 1217.78 1231.39 1244.99 1258.60">TSRGEKTEPNTSSSSSQRRHQLQITTTKEPEQQNNNNN</tspan></text>
<text transform="translate(0,1279.25) scale(1.2700,1)" font-family="'Liberation Mono', 'Courier New', monospace" font-size="20" style="font-weight:bold"><tspan x="374.19 387.80 401.40" fill="#fff">MAS</tspan><tspan x="413.21 426.81 440.42 454.03 467.63 481.24 494.85 508.45 522.06 535.66 549.27 562.88 576.48 590.09 603.70 617.30 630.91 644.51 658.12 671.73 685.33 698.94 712.55 726.15 739.76 753.37 766.97 780.58 794.18 807.79 821.40" font-size="26">-------------------------------</tspan><tspan x="836.80 850.41 864.02 877.62 891.23 904.83 918.44 932.05 945.65 959.26 972.87 986.47 1000.08 1013.69 1027.29 1040.90 1054.50 1068.11 1081.72 1095.32 1108.93 1122.54 1136.14 1149.75 1163.35 1176.96 1190.57 1204.17 1217.78 1231.39 1244.99 1258.60">ASGAANSSVPPPQIHTSRTKLSHHSSNNNNNI</tspan></text>
<text transform="translate(0,1303.9) scale(1.2700,1)" font-family="'Liberation Mono', 'Courier New', monospace" font-size="20" style="font-weight:bold"><tspan x="374.19 387.80 401.40 415.01" fill="#fff">MASG</tspan><tspan x="428.61 442.22 455.83 469.43">SRAT</tspan><tspan x="481.24 494.85" font-size="26">--</tspan><tspan x="510.25 523.86 537.46 551.07 564.68 578.28 591.89 605.50 619.10 632.71 646.31 659.92 673.53 687.13 700.74 714.35 727.95 741.56 755.17 768.77 782.38 795.98 809.59 823.20 836.80 850.41 864.02 877.62 891.23 904.83 918.44 932.05 945.65 959.26 972.87 986.47 1000.08 1013.69 1027.29 1040.90 1054.50 1068.11 1081.72 1095.32 1108.93 1122.54 1136.14 1149.75 1163.35 1176.96 1190.57 1204.17 1217.78 1231.39 1244.99 1258.60">PTRSPSSARPEAPRHAHHHHHHHSQSSGGSTSRAGGGGGGGGGGGGTAATATATAT</tspan></text>
<text transform="translate(0,1328.55) scale(1.2700,1)" font-family="'Liberation Mono', 'Courier New', monospace" font-size="20" style="font-weight:bold"><tspan x="374.19 387.80 401.40 415.01" fill="#fff">MASG</tspan><tspan x="428.61 442.22 455.83 469.43">SRAT</tspan><tspan x="481.24 494.85" font-size="26">--</tspan><tspan x="510.25 523.86 537.46 551.07 564.68 578.28 591.89 605.50 619.10 632.71 646.31 659.92 673.53 687.13 700.74 714.35 727.95 741.56">PTRSPSSARPEAPRHAHH</tspan><tspan x="753.37 766.97" font-size="26">--</tspan><tspan x="782.38 795.98 809.59 823.20 836.80 850.41 864.02 877.62 891.23 904.83 918.44 932.05 945.65 959.26 972.87 986.47 1000.08 1013.69">HHHSQSSGGSTSRAGGGA</tspan><tspan x="1025.49 1039.10 1052.70 1066.31 1079.92 1093.52 1107.13 1120.74 1134.34 1147.95 1161.55 1175.16 1188.77 1202.37 1215.98" font-size="26">---------------</tspan><tspan x="1231.39 1244.99 1258.60">AAT</tspan></text>
<text transform="translate(0,1353.2) scale(1.2700,1)" font-family="'Liberation Mono', 'Courier New', monospace" font-size="20" style="font-weight:bold"><tspan x="374.19 387.80 401.40 415.01" fill="#fff">MASG</tspan><tspan x="428.61 442.22 455.83 469.43">SRAT</tspan><tspan x="481.24 494.85" font-size="26">--</tspan><tspan x="510.25 523.86 537.46 551.07 564.68 578.28 591.89 605.50 619.10 632.71 646.31 659.92 673.53 687.13 700.74 714.35">PTRSPSSARPAAPRHQ</tspan><tspan x="726.15 739.76 753.37 766.97" font-size="26">----</tspan><tspan x="782.38 795.98 809.59 823.20 836.80 850.41 864.02 877.62 891.23 904.83 918.44 932.05 945.65 959.26 972.87 986.47 1000.08 1013.69 1027.29 1040.90 1054.50 1068.11 1081.72 1095.32 1108.93 1122.54 1136.14 1149.75 1163.35">HHHSQSSGGSTSRAGGGGGGGGGGGGGAA</tspan><tspan x="1175.16 1188.77 1202.37 1215.98 1229.59" font-size="26">-----</tspan><tspan x="1244.99 1258.60">AA</tspan></text>
<text transform="translate(0,1377.85) scale(1.2700,1)" font-family="'Liberation Mono', 'Courier New', monospace" font-size="20" style="font-weight:bold"><tspan x="374.19 387.80 401.40 415.01" fill="#fff">MASG</tspan><tspan x="428.61 442.22 455.83 469.43 483.04 496.65 510.25 523.86 537.46 551.07 564.68 578.28 591.89 605.50 619.10 632.71 646.31 659.92 673.53 687.13">SRATPTPTRSPSSARPSAPH</tspan><tspan x="698.94 712.55 726.15 739.76 753.37 766.97" font-size="26">------</tspan><tspan x="782.38 795.98 809.59 823.20 836.80 850.41 864.02 877.62 891.23 904.83 918.44 932.05 945.65 959.26 972.87 986.47 1000.08 1013.69 1027.29 1040.90">QHHTQSSGGSTSRAGGGGGG</tspan><tspan x="1052.70 1066.31 1079.92" font-size="26">---</tspan><tspan x="1095.32 1108.93 1122.54 1136.14 1149.75 1163.35">AAGSAA</tspan><tspan x="1175.16 1188.77 1202.37 1215.98 1229.59" font-size="26">-----</tspan><tspan x="1244.99 1258.60">AT</tspan></text>
<text transform="translate(0,1402.5) scale(1.2700,1)" font-family="'Liberation Mono', 'Courier New', monospace" font-size="20" style="font-weight:bold"><tspan x="1068.11 1081.72 1095.32 1108.93 1122.54 1136.14 1149.75 1163.35 1176.96 1190.57 1204.17 1217.78 1231.39 1244.99 1258.60">MSTTKLAYSSGSSVK</tspan></text>
<text transform="translate(0,1427.15) scale(1.2700,1)" font-family="'Liberation Mono', 'Courier New', monospace" font-size="20" style="font-weight:bold"><tspan x="1068.11 1081.72 1095.32 1108.93 1122.54 1136.14 1149.75 1163.35 1176.96 1190.57 1204.17 1217.78 1231.39 1244.99 1258.60">MSTTKLTYSSGSSAK</tspan></text>
<text transform="translate(0,1451.8) scale(1.2700,1)" font-family="'Liberation Mono', 'Courier New', monospace" font-size="20" style="font-weight:bold"><tspan x="374.19" fill="#fff">M</tspan><tspan x="387.80">V</tspan><tspan x="401.40 415.01" fill="#fff">SG</tspan><tspan x="426.81 440.42 454.03 467.63 481.24 494.85 508.45 522.06 535.66 549.27 562.88 576.48 590.09" font-size="26">-------------</tspan><tspan x="605.50 619.10 632.71 646.31 659.92 673.53 687.13 700.74 714.35 727.95 741.56 755.17 768.77 782.38 795.98 809.59 823.20 836.80 850.41 864.02 877.62 891.23 904.83 918.44 932.05 945.65 959.26 972.87 986.47 1000.08 1013.69 1027.29 1040.90 1054.50 1068.11 1081.72 1095.32 1108.93 1122.54 1136.14 1149.75 1163.35 1176.96 1190.57 1204.17 1217.78 1231.39 1244.99 1258.60">GGSKTSGGEAASSGHRRSRHTSAAEQAQSSANKALRSQNQQPQNHGGGT</tspan></text>
<text transform="translate(0,1476.45) scale(1.2700,1)" font-family="'Liberation Mono', 'Courier New', monospace" font-size="20" style="font-weight:bold"><tspan x="1068.11 1081.72 1095.32 1108.93 1122.54 1136.14 1149.75 1163.35 1176.96 1190.57 1204.17 1217.78 1231.39 1244.99 1258.60">MGFESSSSAASNMKP</tspan></text>
<text transform="translate(0,1501.1) scale(1.2700,1)" font-family="'Liberation Mono', 'Courier New', monospace" font-size="20" style="font-weight:bold"><tspan x="1054.50 1068.11 1081.72 1095.32 1108.93 1122.54 1136.14 1149.75 1163.35 1176.96 1190.57 1204.17 1217.78 1231.39 1244.99 1258.60">MSGSRPTQSSEGSRRS</tspan></text>
<text transform="translate(0,1525.75) scale(1.2700,1)" font-family="'Liberation Mono', 'Courier New', monospace" font-size="20" style="font-weight:bold"><tspan x="1095.32 1108.93 1122.54 1136.14 1149.75 1163.35 1176.96 1190.57 1204.17 1217.78 1231.39 1244.99 1258.60">MSSNTSRSCSTRS</tspan></text>
<text transform="translate(445.3,1157.5) scale(1,1.04)" font-size="23" text-anchor="end" style="font-weight:bold"><tspan style="font-style:italic">At</tspan> PhyB</text>
<text transform="translate(445.3,1182.15) scale(1,1.04)" font-size="23" text-anchor="end" style="font-weight:bold"><tspan style="font-style:italic">Al</tspan> PhyB</text>
<text transform="translate(445.3,1206.8) scale(1,1.04)" font-size="23" text-anchor="end" style="font-weight:bold"><tspan style="font-style:italic">Cr</tspan> PhyB</text>
<text transform="translate(445.3,1231.45) scale(1,1.04)" font-size="23" text-anchor="end" style="font-weight:bold"><tspan style="font-style:italic">Pt</tspan> PhyB</text>
<text transform="translate(445.3,1256.1) scale(1,1.04)" font-size="23" text-anchor="end" style="font-weight:bold"><tspan style="font-style:italic">Mt</tspan> PhyB</text>
<text transform="translate(445.3,1280.75) scale(1,1.04)" font-size="23" text-anchor="end" style="font-weight:bold"><tspan style="font-style:italic">Gm</tspan> PhyB</text>
<text transform="translate(445.3,1305.4) scale(1,1.04)" font-size="23" text-anchor="end" style="font-weight:bold"><tspan style="font-style:italic">Sb</tspan> PhyB</text>
<text transform="translate(445.3,1330.05) scale(1,1.04)" font-size="23" text-anchor="end" style="font-weight:bold"><tspan style="font-style:italic">Zm</tspan> PhyB</text>
<text transform="translate(445.3,1354.7) scale(1,1.04)" font-size="23" text-anchor="end" style="font-weight:bold"><tspan style="font-style:italic">Os</tspan> PhyB</text>
<text transform="translate(445.3,1379.35) scale(1,1.04)" font-size="23" text-anchor="end" style="font-weight:bold"><tspan style="font-style:italic">Hv</tspan> PhyB</text>
<text transform="translate(445.3,1404) scale(1,1.04)" font-size="23" text-anchor="end" style="font-weight:bold"><tspan style="font-style:italic">Sm</tspan> Phy1</text>
<text transform="translate(445.3,1428.65) scale(1,1.04)" font-size="23" text-anchor="end" style="font-weight:bold"><tspan style="font-style:italic">Pp</tspan> Phy1</text>
<text transform="translate(445.3,1453.3) scale(1,1.04)" font-size="23" text-anchor="end" style="font-weight:bold"><tspan style="font-style:italic">At</tspan> PhyD</text>
<text transform="translate(445.3,1477.95) scale(1,1.04)" font-size="23" text-anchor="end" style="font-weight:bold"><tspan style="font-style:italic">At</tspan> PhyE</text>
<text transform="translate(445.3,1502.6) scale(1,1.04)" font-size="23" text-anchor="end" style="font-weight:bold"><tspan style="font-style:italic">At</tspan> PhyA</text>
<text transform="translate(445.3,1527.25) scale(1,1.04)" font-size="23" text-anchor="end" style="font-weight:bold"><tspan style="font-style:italic">At</tspan> PhyC</text>
<polyline points="337.3,1141.8 325.3,1141.8 325.3,1385.6 337.3,1385.6" fill="none" stroke="#000" stroke-width="2"/>
<text transform="translate(475.6,1117.8) scale(1,1.04)" font-size="24.5" style="font-weight:bold" fill="#000">1</text>
<line x1="482.84" y1="1122.5" x2="482.84" y2="1133.3" stroke="#000" stroke-width="1.6"/>
<text transform="translate(745.43,1115.4) scale(1,1.04)" font-size="24.5" style="font-weight:bold" fill="#000">10</text>
<line x1="759.32" y1="1122.5" x2="759.32" y2="1133.3" stroke="#000" stroke-width="1.6"/>
<text transform="translate(918.57,1120) scale(1,1.04)" font-size="24.5" style="font-weight:bold" fill="#000">20</text>
<line x1="932.12" y1="1125.6" x2="932.12" y2="1135.8" stroke="#000" stroke-width="1.6"/>
<text transform="translate(1091.52,1120) scale(1,1.04)" font-size="24.5" style="font-weight:bold" fill="#000">30</text>
<line x1="1104.92" y1="1125.6" x2="1104.92" y2="1135.8" stroke="#000" stroke-width="1.6"/>
<text transform="translate(1264.41,1120) scale(1,1.04)" font-size="24.5" style="font-weight:bold" fill="#000">40</text>
<line x1="1277.72" y1="1125.6" x2="1277.72" y2="1135.8" stroke="#000" stroke-width="1.6"/>
<text transform="translate(1557.98,1120) scale(1,1.04)" font-size="24.5" style="font-weight:bold" fill="#000">50</text>
<line x1="1571.48" y1="1125.6" x2="1571.48" y2="1135.8" stroke="#000" stroke-width="1.6"/>
<rect x="472.1" y="1595.3" width="34.6" height="25.05" fill="#000"/>
<rect x="506.7" y="1595.3" width="17.3" height="25.05" fill="#d4d4d4"/>
<rect x="524" y="1595.3" width="69.2" height="25.05" fill="#000"/>
<rect x="610.5" y="1595.3" width="276.8" height="25.05" fill="#000"/>
<rect x="904.6" y="1595.3" width="34.6" height="25.05" fill="#000"/>
<rect x="939.2" y="1595.3" width="17.3" height="25.05" fill="#d4d4d4"/>
<rect x="956.5" y="1595.3" width="138.4" height="25.05" fill="#000"/>
<rect x="1094.9" y="1595.3" width="17.3" height="25.05" fill="#d4d4d4"/>
<rect x="1129.5" y="1595.3" width="17.3" height="25.05" fill="#d4d4d4"/>
<rect x="1285.2" y="1595.3" width="311.4" height="25.05" fill="#000"/>
<rect x="472.1" y="1619.95" width="34.6" height="25.05" fill="#000"/>
<rect x="506.7" y="1619.95" width="17.3" height="25.05" fill="#d4d4d4"/>
<rect x="524" y="1619.95" width="69.2" height="25.05" fill="#000"/>
<rect x="610.5" y="1619.95" width="276.8" height="25.05" fill="#000"/>
<rect x="904.6" y="1619.95" width="34.6" height="25.05" fill="#000"/>
<rect x="939.2" y="1619.95" width="17.3" height="25.05" fill="#d4d4d4"/>
<rect x="956.5" y="1619.95" width="138.4" height="25.05" fill="#000"/>
<rect x="1094.9" y="1619.95" width="17.3" height="25.05" fill="#d4d4d4"/>
<rect x="1129.5" y="1619.95" width="17.3" height="25.05" fill="#d4d4d4"/>
<rect x="1285.2" y="1619.95" width="311.4" height="25.05" fill="#000"/>
<rect x="472.1" y="1644.6" width="34.6" height="25.05" fill="#000"/>
<rect x="506.7" y="1644.6" width="17.3" height="25.05" fill="#d4d4d4"/>
<rect x="524" y="1644.6" width="69.2" height="25.05" fill="#000"/>
<rect x="610.5" y="1644.6" width="276.8" height="25.05" fill="#000"/>
<rect x="904.6" y="1644.6" width="34.6" height="25.05" fill="#000"/>
<rect x="939.2" y="1644.6" width="17.3" height="25.05" fill="#d4d4d4"/>
<rect x="956.5" y="1644.6" width="138.4" height="25.05" fill="#000"/>
<rect x="1094.9" y="1644.6" width="17.3" height="25.05" fill="#d4d4d4"/>
<rect x="1129.5" y="1644.6" width="17.3" height="25.05" fill="#d4d4d4"/>
<rect x="1285.2" y="1644.6" width="311.4" height="25.05" fill="#000"/>
<rect x="472.1" y="1669.25" width="34.6" height="25.05" fill="#000"/>
<rect x="506.7" y="1669.25" width="17.3" height="25.05" fill="#d4d4d4"/>
<rect x="524" y="1669.25" width="190.3" height="25.05" fill="#000"/>
<rect x="731.6" y="1669.25" width="155.7" height="25.05" fill="#000"/>
<rect x="904.6" y="1669.25" width="34.6" height="25.05" fill="#000"/>
<rect x="939.2" y="1669.25" width="17.3" height="25.05" fill="#d4d4d4"/>
<rect x="956.5" y="1669.25" width="121.1" height="25.05" fill="#000"/>
<rect x="1077.6" y="1669.25" width="34.6" height="25.05" fill="#d4d4d4"/>
<rect x="1129.5" y="1669.25" width="17.3" height="25.05" fill="#d4d4d4"/>
<rect x="1285.2" y="1669.25" width="69.2" height="25.05" fill="#000"/>
<rect x="1371.7" y="1669.25" width="121.1" height="25.05" fill="#000"/>
<rect x="1492.8" y="1669.25" width="17.3" height="25.05" fill="#d4d4d4"/>
<rect x="1510.1" y="1669.25" width="86.5" height="25.05" fill="#000"/>
<rect x="489.4" y="1693.9" width="17.3" height="25.05" fill="#000"/>
<rect x="506.7" y="1693.9" width="17.3" height="25.05" fill="#d4d4d4"/>
<rect x="541.3" y="1693.9" width="121.1" height="25.05" fill="#000"/>
<rect x="679.7" y="1693.9" width="207.6" height="25.05" fill="#000"/>
<rect x="939.2" y="1693.9" width="17.3" height="25.05" fill="#d4d4d4"/>
<rect x="956.5" y="1693.9" width="121.1" height="25.05" fill="#000"/>
<rect x="1077.6" y="1693.9" width="34.6" height="25.05" fill="#d4d4d4"/>
<rect x="1129.5" y="1693.9" width="17.3" height="25.05" fill="#d4d4d4"/>
<rect x="1285.2" y="1693.9" width="190.3" height="25.05" fill="#000"/>
<rect x="1492.8" y="1693.9" width="17.3" height="25.05" fill="#d4d4d4"/>
<rect x="1510.1" y="1693.9" width="86.5" height="25.05" fill="#000"/>
<rect x="472.1" y="1718.55" width="17.3" height="25.05" fill="#d4d4d4"/>
<rect x="489.4" y="1718.55" width="17.3" height="25.05" fill="#000"/>
<rect x="506.7" y="1718.55" width="17.3" height="25.05" fill="#d4d4d4"/>
<rect x="524" y="1718.55" width="138.4" height="25.05" fill="#000"/>
<rect x="679.7" y="1718.55" width="207.6" height="25.05" fill="#000"/>
<rect x="904.6" y="1718.55" width="34.6" height="25.05" fill="#000"/>
<rect x="939.2" y="1718.55" width="17.3" height="25.05" fill="#d4d4d4"/>
<rect x="956.5" y="1718.55" width="34.6" height="25.05" fill="#000"/>
<rect x="1008.4" y="1718.55" width="34.6" height="25.05" fill="#000"/>
<rect x="1060.3" y="1718.55" width="17.3" height="25.05" fill="#000"/>
<rect x="1077.6" y="1718.55" width="34.6" height="25.05" fill="#d4d4d4"/>
<rect x="1285.2" y="1718.55" width="190.3" height="25.05" fill="#000"/>
<rect x="1492.8" y="1718.55" width="17.3" height="25.05" fill="#d4d4d4"/>
<rect x="1510.1" y="1718.55" width="86.5" height="25.05" fill="#000"/>
<rect x="472.1" y="1743.2" width="34.6" height="25.05" fill="#000"/>
<rect x="506.7" y="1743.2" width="17.3" height="25.05" fill="#d4d4d4"/>
<rect x="524" y="1743.2" width="51.9" height="25.05" fill="#000"/>
<rect x="575.9" y="1743.2" width="17.3" height="25.05" fill="#d4d4d4"/>
<rect x="593.2" y="1743.2" width="69.2" height="25.05" fill="#000"/>
<rect x="662.4" y="1743.2" width="17.3" height="25.05" fill="#d4d4d4"/>
<rect x="679.7" y="1743.2" width="207.6" height="25.05" fill="#000"/>
<rect x="904.6" y="1743.2" width="34.6" height="25.05" fill="#000"/>
<rect x="939.2" y="1743.2" width="17.3" height="25.05" fill="#d4d4d4"/>
<rect x="956.5" y="1743.2" width="138.4" height="25.05" fill="#000"/>
<rect x="1094.9" y="1743.2" width="17.3" height="25.05" fill="#d4d4d4"/>
<rect x="1337.1" y="1743.2" width="69.2" height="25.05" fill="#000"/>
<rect x="1423.6" y="1743.2" width="173" height="25.05" fill="#000"/>
<rect x="472.1" y="1767.85" width="34.6" height="25.05" fill="#000"/>
<rect x="506.7" y="1767.85" width="17.3" height="25.05" fill="#d4d4d4"/>
<rect x="524" y="1767.85" width="51.9" height="25.05" fill="#000"/>
<rect x="575.9" y="1767.85" width="17.3" height="25.05" fill="#d4d4d4"/>
<rect x="593.2" y="1767.85" width="69.2" height="25.05" fill="#000"/>
<rect x="662.4" y="1767.85" width="17.3" height="25.05" fill="#d4d4d4"/>
<rect x="679.7" y="1767.85" width="207.6" height="25.05" fill="#000"/>
<rect x="904.6" y="1767.85" width="34.6" height="25.05" fill="#000"/>
<rect x="939.2" y="1767.85" width="17.3" height="25.05" fill="#d4d4d4"/>
<rect x="956.5" y="1767.85" width="138.4" height="25.05" fill="#000"/>
<rect x="1094.9" y="1767.85" width="17.3" height="25.05" fill="#d4d4d4"/>
<rect x="1337.1" y="1767.85" width="69.2" height="25.05" fill="#000"/>
<rect x="1423.6" y="1767.85" width="173" height="25.05" fill="#000"/>
<rect x="472.1" y="1792.5" width="34.6" height="25.05" fill="#000"/>
<rect x="506.7" y="1792.5" width="17.3" height="25.05" fill="#d4d4d4"/>
<rect x="524" y="1792.5" width="51.9" height="25.05" fill="#000"/>
<rect x="575.9" y="1792.5" width="17.3" height="25.05" fill="#d4d4d4"/>
<rect x="593.2" y="1792.5" width="69.2" height="25.05" fill="#000"/>
<rect x="662.4" y="1792.5" width="17.3" height="25.05" fill="#d4d4d4"/>
<rect x="679.7" y="1792.5" width="207.6" height="25.05" fill="#000"/>
<rect x="904.6" y="1792.5" width="34.6" height="25.05" fill="#000"/>
<rect x="939.2" y="1792.5" width="17.3" height="25.05" fill="#d4d4d4"/>
<rect x="956.5" y="1792.5" width="69.2" height="25.05" fill="#000"/>
<rect x="1025.7" y="1792.5" width="17.3" height="25.05" fill="#d4d4d4"/>
<rect x="1043" y="1792.5" width="51.9" height="25.05" fill="#000"/>
<rect x="1094.9" y="1792.5" width="17.3" height="25.05" fill="#d4d4d4"/>
<rect x="1129.5" y="1792.5" width="17.3" height="25.05" fill="#d4d4d4"/>
<rect x="1337.1" y="1792.5" width="69.2" height="25.05" fill="#000"/>
<rect x="1423.6" y="1792.5" width="173" height="25.05" fill="#000"/>
<rect x="472.1" y="1817.15" width="34.6" height="25.05" fill="#000"/>
<rect x="506.7" y="1817.15" width="17.3" height="25.05" fill="#d4d4d4"/>
<rect x="524" y="1817.15" width="51.9" height="25.05" fill="#000"/>
<rect x="575.9" y="1817.15" width="17.3" height="25.05" fill="#d4d4d4"/>
<rect x="593.2" y="1817.15" width="69.2" height="25.05" fill="#000"/>
<rect x="662.4" y="1817.15" width="17.3" height="25.05" fill="#d4d4d4"/>
<rect x="679.7" y="1817.15" width="34.6" height="25.05" fill="#000"/>
<rect x="731.6" y="1817.15" width="155.7" height="25.05" fill="#000"/>
<rect x="904.6" y="1817.15" width="34.6" height="25.05" fill="#000"/>
<rect x="939.2" y="1817.15" width="17.3" height="25.05" fill="#d4d4d4"/>
<rect x="956.5" y="1817.15" width="138.4" height="25.05" fill="#000"/>
<rect x="1337.1" y="1817.15" width="69.2" height="25.05" fill="#000"/>
<rect x="1423.6" y="1817.15" width="173" height="25.05" fill="#000"/>
<rect x="524" y="1841.8" width="17.3" height="25.05" fill="#000"/>
<rect x="575.9" y="1841.8" width="17.3" height="25.05" fill="#d4d4d4"/>
<rect x="593.2" y="1841.8" width="34.6" height="25.05" fill="#000"/>
<rect x="645.1" y="1841.8" width="17.3" height="25.05" fill="#000"/>
<rect x="679.7" y="1841.8" width="34.6" height="25.05" fill="#000"/>
<rect x="714.3" y="1841.8" width="17.3" height="25.05" fill="#d4d4d4"/>
<rect x="731.6" y="1841.8" width="17.3" height="25.05" fill="#000"/>
<rect x="766.2" y="1841.8" width="34.6" height="25.05" fill="#000"/>
<rect x="800.8" y="1841.8" width="17.3" height="25.05" fill="#d4d4d4"/>
<rect x="818.1" y="1841.8" width="17.3" height="25.05" fill="#000"/>
<rect x="852.7" y="1841.8" width="34.6" height="25.05" fill="#000"/>
<rect x="904.6" y="1841.8" width="34.6" height="25.05" fill="#000"/>
<rect x="956.5" y="1841.8" width="86.5" height="25.05" fill="#000"/>
<rect x="1060.3" y="1841.8" width="17.3" height="25.05" fill="#000"/>
<rect x="1077.6" y="1841.8" width="34.6" height="25.05" fill="#d4d4d4"/>
<rect x="1129.5" y="1841.8" width="17.3" height="25.05" fill="#d4d4d4"/>
<rect x="1302.5" y="1841.8" width="34.6" height="25.05" fill="#000"/>
<rect x="1389" y="1841.8" width="17.3" height="25.05" fill="#d4d4d4"/>
<rect x="1406.3" y="1841.8" width="69.2" height="25.05" fill="#000"/>
<rect x="1492.8" y="1841.8" width="17.3" height="25.05" fill="#000"/>
<rect x="1510.1" y="1841.8" width="17.3" height="25.05" fill="#d4d4d4"/>
<rect x="1527.4" y="1841.8" width="69.2" height="25.05" fill="#000"/>
<rect x="524" y="1866.45" width="17.3" height="25.05" fill="#000"/>
<rect x="575.9" y="1866.45" width="17.3" height="25.05" fill="#d4d4d4"/>
<rect x="593.2" y="1866.45" width="34.6" height="25.05" fill="#000"/>
<rect x="645.1" y="1866.45" width="17.3" height="25.05" fill="#000"/>
<rect x="679.7" y="1866.45" width="34.6" height="25.05" fill="#000"/>
<rect x="714.3" y="1866.45" width="17.3" height="25.05" fill="#d4d4d4"/>
<rect x="731.6" y="1866.45" width="69.2" height="25.05" fill="#000"/>
<rect x="800.8" y="1866.45" width="17.3" height="25.05" fill="#d4d4d4"/>
<rect x="818.1" y="1866.45" width="17.3" height="25.05" fill="#000"/>
<rect x="852.7" y="1866.45" width="34.6" height="25.05" fill="#000"/>
<rect x="904.6" y="1866.45" width="34.6" height="25.05" fill="#000"/>
<rect x="956.5" y="1866.45" width="69.2" height="25.05" fill="#000"/>
<rect x="1025.7" y="1866.45" width="17.3" height="25.05" fill="#d4d4d4"/>
<rect x="1060.3" y="1866.45" width="17.3" height="25.05" fill="#000"/>
<rect x="1077.6" y="1866.45" width="17.3" height="25.05" fill="#d4d4d4"/>
<rect x="1129.5" y="1866.45" width="17.3" height="25.05" fill="#d4d4d4"/>
<rect x="1285.2" y="1866.45" width="17.3" height="25.05" fill="#000"/>
<rect x="1302.5" y="1866.45" width="17.3" height="25.05" fill="#d4d4d4"/>
<rect x="1319.8" y="1866.45" width="17.3" height="25.05" fill="#000"/>
<rect x="1354.4" y="1866.45" width="17.3" height="25.05" fill="#000"/>
<rect x="1389" y="1866.45" width="17.3" height="25.05" fill="#d4d4d4"/>
<rect x="1406.3" y="1866.45" width="69.2" height="25.05" fill="#000"/>
<rect x="1492.8" y="1866.45" width="17.3" height="25.05" fill="#000"/>
<rect x="1510.1" y="1866.45" width="17.3" height="25.05" fill="#d4d4d4"/>
<rect x="1527.4" y="1866.45" width="69.2" height="25.05" fill="#000"/>
<rect x="472.1" y="1891.1" width="34.6" height="25.05" fill="#000"/>
<rect x="541.3" y="1891.1" width="51.9" height="25.05" fill="#000"/>
<rect x="610.5" y="1891.1" width="276.8" height="25.05" fill="#000"/>
<rect x="904.6" y="1891.1" width="34.6" height="25.05" fill="#000"/>
<rect x="939.2" y="1891.1" width="17.3" height="25.05" fill="#d4d4d4"/>
<rect x="956.5" y="1891.1" width="138.4" height="25.05" fill="#000"/>
<rect x="1094.9" y="1891.1" width="17.3" height="25.05" fill="#d4d4d4"/>
<rect x="1285.2" y="1891.1" width="311.4" height="25.05" fill="#000"/>
<rect x="593.2" y="1915.75" width="51.9" height="25.05" fill="#000"/>
<rect x="645.1" y="1915.75" width="17.3" height="25.05" fill="#d4d4d4"/>
<rect x="662.4" y="1915.75" width="51.9" height="25.05" fill="#000"/>
<rect x="731.6" y="1915.75" width="17.3" height="25.05" fill="#000"/>
<rect x="766.2" y="1915.75" width="17.3" height="25.05" fill="#000"/>
<rect x="800.8" y="1915.75" width="17.3" height="25.05" fill="#000"/>
<rect x="835.4" y="1915.75" width="34.6" height="25.05" fill="#000"/>
<rect x="904.6" y="1915.75" width="17.3" height="25.05" fill="#d4d4d4"/>
<rect x="921.9" y="1915.75" width="17.3" height="25.05" fill="#000"/>
<rect x="939.2" y="1915.75" width="17.3" height="25.05" fill="#d4d4d4"/>
<rect x="956.5" y="1915.75" width="34.6" height="25.05" fill="#000"/>
<rect x="1008.4" y="1915.75" width="34.6" height="25.05" fill="#000"/>
<rect x="1060.3" y="1915.75" width="17.3" height="25.05" fill="#000"/>
<rect x="1077.6" y="1915.75" width="17.3" height="25.05" fill="#d4d4d4"/>
<rect x="1302.5" y="1915.75" width="34.6" height="25.05" fill="#000"/>
<rect x="1337.1" y="1915.75" width="17.3" height="25.05" fill="#d4d4d4"/>
<rect x="1389" y="1915.75" width="103.8" height="25.05" fill="#000"/>
<rect x="1510.1" y="1915.75" width="86.5" height="25.05" fill="#000"/>
<rect x="541.3" y="1940.4" width="17.3" height="25.05" fill="#d4d4d4"/>
<rect x="575.9" y="1940.4" width="51.9" height="25.05" fill="#000"/>
<rect x="645.1" y="1940.4" width="69.2" height="25.05" fill="#000"/>
<rect x="714.3" y="1940.4" width="17.3" height="25.05" fill="#d4d4d4"/>
<rect x="731.6" y="1940.4" width="51.9" height="25.05" fill="#000"/>
<rect x="800.8" y="1940.4" width="34.6" height="25.05" fill="#000"/>
<rect x="852.7" y="1940.4" width="34.6" height="25.05" fill="#000"/>
<rect x="956.5" y="1940.4" width="86.5" height="25.05" fill="#000"/>
<rect x="1060.3" y="1940.4" width="17.3" height="25.05" fill="#000"/>
<rect x="1077.6" y="1940.4" width="34.6" height="25.05" fill="#d4d4d4"/>
<rect x="1129.5" y="1940.4" width="17.3" height="25.05" fill="#d4d4d4"/>
<rect x="1337.1" y="1940.4" width="17.3" height="25.05" fill="#d4d4d4"/>
<rect x="1406.3" y="1940.4" width="17.3" height="25.05" fill="#000"/>
<rect x="1440.9" y="1940.4" width="34.6" height="25.05" fill="#000"/>
<rect x="1510.1" y="1940.4" width="34.6" height="25.05" fill="#000"/>
<rect x="1544.7" y="1940.4" width="17.3" height="25.05" fill="#d4d4d4"/>
<rect x="1562" y="1940.4" width="17.3" height="25.05" fill="#000"/>
<rect x="524" y="1965.05" width="17.3" height="25.05" fill="#000"/>
<rect x="541.3" y="1965.05" width="17.3" height="25.05" fill="#d4d4d4"/>
<rect x="610.5" y="1965.05" width="17.3" height="25.05" fill="#000"/>
<rect x="662.4" y="1965.05" width="51.9" height="25.05" fill="#000"/>
<rect x="714.3" y="1965.05" width="17.3" height="25.05" fill="#d4d4d4"/>
<rect x="731.6" y="1965.05" width="34.6" height="25.05" fill="#000"/>
<rect x="766.2" y="1965.05" width="17.3" height="25.05" fill="#d4d4d4"/>
<rect x="800.8" y="1965.05" width="34.6" height="25.05" fill="#000"/>
<rect x="852.7" y="1965.05" width="17.3" height="25.05" fill="#000"/>
<rect x="939.2" y="1965.05" width="17.3" height="25.05" fill="#d4d4d4"/>
<rect x="973.8" y="1965.05" width="69.2" height="25.05" fill="#000"/>
<rect x="1060.3" y="1965.05" width="17.3" height="25.05" fill="#000"/>
<rect x="1077.6" y="1965.05" width="17.3" height="25.05" fill="#d4d4d4"/>
<rect x="1302.5" y="1965.05" width="17.3" height="25.05" fill="#d4d4d4"/>
<rect x="1319.8" y="1965.05" width="17.3" height="25.05" fill="#000"/>
<rect x="1389" y="1965.05" width="34.6" height="25.05" fill="#d4d4d4"/>
<rect x="1440.9" y="1965.05" width="34.6" height="25.05" fill="#000"/>
<rect x="1492.8" y="1965.05" width="17.3" height="25.05" fill="#d4d4d4"/>
<rect x="1510.1" y="1965.05" width="69.2" height="25.05" fill="#000"/>
<path d="M489.4 1595.3V1693.9M489.4 1743.2V1841.8M489.4 1891.1V1915.75M541.3 1595.3V1693.9M541.3 1718.55V1841.8M558.6 1595.3V1841.8M558.6 1891.1V1915.75M575.9 1595.3V1743.2M575.9 1891.1V1915.75M593.2 1669.25V1743.2M593.2 1940.4V1965.05M610.5 1669.25V1891.1M610.5 1915.75V1965.05M627.8 1595.3V1841.8M627.8 1891.1V1940.4M645.1 1595.3V1841.8M645.1 1891.1V1915.75M662.4 1595.3V1693.9M662.4 1891.1V1915.75M662.4 1940.4V1965.05M679.7 1595.3V1693.9M679.7 1891.1V1989.7M697 1595.3V1989.7M714.3 1595.3V1669.25M714.3 1693.9V1817.15M714.3 1891.1V1915.75M731.6 1595.3V1669.25M731.6 1693.9V1817.15M731.6 1891.1V1915.75M748.9 1595.3V1841.8M748.9 1866.45V1915.75M748.9 1940.4V1989.7M766.2 1595.3V1841.8M766.2 1866.45V1915.75M766.2 1940.4V1965.05M783.5 1595.3V1915.75M800.8 1595.3V1841.8M800.8 1891.1V1915.75M818.1 1595.3V1841.8M818.1 1891.1V1915.75M818.1 1940.4V1989.7M835.4 1595.3V1841.8M835.4 1891.1V1915.75M852.7 1595.3V1841.8M852.7 1891.1V1940.4M870 1595.3V1915.75M870 1940.4V1965.05M921.9 1595.3V1693.9M921.9 1718.55V1915.75M973.8 1595.3V1965.05M991.1 1595.3V1718.55M991.1 1743.2V1915.75M991.1 1940.4V1989.7M1008.4 1595.3V1718.55M1008.4 1743.2V1915.75M1008.4 1940.4V1989.7M1025.7 1595.3V1792.5M1025.7 1817.15V1866.45M1025.7 1891.1V1989.7M1043 1595.3V1718.55M1043 1743.2V1792.5M1043 1817.15V1841.8M1043 1891.1V1915.75M1060.3 1595.3V1718.55M1060.3 1743.2V1841.8M1060.3 1891.1V1915.75M1077.6 1595.3V1669.25M1077.6 1743.2V1841.8M1077.6 1891.1V1915.75M1302.5 1595.3V1743.2M1302.5 1891.1V1915.75M1319.8 1595.3V1743.2M1319.8 1841.8V1866.45M1319.8 1891.1V1940.4M1337.1 1595.3V1743.2M1337.1 1891.1V1915.75M1354.4 1595.3V1669.25M1354.4 1693.9V1841.8M1354.4 1891.1V1915.75M1371.7 1595.3V1669.25M1371.7 1693.9V1841.8M1371.7 1891.1V1915.75M1389 1595.3V1841.8M1389 1891.1V1915.75M1406.3 1595.3V1743.2M1406.3 1891.1V1940.4M1423.6 1595.3V1743.2M1423.6 1841.8V1940.4M1440.9 1595.3V1940.4M1458.2 1595.3V1989.7M1475.5 1595.3V1693.9M1475.5 1743.2V1841.8M1475.5 1891.1V1940.4M1492.8 1595.3V1669.25M1492.8 1743.2V1841.8M1492.8 1891.1V1915.75M1510.1 1595.3V1669.25M1510.1 1743.2V1841.8M1510.1 1891.1V1915.75M1527.4 1595.3V1841.8M1527.4 1891.1V1989.7M1544.7 1595.3V1940.4M1544.7 1965.05V1989.7M1562 1595.3V1940.4M1562 1965.05V1989.7M1579.3 1595.3V1940.4M472.1 1619.95H506.7M524 1619.95H593.2M610.5 1619.95H887.3M904.6 1619.95H939.2M956.5 1619.95H1094.9M1285.2 1619.95H1596.6M472.1 1644.6H506.7M524 1644.6H593.2M610.5 1644.6H887.3M904.6 1644.6H939.2M956.5 1644.6H1094.9M1285.2 1644.6H1596.6M472.1 1669.25H506.7M524 1669.25H593.2M610.5 1669.25H714.3M731.6 1669.25H887.3M904.6 1669.25H939.2M956.5 1669.25H1077.6M1285.2 1669.25H1354.4M1371.7 1669.25H1492.8M1510.1 1669.25H1596.6M489.4 1693.9H506.7M541.3 1693.9H662.4M679.7 1693.9H714.3M731.6 1693.9H887.3M956.5 1693.9H1077.6M1285.2 1693.9H1354.4M1371.7 1693.9H1475.5M1510.1 1693.9H1596.6M489.4 1718.55H506.7M541.3 1718.55H662.4M679.7 1718.55H887.3M956.5 1718.55H991.1M1008.4 1718.55H1043M1060.3 1718.55H1077.6M1285.2 1718.55H1475.5M1510.1 1718.55H1596.6M489.4 1743.2H506.7M524 1743.2H575.9M593.2 1743.2H662.4M679.7 1743.2H887.3M904.6 1743.2H939.2M956.5 1743.2H991.1M1008.4 1743.2H1043M1060.3 1743.2H1077.6M1337.1 1743.2H1406.3M1423.6 1743.2H1475.5M1510.1 1743.2H1596.6M472.1 1767.85H506.7M524 1767.85H575.9M593.2 1767.85H662.4M679.7 1767.85H887.3M904.6 1767.85H939.2M956.5 1767.85H1094.9M1337.1 1767.85H1406.3M1423.6 1767.85H1596.6M472.1 1792.5H506.7M524 1792.5H575.9M593.2 1792.5H662.4M679.7 1792.5H887.3M904.6 1792.5H939.2M956.5 1792.5H1025.7M1043 1792.5H1094.9M1337.1 1792.5H1406.3M1423.6 1792.5H1596.6M472.1 1817.15H506.7M524 1817.15H575.9M593.2 1817.15H662.4M679.7 1817.15H714.3M731.6 1817.15H887.3M904.6 1817.15H939.2M956.5 1817.15H1025.7M1043 1817.15H1094.9M1337.1 1817.15H1406.3M1423.6 1817.15H1596.6M524 1841.8H541.3M593.2 1841.8H627.8M645.1 1841.8H662.4M679.7 1841.8H714.3M731.6 1841.8H748.9M766.2 1841.8H800.8M818.1 1841.8H835.4M852.7 1841.8H887.3M904.6 1841.8H939.2M956.5 1841.8H1043M1060.3 1841.8H1077.6M1423.6 1841.8H1475.5M1492.8 1841.8H1510.1M1527.4 1841.8H1596.6M524 1866.45H541.3M593.2 1866.45H627.8M645.1 1866.45H662.4M679.7 1866.45H714.3M731.6 1866.45H748.9M766.2 1866.45H800.8M818.1 1866.45H835.4M852.7 1866.45H887.3M904.6 1866.45H939.2M956.5 1866.45H1025.7M1060.3 1866.45H1077.6M1319.8 1866.45H1337.1M1406.3 1866.45H1475.5M1492.8 1866.45H1510.1M1527.4 1866.45H1596.6M610.5 1891.1H627.8M645.1 1891.1H662.4M679.7 1891.1H714.3M731.6 1891.1H800.8M818.1 1891.1H835.4M852.7 1891.1H887.3M904.6 1891.1H939.2M956.5 1891.1H1025.7M1060.3 1891.1H1077.6M1285.2 1891.1H1302.5M1319.8 1891.1H1337.1M1354.4 1891.1H1371.7M1406.3 1891.1H1475.5M1492.8 1891.1H1510.1M1527.4 1891.1H1596.6M610.5 1915.75H645.1M662.4 1915.75H714.3M731.6 1915.75H748.9M766.2 1915.75H783.5M800.8 1915.75H818.1M835.4 1915.75H870M921.9 1915.75H939.2M956.5 1915.75H991.1M1008.4 1915.75H1043M1060.3 1915.75H1077.6M1302.5 1915.75H1337.1M1389 1915.75H1492.8M1510.1 1915.75H1596.6M593.2 1940.4H627.8M662.4 1940.4H714.3M731.6 1940.4H748.9M766.2 1940.4H783.5M800.8 1940.4H818.1M852.7 1940.4H870M956.5 1940.4H991.1M1008.4 1940.4H1043M1060.3 1940.4H1077.6M1406.3 1940.4H1423.6M1440.9 1940.4H1475.5M1510.1 1940.4H1544.7M1562 1940.4H1579.3M610.5 1965.05H627.8M662.4 1965.05H714.3M731.6 1965.05H766.2M800.8 1965.05H835.4M852.7 1965.05H870M973.8 1965.05H1043M1060.3 1965.05H1077.6M1440.9 1965.05H1475.5M1510.1 1965.05H1544.7M1562 1965.05H1579.3" fill="none" stroke="#262626" stroke-width="1"/>
<text transform="translate(0,1613.5) scale(1.2700,1)" font-family="'Liberation Mono', 'Courier New', monospace" font-size="20" style="font-weight:bold"><tspan x="372.54 386.17" fill="#fff">ES</tspan><tspan x="399.79">M</tspan><tspan x="413.41 427.03 440.65 454.28" fill="#fff">SKAI</tspan><tspan x="467.90">Q</tspan><tspan x="481.52 495.14 508.76 522.39 536.01 549.63 563.25 576.87 590.50 604.12 617.74 631.36 644.98 658.61 672.23 685.85" fill="#fff">QYTVDARLHAVFEQSG</tspan><tspan x="699.47">E</tspan><tspan x="713.09 726.72" fill="#fff">SG</tspan><tspan x="740.34">K</tspan><tspan x="753.96 767.58 781.20 794.83 808.45 822.07 835.69 849.31" fill="#fff">SFDYSQSL</tspan><tspan x="862.94 876.56 890.18 903.80 917.43">KTTTY</tspan><tspan x="929.25 942.87" font-size="26">--</tspan><tspan x="958.29">G</tspan><tspan x="970.11 983.74" font-size="26">--</tspan><tspan x="999.16">S</tspan><tspan x="1012.78 1026.40 1040.02 1053.65 1067.27 1080.89 1094.51 1108.13 1121.76 1135.38 1149.00 1162.62 1176.24 1189.87 1203.49 1217.11 1230.73 1244.35" fill="#fff">SVPEQQITAYLSRIQRGG</tspan></text>
<text transform="translate(0,1638.15) scale(1.2700,1)" font-family="'Liberation Mono', 'Courier New', monospace" font-size="20" style="font-weight:bold"><tspan x="372.54 386.17" fill="#fff">ES</tspan><tspan x="399.79">M</tspan><tspan x="413.41 427.03 440.65 454.28" fill="#fff">SKAI</tspan><tspan x="467.90">Q</tspan><tspan x="481.52 495.14 508.76 522.39 536.01 549.63 563.25 576.87 590.50 604.12 617.74 631.36 644.98 658.61 672.23 685.85" fill="#fff">QYTVDARLHAVFEQSG</tspan><tspan x="699.47">E</tspan><tspan x="713.09 726.72" fill="#fff">SG</tspan><tspan x="740.34">K</tspan><tspan x="753.96 767.58 781.20 794.83 808.45 822.07 835.69 849.31" fill="#fff">SFDYSQSL</tspan><tspan x="862.94 876.56 890.18 903.80 917.43">KTTTY</tspan><tspan x="929.25 942.87" font-size="26">--</tspan><tspan x="958.29">G</tspan><tspan x="970.11 983.74" font-size="26">--</tspan><tspan x="999.16">S</tspan><tspan x="1012.78 1026.40 1040.02 1053.65 1067.27 1080.89 1094.51 1108.13 1121.76 1135.38 1149.00 1162.62 1176.24 1189.87 1203.49 1217.11 1230.73 1244.35" fill="#fff">SVPEQQITAYLSRIQRGG</tspan></text>
<text transform="translate(0,1662.8) scale(1.2700,1)" font-family="'Liberation Mono', 'Courier New', monospace" font-size="20" style="font-weight:bold"><tspan x="372.54 386.17" fill="#fff">ES</tspan><tspan x="399.79">V</tspan><tspan x="413.41 427.03 440.65 454.28" fill="#fff">SKAI</tspan><tspan x="467.90">Q</tspan><tspan x="481.52 495.14 508.76 522.39 536.01 549.63 563.25 576.87 590.50 604.12 617.74 631.36 644.98 658.61 672.23 685.85" fill="#fff">QYTVDARLHAVFEQSG</tspan><tspan x="699.47">E</tspan><tspan x="713.09 726.72" fill="#fff">SG</tspan><tspan x="740.34">K</tspan><tspan x="753.96 767.58 781.20 794.83 808.45 822.07 835.69 849.31" fill="#fff">SFDYSQSL</tspan><tspan x="862.94 876.56 890.18 903.80 917.43">KTTTY</tspan><tspan x="929.25 942.87" font-size="26">--</tspan><tspan x="958.29">G</tspan><tspan x="970.11 983.74" font-size="26">--</tspan><tspan x="999.16">S</tspan><tspan x="1012.78 1026.40 1040.02 1053.65 1067.27 1080.89 1094.51 1108.13 1121.76 1135.38 1149.00 1162.62 1176.24 1189.87 1203.49 1217.11 1230.73 1244.35" fill="#fff">SVPEQQITAYLSRIQRGG</tspan></text>
<text transform="translate(0,1687.45) scale(1.2700,1)" font-family="'Liberation Mono', 'Courier New', monospace" font-size="20" style="font-weight:bold"><tspan x="372.54 386.17" fill="#fff">ES</tspan><tspan x="399.79">V</tspan><tspan x="413.41 427.03 440.65 454.28 467.90 481.52 495.14 508.76 522.39 536.01 549.63" fill="#fff">SKAIAQYTVDA</tspan><tspan x="563.25">Q</tspan><tspan x="576.87 590.50 604.12 617.74 631.36 644.98 658.61 672.23 685.85" fill="#fff">LHAVFEQSG</tspan><tspan x="699.47">G</tspan><tspan x="713.09 726.72" fill="#fff">SG</tspan><tspan x="740.34">K</tspan><tspan x="753.96 767.58 781.20 794.83 808.45 822.07 835.69" fill="#fff">SFDYSQS</tspan><tspan x="849.31 862.94 876.56 890.18">VRTT</tspan><tspan x="902.00 915.63 929.25 942.87" font-size="26">----</tspan><tspan x="958.29">S</tspan><tspan x="970.11 983.74" font-size="26">--</tspan><tspan x="999.16">Q</tspan><tspan x="1012.78 1026.40 1040.02 1053.65" fill="#fff">SVPE</tspan><tspan x="1067.27">E</tspan><tspan x="1080.89 1094.51 1108.13 1121.76 1135.38 1149.00 1162.62" fill="#fff">QITAYLS</tspan><tspan x="1176.24">K</tspan><tspan x="1189.87 1203.49 1217.11 1230.73 1244.35" fill="#fff">IQRGG</tspan></text>
<text transform="translate(0,1712.1) scale(1.2700,1)" font-family="'Liberation Mono', 'Courier New', monospace" font-size="20" style="font-weight:bold"><tspan x="372.54">K</tspan><tspan x="386.17" fill="#fff">S</tspan><tspan x="399.79 413.41">MK</tspan><tspan x="427.03 440.65 454.28 467.90 481.52 495.14 508.76" fill="#fff">KAIAQYT</tspan><tspan x="522.39">E</tspan><tspan x="536.01 549.63 563.25 576.87 590.50 604.12 617.74 631.36 644.98 658.61 672.23 685.85" fill="#fff">DARLHAVFEQSG</tspan><tspan x="697.67 711.29 724.92" font-size="26">---</tspan><tspan x="740.34">D</tspan><tspan x="753.96 767.58 781.20 794.83 808.45 822.07 835.69" fill="#fff">SFDYSQS</tspan><tspan x="849.31 862.94 876.56 890.18 903.80 917.43 931.05 944.67 958.29">IRLTTAAHS</tspan><tspan x="970.11 983.74" font-size="26">--</tspan><tspan x="999.16">Q</tspan><tspan x="1012.78 1026.40 1040.02 1053.65 1067.27 1080.89 1094.51 1108.13 1121.76 1135.38 1149.00" fill="#fff">SVPEQQITAYL</tspan><tspan x="1162.62 1176.24">AK</tspan><tspan x="1189.87 1203.49 1217.11 1230.73 1244.35" fill="#fff">IQRGG</tspan></text>
<text transform="translate(0,1736.75) scale(1.2700,1)" font-family="'Liberation Mono', 'Courier New', monospace" font-size="20" style="font-weight:bold"><tspan x="372.54">D</tspan><tspan x="386.17" fill="#fff">S</tspan><tspan x="399.79">M</tspan><tspan x="413.41 427.03 440.65 454.28 467.90 481.52 495.14 508.76" fill="#fff">SKAIAQYT</tspan><tspan x="522.39">E</tspan><tspan x="536.01 549.63 563.25 576.87 590.50 604.12 617.74 631.36 644.98 658.61 672.23 685.85" fill="#fff">DARLHAVFEQSG</tspan><tspan x="699.47">E</tspan><tspan x="713.09 726.72" fill="#fff">SG</tspan><tspan x="740.34">R</tspan><tspan x="753.96 767.58" fill="#fff">SF</tspan><tspan x="781.20">N</tspan><tspan x="794.83 808.45" fill="#fff">YS</tspan><tspan x="822.07">E</tspan><tspan x="835.69" fill="#fff">S</tspan><tspan x="849.31 862.94 876.56 890.18">IRIA</tspan><tspan x="902.00 915.63 929.25 942.87" font-size="26">----</tspan><tspan x="958.29">S</tspan><tspan x="970.11 983.74" font-size="26">--</tspan><tspan x="999.16">E</tspan><tspan x="1012.78 1026.40 1040.02 1053.65 1067.27 1080.89 1094.51 1108.13 1121.76 1135.38 1149.00" fill="#fff">SVPEQQITAYL</tspan><tspan x="1162.62 1176.24">VK</tspan><tspan x="1189.87 1203.49 1217.11 1230.73 1244.35" fill="#fff">IQRGG</tspan></text>
<text transform="translate(0,1761.4) scale(1.2700,1)" font-family="'Liberation Mono', 'Courier New', monospace" font-size="20" style="font-weight:bold"><tspan x="372.54 386.17" fill="#fff">ES</tspan><tspan x="399.79">V</tspan><tspan x="413.41 427.03 440.65" fill="#fff">SKA</tspan><tspan x="454.28">V</tspan><tspan x="467.90 481.52 495.14 508.76" fill="#fff">AQYT</tspan><tspan x="522.39">L</tspan><tspan x="536.01 549.63 563.25 576.87 590.50 604.12 617.74 631.36 644.98 658.61 672.23 685.85" fill="#fff">DARLHAVFEQSG</tspan><tspan x="699.47">A</tspan><tspan x="713.09 726.72" fill="#fff">SG</tspan><tspan x="740.34">R</tspan><tspan x="753.96 767.58 781.20 794.83 808.45 822.07 835.69 849.31" fill="#fff">SFDYSQSL</tspan><tspan x="862.94 876.56 890.18 903.80 917.43">RAPPT</tspan><tspan x="929.25 942.87 956.49 970.11 983.74 997.36" font-size="26">------</tspan><tspan x="1012.78 1026.40 1040.02">PSS</tspan><tspan x="1053.65 1067.27 1080.89 1094.51" fill="#fff">EQQI</tspan><tspan x="1108.13">A</tspan><tspan x="1121.76 1135.38 1149.00 1162.62 1176.24 1189.87 1203.49 1217.11 1230.73 1244.35" fill="#fff">AYLSRIQRGG</tspan></text>
<text transform="translate(0,1786.05) scale(1.2700,1)" font-family="'Liberation Mono', 'Courier New', monospace" font-size="20" style="font-weight:bold"><tspan x="372.54 386.17" fill="#fff">ES</tspan><tspan x="399.79">V</tspan><tspan x="413.41 427.03 440.65" fill="#fff">SKA</tspan><tspan x="454.28">V</tspan><tspan x="467.90 481.52 495.14 508.76" fill="#fff">AQYT</tspan><tspan x="522.39">L</tspan><tspan x="536.01 549.63 563.25 576.87 590.50 604.12 617.74 631.36 644.98 658.61 672.23 685.85" fill="#fff">DARLHAVFEQSG</tspan><tspan x="699.47">A</tspan><tspan x="713.09 726.72" fill="#fff">SG</tspan><tspan x="740.34">R</tspan><tspan x="753.96 767.58 781.20 794.83 808.45 822.07 835.69 849.31" fill="#fff">SFDYSQSL</tspan><tspan x="862.94 876.56 890.18 903.80 917.43">RAPPT</tspan><tspan x="929.25 942.87 956.49 970.11 983.74 997.36" font-size="26">------</tspan><tspan x="1012.78 1026.40 1040.02">PSS</tspan><tspan x="1053.65 1067.27 1080.89 1094.51" fill="#fff">EQQI</tspan><tspan x="1108.13">A</tspan><tspan x="1121.76 1135.38 1149.00 1162.62 1176.24 1189.87 1203.49 1217.11 1230.73 1244.35" fill="#fff">AYLSRIQRGG</tspan></text>
<text transform="translate(0,1810.7) scale(1.2700,1)" font-family="'Liberation Mono', 'Courier New', monospace" font-size="20" style="font-weight:bold"><tspan x="372.54 386.17" fill="#fff">ES</tspan><tspan x="399.79">V</tspan><tspan x="413.41 427.03 440.65" fill="#fff">SKA</tspan><tspan x="454.28">V</tspan><tspan x="467.90 481.52 495.14 508.76" fill="#fff">AQYT</tspan><tspan x="522.39">L</tspan><tspan x="536.01 549.63 563.25 576.87 590.50 604.12 617.74 631.36 644.98 658.61 672.23 685.85" fill="#fff">DARLHAVFEQSG</tspan><tspan x="699.47">A</tspan><tspan x="713.09 726.72" fill="#fff">SG</tspan><tspan x="740.34">R</tspan><tspan x="753.96 767.58 781.20 794.83" fill="#fff">SFDY</tspan><tspan x="808.45">T</tspan><tspan x="822.07 835.69 849.31" fill="#fff">QSL</tspan><tspan x="862.94 876.56 890.18 903.80 917.43">RASPT</tspan><tspan x="929.25 942.87 956.49 970.11 983.74 997.36" font-size="26">------</tspan><tspan x="1012.78 1026.40 1040.02">PSS</tspan><tspan x="1053.65 1067.27 1080.89 1094.51" fill="#fff">EQQI</tspan><tspan x="1108.13">A</tspan><tspan x="1121.76 1135.38 1149.00 1162.62 1176.24 1189.87 1203.49 1217.11 1230.73 1244.35" fill="#fff">AYLSRIQRGG</tspan></text>
<text transform="translate(0,1835.35) scale(1.2700,1)" font-family="'Liberation Mono', 'Courier New', monospace" font-size="20" style="font-weight:bold"><tspan x="372.54 386.17" fill="#fff">ES</tspan><tspan x="399.79">V</tspan><tspan x="413.41 427.03 440.65" fill="#fff">SKA</tspan><tspan x="454.28">V</tspan><tspan x="467.90 481.52 495.14 508.76" fill="#fff">AQYT</tspan><tspan x="522.39">L</tspan><tspan x="536.01 549.63" fill="#fff">DA</tspan><tspan x="563.25">G</tspan><tspan x="576.87 590.50 604.12 617.74 631.36 644.98 658.61 672.23 685.85" fill="#fff">LHAVFEQSG</tspan><tspan x="699.47">A</tspan><tspan x="713.09 726.72" fill="#fff">SG</tspan><tspan x="740.34">R</tspan><tspan x="753.96 767.58 781.20 794.83 808.45 822.07 835.69 849.31" fill="#fff">SFDYSQSL</tspan><tspan x="862.94 876.56 890.18 903.80 917.43">LAPPT</tspan><tspan x="929.25 942.87 956.49 970.11 983.74 997.36" font-size="26">------</tspan><tspan x="1012.78 1026.40 1040.02">PSS</tspan><tspan x="1053.65 1067.27 1080.89 1094.51" fill="#fff">EQQI</tspan><tspan x="1108.13">A</tspan><tspan x="1121.76 1135.38 1149.00 1162.62 1176.24 1189.87 1203.49 1217.11 1230.73 1244.35" fill="#fff">AYLSRIQRGG</tspan></text>
<text transform="translate(0,1860) scale(1.2700,1)" font-family="'Liberation Mono', 'Courier New', monospace" font-size="20" style="font-weight:bold"><tspan x="372.54 386.17 399.79">SKH</tspan><tspan x="413.41" fill="#fff">S</tspan><tspan x="427.03 440.65 454.28">VRV</tspan><tspan x="467.90 481.52" fill="#fff">AQ</tspan><tspan x="495.14">T</tspan><tspan x="508.76" fill="#fff">T</tspan><tspan x="522.39">A</tspan><tspan x="536.01 549.63" fill="#fff">DA</tspan><tspan x="563.25">K</tspan><tspan x="576.87" fill="#fff">L</tspan><tspan x="590.50">Q</tspan><tspan x="604.12 617.74" fill="#fff">AV</tspan><tspan x="631.36">Y</tspan><tspan x="644.98" fill="#fff">E</tspan><tspan x="658.61">E</tspan><tspan x="672.23 685.85" fill="#fff">SG</tspan><tspan x="699.47">D</tspan><tspan x="713.09 726.72" fill="#fff">SG</tspan><tspan x="740.34">D</tspan><tspan x="753.96 767.58 781.20 794.83 808.45" fill="#fff">SFDYS</tspan><tspan x="822.07">K</tspan><tspan x="835.69" fill="#fff">S</tspan><tspan x="849.31 862.94 876.56 890.18 903.80 917.43">VHASKS</tspan><tspan x="929.25" font-size="26">-</tspan><tspan x="944.67 958.29">TG</tspan><tspan x="970.11 983.74" font-size="26">--</tspan><tspan x="999.16 1012.78">EN</tspan><tspan x="1026.40 1040.02" fill="#fff">VP</tspan><tspan x="1053.65 1067.27 1080.89 1094.51">ALAV</tspan><tspan x="1108.13 1121.76 1135.38 1149.00" fill="#fff">TAYL</tspan><tspan x="1162.62">Q</tspan><tspan x="1176.24" fill="#fff">R</tspan><tspan x="1189.87">M</tspan><tspan x="1203.49 1217.11 1230.73 1244.35" fill="#fff">QRGG</tspan></text>
<text transform="translate(0,1884.65) scale(1.2700,1)" font-family="'Liberation Mono', 'Courier New', monospace" font-size="20" style="font-weight:bold"><tspan x="372.54 386.17 399.79">SKH</tspan><tspan x="413.41" fill="#fff">S</tspan><tspan x="427.03 440.65 454.28">VRV</tspan><tspan x="467.90 481.52" fill="#fff">AQ</tspan><tspan x="495.14">T</tspan><tspan x="508.76" fill="#fff">T</tspan><tspan x="522.39">A</tspan><tspan x="536.01 549.63" fill="#fff">DA</tspan><tspan x="563.25">K</tspan><tspan x="576.87 590.50 604.12 617.74" fill="#fff">LHAV</tspan><tspan x="631.36">Y</tspan><tspan x="644.98" fill="#fff">E</tspan><tspan x="658.61">E</tspan><tspan x="672.23 685.85" fill="#fff">SG</tspan><tspan x="699.47">E</tspan><tspan x="713.09 726.72" fill="#fff">SG</tspan><tspan x="740.34">D</tspan><tspan x="753.96 767.58 781.20 794.83" fill="#fff">SFDY</tspan><tspan x="808.45 822.07">TK</tspan><tspan x="835.69" fill="#fff">S</tspan><tspan x="849.31 862.94 876.56 890.18 903.80 917.43">VNATKS</tspan><tspan x="929.25" font-size="26">-</tspan><tspan x="944.67 958.29">TG</tspan><tspan x="970.11 983.74" font-size="26">--</tspan><tspan x="999.16">E</tspan><tspan x="1012.78" fill="#fff">S</tspan><tspan x="1026.40">I</tspan><tspan x="1040.02" fill="#fff">P</tspan><tspan x="1053.65">A</tspan><tspan x="1067.27" fill="#fff">Q</tspan><tspan x="1080.89 1094.51">AV</tspan><tspan x="1108.13 1121.76 1135.38 1149.00" fill="#fff">TAYL</tspan><tspan x="1162.62">Q</tspan><tspan x="1176.24" fill="#fff">R</tspan><tspan x="1189.87">M</tspan><tspan x="1203.49 1217.11 1230.73 1244.35" fill="#fff">QRGG</tspan></text>
<text transform="translate(0,1909.3) scale(1.2700,1)" font-family="'Liberation Mono', 'Courier New', monospace" font-size="20" style="font-weight:bold"><tspan x="372.54 386.17" fill="#fff">ES</tspan><tspan x="399.79 413.41">TN</tspan><tspan x="427.03 440.65 454.28" fill="#fff">KAI</tspan><tspan x="467.90">Q</tspan><tspan x="481.52 495.14 508.76 522.39 536.01 549.63 563.25 576.87 590.50 604.12 617.74 631.36 644.98 658.61 672.23 685.85" fill="#fff">QYTVDARLHAVFEQSG</tspan><tspan x="699.47">E</tspan><tspan x="713.09 726.72" fill="#fff">SG</tspan><tspan x="740.34">K</tspan><tspan x="753.96 767.58 781.20 794.83 808.45 822.07 835.69 849.31" fill="#fff">SFDYSQSL</tspan><tspan x="862.94 876.56 890.18 903.80 917.43">KTAPY</tspan><tspan x="929.25 942.87" font-size="26">--</tspan><tspan x="958.29">D</tspan><tspan x="970.11 983.74" font-size="26">--</tspan><tspan x="999.16">S</tspan><tspan x="1012.78 1026.40 1040.02 1053.65 1067.27 1080.89 1094.51 1108.13 1121.76 1135.38 1149.00 1162.62 1176.24 1189.87 1203.49 1217.11 1230.73 1244.35" fill="#fff">SVPEQQITAYLSRIQRGG</tspan></text>
<text transform="translate(0,1933.95) scale(1.2700,1)" font-family="'Liberation Mono', 'Courier New', monospace" font-size="20" style="font-weight:bold"><tspan x="372.54 386.17 399.79 413.41 427.03 440.65 454.28">QPQKSNT</tspan><tspan x="467.90 481.52 495.14" fill="#fff">AQY</tspan><tspan x="508.76">S</tspan><tspan x="522.39 536.01 549.63" fill="#fff">VDA</tspan><tspan x="563.25">A</tspan><tspan x="576.87" fill="#fff">L</tspan><tspan x="590.50">F</tspan><tspan x="604.12" fill="#fff">A</tspan><tspan x="617.74">D</tspan><tspan x="631.36" fill="#fff">F</tspan><tspan x="644.98">A</tspan><tspan x="658.61 672.23" fill="#fff">QS</tspan><tspan x="685.85 699.47 713.09">IYT</tspan><tspan x="726.72" fill="#fff">G</tspan><tspan x="740.34">K</tspan><tspan x="753.96 767.58" fill="#fff">SF</tspan><tspan x="781.20">N</tspan><tspan x="794.83 808.45" fill="#fff">YS</tspan><tspan x="822.07">K</tspan><tspan x="835.69" fill="#fff">S</tspan><tspan x="849.31 862.94 876.56 890.18 903.80 917.43">VISPPN</tspan><tspan x="929.25 942.87 956.49 970.11 983.74 997.36" font-size="26">------</tspan><tspan x="1012.78">H</tspan><tspan x="1026.40 1040.02" fill="#fff">VP</tspan><tspan x="1053.65 1067.27 1080.89">DEH</tspan><tspan x="1094.51 1108.13 1121.76 1135.38 1149.00 1162.62" fill="#fff">ITAYLS</tspan><tspan x="1176.24">N</tspan><tspan x="1189.87 1203.49 1217.11 1230.73 1244.35" fill="#fff">IQRGG</tspan></text>
<text transform="translate(0,1958.6) scale(1.2700,1)" font-family="'Liberation Mono', 'Courier New', monospace" font-size="20" style="font-weight:bold"><tspan x="372.54 386.17 399.79 413.41 427.03 440.65">RHSARI</tspan><tspan x="454.28 467.90 481.52" fill="#fff">IAQ</tspan><tspan x="495.14">T</tspan><tspan x="508.76 522.39 536.01 549.63" fill="#fff">TVDA</tspan><tspan x="563.25">K</tspan><tspan x="576.87 590.50 604.12" fill="#fff">LHA</tspan><tspan x="617.74">D</tspan><tspan x="631.36 644.98" fill="#fff">FE</tspan><tspan x="658.61">E</tspan><tspan x="672.23 685.85" fill="#fff">SG</tspan><tspan x="697.67 711.29 724.92" font-size="26">---</tspan><tspan x="740.34">S</tspan><tspan x="753.96 767.58 781.20 794.83 808.45" fill="#fff">SFDYS</tspan><tspan x="822.07">T</tspan><tspan x="835.69" fill="#fff">S</tspan><tspan x="849.31 862.94 876.56 890.18 903.80 917.43 931.05 944.67 958.29 971.91 985.54 999.16 1012.78 1026.40 1040.02 1053.65 1067.27 1080.89 1094.51">VRVTGPVVENQPPRSDKVT</tspan><tspan x="1108.13" fill="#fff">T</tspan><tspan x="1121.76">T</tspan><tspan x="1135.38 1149.00" fill="#fff">YL</tspan><tspan x="1162.62 1176.24">HH</tspan><tspan x="1189.87 1203.49" fill="#fff">IQ</tspan><tspan x="1217.11">K</tspan><tspan x="1230.73" fill="#fff">G</tspan><tspan x="1244.35">K</tspan></text>
<text transform="translate(0,1983.25) scale(1.2700,1)" font-family="'Liberation Mono', 'Courier New', monospace" font-size="20" style="font-weight:bold"><tspan x="372.54 386.17 399.79">RQN</tspan><tspan x="413.41" fill="#fff">S</tspan><tspan x="427.03 440.65 454.28 467.90">RVSS</tspan><tspan x="481.52" fill="#fff">Q</tspan><tspan x="495.14 508.76">VL</tspan><tspan x="522.39 536.01 549.63" fill="#fff">VDA</tspan><tspan x="563.25">K</tspan><tspan x="576.87 590.50" fill="#fff">LH</tspan><tspan x="604.12 617.74">GN</tspan><tspan x="631.36 644.98" fill="#fff">FE</tspan><tspan x="658.61">E</tspan><tspan x="672.23" fill="#fff">S</tspan><tspan x="685.85">E</tspan><tspan x="697.67 711.29 724.92" font-size="26">---</tspan><tspan x="740.34 753.96">RL</tspan><tspan x="767.58 781.20 794.83 808.45" fill="#fff">FDYS</tspan><tspan x="822.07">A</tspan><tspan x="835.69" fill="#fff">S</tspan><tspan x="849.31 862.94 876.56 890.18 903.80 917.43 931.05 944.67 958.29">INLNMPSSS</tspan><tspan x="970.11 983.74" font-size="26">--</tspan><tspan x="999.16 1012.78 1026.40">CEI</tspan><tspan x="1040.02" fill="#fff">P</tspan><tspan x="1053.65 1067.27 1080.89 1094.51 1108.13 1121.76">SSAVST</tspan><tspan x="1135.38 1149.00" fill="#fff">YL</tspan><tspan x="1162.62 1176.24">QK</tspan><tspan x="1189.87 1203.49 1217.11 1230.73" fill="#fff">IQRG</tspan><tspan x="1244.35">M</tspan></text>
<text transform="translate(445.3,1615) scale(1,1.04)" font-size="23" text-anchor="end" style="font-weight:bold"><tspan style="font-style:italic">At</tspan> PhyB</text>
<text transform="translate(445.3,1639.65) scale(1,1.04)" font-size="23" text-anchor="end" style="font-weight:bold"><tspan style="font-style:italic">Al</tspan> PhyB</text>
<text transform="translate(445.3,1664.3) scale(1,1.04)" font-size="23" text-anchor="end" style="font-weight:bold"><tspan style="font-style:italic">Cr</tspan> PhyB</text>
<text transform="translate(445.3,1688.95) scale(1,1.04)" font-size="23" text-anchor="end" style="font-weight:bold"><tspan style="font-style:italic">Pt</tspan> PhyB</text>
<text transform="translate(445.3,1713.6) scale(1,1.04)" font-size="23" text-anchor="end" style="font-weight:bold"><tspan style="font-style:italic">Mt</tspan> PhyB</text>
<text transform="translate(445.3,1738.25) scale(1,1.04)" font-size="23" text-anchor="end" style="font-weight:bold"><tspan style="font-style:italic">Gm</tspan> PhyB</text>
<text transform="translate(445.3,1762.9) scale(1,1.04)" font-size="23" text-anchor="end" style="font-weight:bold"><tspan style="font-style:italic">Sb</tspan> PhyB</text>
<text transform="translate(445.3,1787.55) scale(1,1.04)" font-size="23" text-anchor="end" style="font-weight:bold"><tspan style="font-style:italic">Zm</tspan> PhyB</text>
<text transform="translate(445.3,1812.2) scale(1,1.04)" font-size="23" text-anchor="end" style="font-weight:bold"><tspan style="font-style:italic">Os</tspan> PhyB</text>
<text transform="translate(445.3,1836.85) scale(1,1.04)" font-size="23" text-anchor="end" style="font-weight:bold"><tspan style="font-style:italic">Hv</tspan> PhyB</text>
<text transform="translate(445.3,1861.5) scale(1,1.04)" font-size="23" text-anchor="end" style="font-weight:bold"><tspan style="font-style:italic">Sm</tspan> Phy1</text>
<text transform="translate(445.3,1886.15) scale(1,1.04)" font-size="23" text-anchor="end" style="font-weight:bold"><tspan style="font-style:italic">Pp</tspan> Phy1</text>
<text transform="translate(445.3,1910.8) scale(1,1.04)" font-size="23" text-anchor="end" style="font-weight:bold"><tspan style="font-style:italic">At</tspan> PhyD</text>
<text transform="translate(445.3,1935.45) scale(1,1.04)" font-size="23" text-anchor="end" style="font-weight:bold"><tspan style="font-style:italic">At</tspan> PhyE</text>
<text transform="translate(445.3,1960.1) scale(1,1.04)" font-size="23" text-anchor="end" style="font-weight:bold"><tspan style="font-style:italic">At</tspan> PhyA</text>
<text transform="translate(445.3,1984.75) scale(1,1.04)" font-size="23" text-anchor="end" style="font-weight:bold"><tspan style="font-style:italic">At</tspan> PhyC</text>
<polyline points="337.3,1596.8 325.3,1596.8 325.3,1843 337.3,1843" fill="none" stroke="#000" stroke-width="2"/>
<rect x="524.3" y="1579" width="34" height="10.8" fill="#27aae1"/>
<rect x="593" y="1579" width="34.5" height="10.8" fill="#e8202a"/>
<rect x="627.5" y="1579" width="35" height="10.8" fill="#1a9e50"/>
<text transform="translate(605.58,1572.8) scale(1,1.04)" font-size="24.5" style="font-weight:bold" fill="#000">60</text>
<line x1="619.15" y1="1578.4" x2="619.15" y2="1593.9" stroke="#000" stroke-width="1.6"/>
<text transform="translate(778.5,1579) scale(1,1.04)" font-size="24.5" style="font-weight:bold" fill="#000">70</text>
<line x1="792.15" y1="1582.7" x2="792.15" y2="1593" stroke="#000" stroke-width="1.6"/>
<text transform="translate(951.64,1579) scale(1,1.04)" font-size="24.5" style="font-weight:bold" fill="#000">80</text>
<line x1="965.15" y1="1582.7" x2="965.15" y2="1593" stroke="#000" stroke-width="1.6"/>
<text transform="translate(1124.6,1579) scale(1,1.04)" font-size="24.5" style="font-weight:bold" fill="#000">90</text>
<line x1="1138.15" y1="1582.7" x2="1138.15" y2="1593" stroke="#000" stroke-width="1.6"/>
<text transform="translate(1359.64,1579) scale(1,1.04)" font-size="24.5" style="font-weight:bold" fill="#000">100</text>
<line x1="1380.35" y1="1582.7" x2="1380.35" y2="1593" stroke="#000" stroke-width="1.6"/>
<text transform="translate(1532.64,1579) scale(1,1.04)" font-size="24.5" style="font-weight:bold" fill="#000">110</text>
<line x1="1553.35" y1="1582.7" x2="1553.35" y2="1593" stroke="#000" stroke-width="1.6"/>
<polygon points="1437.55,1567.3 1461.55,1567.3 1449.55,1592.9" fill="#e41e26"/>
<polygon points="1506.75,1567.3 1530.75,1567.3 1518.75,1592.9" fill="#e41e26"/>
</svg>
</body></html>
